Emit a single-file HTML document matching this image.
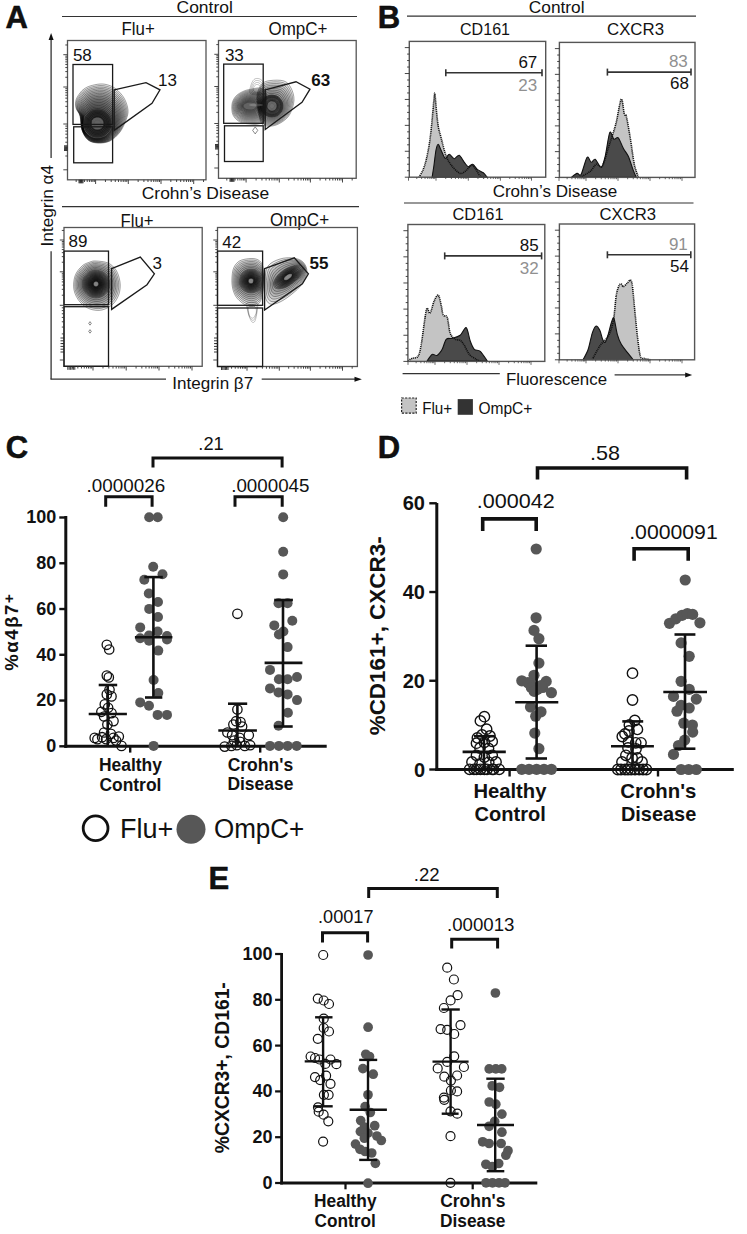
<!DOCTYPE html>
<html><head><meta charset="utf-8"><title>Figure</title>
<style>html,body{margin:0;padding:0;background:#fff;width:747px;height:1234px;overflow:hidden;position:relative;font-family:"Liberation Sans", sans-serif;}</style>
</head><body>
<svg width="747" height="1234" viewBox="0 0 747 1234" style="position:absolute;left:0;top:0" font-family='"Liberation Sans", sans-serif'>
<rect x="0" y="0" width="747" height="1234" fill="#fff"/>
<text x="5.5" y="28" font-size="31" text-anchor="start" fill="#111" font-weight="bold" stroke="#000" stroke-width="0.5">A</text>
<text x="204.7" y="13.2" font-size="17" text-anchor="middle" fill="#111" textLength="56.3" lengthAdjust="spacingAndGlyphs">Control</text>
<line x1="62" y1="16.5" x2="357" y2="16.5" stroke="#333" stroke-width="1.2"/>
<text x="138.2" y="34.9" font-size="17.5" text-anchor="middle" fill="#111" textLength="33.2" lengthAdjust="spacingAndGlyphs">Flu+</text>
<text x="298" y="34.9" font-size="17.5" text-anchor="middle" fill="#111" textLength="59" lengthAdjust="spacingAndGlyphs">OmpC+</text>
<text x="205.5" y="199.2" font-size="17" text-anchor="middle" fill="#111" textLength="127.5" lengthAdjust="spacingAndGlyphs">Crohn’s Disease</text>
<line x1="62" y1="206.6" x2="359" y2="206.6" stroke="#333" stroke-width="1.2"/>
<text x="137.1" y="226.8" font-size="17.5" text-anchor="middle" fill="#111" textLength="33" lengthAdjust="spacingAndGlyphs">Flu+</text>
<text x="299.5" y="226" font-size="17.5" text-anchor="middle" fill="#111" textLength="59.2" lengthAdjust="spacingAndGlyphs">OmpC+</text>
<line x1="51.1" y1="39" x2="51.1" y2="158.1" stroke="#333" stroke-width="1.3"/>
<polygon points="51.1,32.9 48.6,39.9 53.6,39.9" stroke="#222" stroke-width="0" fill="#111" stroke-linejoin="miter"/>
<text transform="translate(52.6,246.4) rotate(-90)" x="0" y="0" font-size="16.5" fill="#111" textLength="81.5" lengthAdjust="spacingAndGlyphs">Integrin α4</text>
<line x1="51.1" y1="251.3" x2="51.1" y2="379.2" stroke="#333" stroke-width="1.3"/>
<line x1="50.5" y1="379.2" x2="166" y2="379.2" stroke="#333" stroke-width="1.3"/>
<text x="172.2" y="389.4" font-size="16.5" text-anchor="start" fill="#111" textLength="81" lengthAdjust="spacingAndGlyphs">Integrin β7</text>
<line x1="261.7" y1="379.2" x2="355.5" y2="379.2" stroke="#333" stroke-width="1.3"/>
<polygon points="361.9,379.2 354.5,376.7 354.5,381.7" stroke="#222" stroke-width="0" fill="#111" stroke-linejoin="miter"/>
<g><path d="M90.00,86.00 C92.67,85.17 97.00,84.17 100.00,84.00 C103.00,83.83 105.33,84.17 108.00,85.00 C110.67,85.83 113.33,86.83 116.00,89.00 C118.67,91.17 122.00,94.50 124.00,98.00 C126.00,101.50 127.67,106.33 128.00,110.00 C128.33,113.67 127.33,116.33 126.00,120.00 C124.67,123.67 122.67,128.50 120.00,132.00 C117.33,135.50 113.67,139.17 110.00,141.00 C106.33,142.83 101.67,143.17 98.00,143.00 C94.33,142.83 90.67,142.17 88.00,140.00 C85.33,137.83 83.33,134.00 82.00,130.00 C80.67,126.00 81.00,119.67 80.00,116.00 C79.00,112.33 76.67,110.67 76.00,108.00 C75.33,105.33 75.33,102.50 76.00,100.00 C76.67,97.50 78.67,94.83 80.00,93.00 C81.33,91.17 82.33,90.17 84.00,89.00 C85.67,87.83 87.33,86.83 90.00,86.00Z" fill="#000" fill-opacity="0.06" stroke="#000" stroke-opacity="0.7" stroke-width="0.5"/><path d="M90.28,87.42 C92.85,86.63 97.02,85.69 99.90,85.53 C102.79,85.38 105.03,85.70 107.59,86.50 C110.15,87.30 112.72,88.26 115.29,90.33 C117.86,92.40 121.08,95.59 123.02,98.94 C124.96,102.30 126.60,106.94 126.95,110.46 C127.31,113.99 126.40,116.55 125.15,120.10 C123.90,123.66 122.04,128.37 119.47,131.80 C116.91,135.23 113.34,138.85 109.76,140.67 C106.18,142.49 101.60,142.87 97.99,142.72 C94.39,142.57 90.77,141.91 88.13,139.78 C85.48,137.65 83.42,133.90 82.10,129.96 C80.79,126.01 81.15,119.69 80.23,116.10 C79.31,112.51 77.17,110.97 76.58,108.42 C76.00,105.87 76.04,103.16 76.71,100.78 C77.38,98.39 79.33,95.84 80.63,94.09 C81.93,92.34 82.89,91.39 84.50,90.28 C86.11,89.17 87.72,88.22 90.28,87.42Z" fill="#000" fill-opacity="0.06" stroke="#000" stroke-opacity="0.7" stroke-width="0.5"/><path d="M90.57,88.85 C93.04,88.10 97.04,87.21 99.81,87.07 C102.57,86.93 104.72,87.24 107.18,88.00 C109.64,88.77 112.10,89.68 114.57,91.66 C117.05,93.64 120.15,96.68 122.04,99.89 C123.93,103.10 125.53,107.54 125.90,110.93 C126.28,114.32 125.46,116.76 124.30,120.21 C123.14,123.65 121.40,128.25 118.94,131.60 C116.48,134.96 113.02,138.53 109.53,140.34 C106.03,142.14 101.53,142.57 97.99,142.44 C94.44,142.31 90.88,141.65 88.25,139.56 C85.62,137.48 83.51,133.81 82.21,129.91 C80.91,126.02 81.30,119.71 80.46,116.20 C79.62,112.69 77.67,111.28 77.17,108.84 C76.66,106.40 76.74,103.83 77.42,101.55 C78.10,99.28 79.99,96.85 81.25,95.19 C82.52,93.52 83.45,92.62 85.00,91.57 C86.56,90.51 88.10,89.60 90.57,88.85Z" fill="#000" fill-opacity="0.06" stroke="#000" stroke-opacity="0.7" stroke-width="0.5"/><path d="M90.85,90.27 C93.22,89.56 97.06,88.73 99.71,88.60 C102.36,88.47 104.41,88.77 106.77,89.51 C109.13,90.24 111.48,91.10 113.86,92.99 C116.24,94.88 119.23,97.76 121.06,100.83 C122.89,103.90 124.45,108.15 124.85,111.39 C125.25,114.64 124.52,116.98 123.45,120.31 C122.37,123.65 120.77,128.12 118.41,131.40 C116.05,134.68 112.70,138.21 109.29,140.01 C105.89,141.80 101.46,142.27 97.98,142.16 C94.49,142.04 90.99,141.39 88.38,139.34 C85.77,137.30 83.59,133.71 82.31,129.87 C81.03,126.03 81.46,119.73 80.70,116.30 C79.94,112.86 78.18,111.59 77.75,109.26 C77.32,106.93 77.44,104.49 78.13,102.33 C78.82,100.17 80.65,97.86 81.88,96.28 C83.11,94.70 84.01,93.85 85.51,92.85 C87.00,91.85 88.49,90.98 90.85,90.27Z" fill="#000" fill-opacity="0.06" stroke="#000" stroke-opacity="0.7" stroke-width="0.5"/><path d="M91.14,91.70 C93.41,91.03 97.07,90.25 99.61,90.13 C102.15,90.02 104.11,90.31 106.36,91.01 C108.62,91.71 110.86,92.53 113.15,94.32 C115.43,96.11 118.30,98.85 120.08,101.77 C121.85,104.70 123.38,108.75 123.80,111.86 C124.22,114.96 123.58,117.19 122.60,120.42 C121.61,123.64 120.14,127.99 117.88,131.20 C115.63,134.41 112.37,137.90 109.05,139.68 C105.74,141.46 101.40,141.97 97.97,141.87 C94.55,141.78 91.10,141.13 88.50,139.12 C85.91,137.12 83.68,133.61 82.42,129.83 C81.15,126.04 81.61,119.76 80.93,116.40 C80.25,113.04 78.68,111.90 78.33,109.68 C77.99,107.47 78.15,105.16 78.84,103.11 C79.54,101.06 81.31,98.87 82.51,97.37 C83.70,95.88 84.57,95.08 86.01,94.13 C87.45,93.19 88.87,92.36 91.14,91.70Z" fill="#000" fill-opacity="0.06" stroke="#000" stroke-opacity="0.7" stroke-width="0.5"/><path d="M91.42,93.12 C93.59,92.50 97.09,91.77 99.51,91.67 C101.94,91.56 103.80,91.84 105.95,92.51 C108.11,93.17 110.24,93.95 112.43,95.65 C114.62,97.35 117.38,99.94 119.10,102.72 C120.82,105.50 122.31,109.35 122.76,112.32 C123.20,115.29 122.65,117.41 121.75,120.52 C120.85,123.64 119.51,127.86 117.35,131.00 C115.20,134.14 112.05,137.58 108.82,139.35 C105.59,141.11 101.33,141.67 97.96,141.59 C94.60,141.52 91.20,140.87 88.63,138.91 C86.06,136.94 83.77,133.52 82.52,129.78 C81.28,126.05 81.76,119.78 81.16,116.50 C80.56,113.22 79.18,112.20 78.92,110.10 C78.65,108.00 78.85,105.82 79.55,103.89 C80.26,101.95 81.98,99.88 83.14,98.47 C84.30,97.05 85.13,96.31 86.51,95.42 C87.89,94.53 89.26,93.75 91.42,93.12Z" fill="#000" fill-opacity="0.06" stroke="#000" stroke-opacity="0.7" stroke-width="0.5"/><path d="M91.71,94.55 C93.78,93.96 97.11,93.29 99.42,93.20 C101.72,93.11 103.49,93.38 105.54,94.01 C107.59,94.64 109.63,95.37 111.72,96.98 C113.82,98.59 116.45,101.03 118.12,103.66 C119.78,106.30 121.24,109.96 121.71,112.79 C122.17,115.61 121.71,117.62 120.90,120.63 C120.08,123.63 118.88,127.74 116.82,130.80 C114.77,133.87 111.73,137.26 108.58,139.01 C105.44,140.77 101.26,141.37 97.96,141.31 C94.65,141.26 91.31,140.62 88.76,138.69 C86.20,136.76 83.85,133.42 82.63,129.74 C81.40,126.06 81.91,119.80 81.39,116.60 C80.87,113.39 79.69,112.51 79.50,110.52 C79.31,108.53 79.55,106.49 80.27,104.66 C80.98,102.83 82.64,100.89 83.76,99.56 C84.89,98.23 85.69,97.53 87.01,96.70 C88.34,95.86 89.64,95.13 91.71,94.55Z" fill="#000" fill-opacity="0.06" stroke="#000" stroke-opacity="0.7" stroke-width="0.5"/><path d="M91.99,95.97 C93.96,95.43 97.13,94.81 99.32,94.73 C101.51,94.66 103.19,94.92 105.13,95.51 C107.08,96.11 109.01,96.79 111.01,98.31 C113.01,99.83 115.53,102.12 117.14,104.61 C118.74,107.10 120.17,110.56 120.66,113.25 C121.14,115.94 120.77,117.84 120.04,120.73 C119.32,123.62 118.25,127.61 116.30,130.60 C114.35,133.59 111.40,136.95 108.35,138.68 C105.29,140.42 101.19,141.06 97.95,141.03 C94.71,140.99 91.42,140.36 88.88,138.47 C86.35,136.58 83.94,133.32 82.73,129.69 C81.52,126.07 82.07,119.82 81.62,116.70 C81.18,113.57 80.19,112.82 80.08,110.94 C79.97,109.07 80.26,107.15 80.98,105.44 C81.69,103.72 83.30,101.89 84.39,100.65 C85.48,99.41 86.25,98.76 87.51,97.98 C88.78,97.20 90.03,96.51 91.99,95.97Z" fill="#000" fill-opacity="0.06" stroke="#000" stroke-opacity="0.7" stroke-width="0.5"/><path d="M92.28,97.40 C94.15,96.90 97.15,96.33 99.22,96.26 C101.30,96.20 102.88,96.45 104.72,97.01 C106.57,97.58 108.39,98.22 110.29,99.64 C112.20,101.06 114.60,103.20 116.15,105.55 C117.71,107.90 119.10,111.17 119.61,113.71 C120.11,116.26 119.83,118.05 119.19,120.84 C118.55,123.62 117.61,127.48 115.77,130.40 C113.92,133.32 111.08,136.63 108.11,138.35 C105.14,140.08 101.13,140.76 97.94,140.75 C94.76,140.73 91.53,140.10 89.01,138.25 C86.49,136.40 84.03,133.23 82.83,129.65 C81.64,126.07 82.22,119.84 81.86,116.80 C81.50,113.75 80.69,113.13 80.67,111.36 C80.64,109.60 80.96,107.82 81.69,106.22 C82.41,104.61 83.96,102.90 85.02,101.74 C86.07,100.59 86.81,99.99 88.02,99.27 C89.23,98.54 90.41,97.90 92.28,97.40Z" fill="#000" fill-opacity="0.06" stroke="#000" stroke-opacity="0.7" stroke-width="0.5"/><path d="M92.56,98.82 C94.33,98.36 97.17,97.85 99.13,97.80 C101.08,97.75 102.57,97.99 104.31,98.52 C106.06,99.04 107.77,99.64 109.58,100.97 C111.39,102.30 113.68,104.29 115.17,106.49 C116.67,108.69 118.03,111.77 118.56,114.18 C119.09,116.59 118.90,118.27 118.34,120.94 C117.79,123.61 116.98,127.35 115.24,130.20 C113.49,133.05 110.76,136.31 107.87,138.02 C104.99,139.73 101.06,140.46 97.94,140.47 C94.81,140.47 91.63,139.84 89.13,138.03 C86.63,136.22 84.11,133.13 82.94,129.61 C81.76,126.08 82.37,119.87 82.09,116.90 C81.81,113.92 81.20,113.43 81.25,111.78 C81.30,110.13 81.67,108.48 82.40,106.99 C83.13,105.50 84.62,103.91 85.64,102.84 C86.66,101.76 87.37,101.22 88.52,100.55 C89.67,99.88 90.80,99.28 92.56,98.82Z" fill="#000" fill-opacity="0.06" stroke="#000" stroke-opacity="0.7" stroke-width="0.5"/><path d="M92.85,100.24 C94.52,99.83 97.19,99.37 99.03,99.33 C100.87,99.29 102.26,99.52 103.90,100.02 C105.54,100.51 107.15,101.06 108.87,102.30 C110.58,103.54 112.75,105.38 114.19,107.44 C115.63,109.49 116.96,112.38 117.51,114.64 C118.06,116.91 117.96,118.49 117.49,121.04 C117.03,123.60 116.35,127.23 114.71,130.00 C113.06,132.78 110.43,135.99 107.64,137.69 C104.84,139.39 100.99,140.16 97.93,140.18 C94.86,140.20 91.74,139.58 89.26,137.81 C86.78,136.04 84.20,133.03 83.04,129.56 C81.89,126.09 82.52,119.89 82.32,116.99 C82.12,114.10 81.70,113.74 81.83,112.20 C81.96,110.67 82.37,109.15 83.11,107.77 C83.85,106.39 85.29,104.92 86.27,103.93 C87.26,102.94 87.93,102.45 89.02,101.83 C90.12,101.22 91.18,100.66 92.85,100.24Z" fill="#000" fill-opacity="0.06" stroke="#000" stroke-opacity="0.7" stroke-width="0.5"/><path d="M93.13,101.67 C94.70,101.29 97.21,100.89 98.93,100.86 C100.66,100.84 101.96,101.06 103.49,101.52 C105.03,101.98 106.54,102.49 108.15,103.63 C109.77,104.77 111.83,106.47 113.21,108.38 C114.60,110.29 115.89,112.98 116.46,115.11 C117.03,117.24 117.02,118.70 116.64,121.15 C116.26,123.60 115.72,127.10 114.18,129.80 C112.64,132.50 110.11,135.68 107.40,137.36 C104.69,139.04 100.92,139.86 97.92,139.90 C94.92,139.94 91.85,139.32 89.39,137.59 C86.92,135.86 84.28,132.94 83.15,129.52 C82.01,126.10 82.67,119.91 82.55,117.09 C82.43,114.28 82.20,114.05 82.42,112.63 C82.63,111.20 83.07,109.81 83.82,108.55 C84.57,107.28 85.95,105.93 86.90,105.02 C87.85,104.12 88.48,103.67 89.52,103.12 C90.56,102.56 91.57,102.04 93.13,101.67Z" fill="#000" fill-opacity="0.06" stroke="#000" stroke-opacity="0.7" stroke-width="0.5"/><path d="M93.42,103.09 C94.89,102.76 97.22,102.41 98.84,102.40 C100.45,102.39 101.65,102.59 103.09,103.02 C104.52,103.45 105.92,103.91 107.44,104.96 C108.97,106.01 110.90,107.56 112.23,109.32 C113.56,111.09 114.82,113.58 115.41,115.57 C116.01,117.56 116.08,118.92 115.79,121.25 C115.50,123.59 115.09,126.97 113.65,129.60 C112.21,132.23 109.79,135.36 107.16,137.03 C104.54,138.70 100.86,139.56 97.91,139.62 C94.97,139.68 91.96,139.07 89.51,137.37 C87.07,135.68 84.37,132.84 83.25,129.48 C82.13,126.11 82.83,119.93 82.78,117.19 C82.74,114.46 82.71,114.36 83.00,113.05 C83.29,111.73 83.78,110.48 84.53,109.32 C85.29,108.17 86.61,106.94 87.53,106.12 C88.44,105.30 89.04,104.90 90.03,104.40 C91.01,103.89 91.95,103.43 93.42,103.09Z" fill="#000" fill-opacity="0.06" stroke="#000" stroke-opacity="0.7" stroke-width="0.5"/><path d="M93.70,104.52 C95.07,104.23 97.24,103.93 98.74,103.93 C100.23,103.93 101.34,104.13 102.68,104.52 C104.01,104.92 105.30,105.33 106.73,106.29 C108.16,107.25 109.98,108.64 111.25,110.27 C112.52,111.89 113.75,114.19 114.36,116.04 C114.98,117.88 115.15,119.13 114.94,121.36 C114.73,123.59 114.46,126.84 113.12,129.40 C111.78,131.96 109.46,135.04 106.93,136.70 C104.39,138.36 100.79,139.26 97.91,139.34 C95.02,139.42 92.06,138.81 89.64,137.16 C87.21,135.50 84.46,132.74 83.35,129.43 C82.25,126.12 82.98,119.95 83.02,117.29 C83.05,114.63 83.21,114.66 83.58,113.47 C83.95,112.27 84.48,111.14 85.24,110.10 C86.00,109.06 87.27,107.95 88.15,107.21 C89.03,106.47 89.60,106.13 90.53,105.68 C91.45,105.23 92.34,104.81 93.70,104.52Z" fill="#000" fill-opacity="0.06" stroke="#000" stroke-opacity="0.7" stroke-width="0.5"/><path d="M93.99,105.94 C95.26,105.69 97.26,105.45 98.64,105.46 C100.02,105.48 101.04,105.67 102.27,106.02 C103.49,106.38 104.68,106.76 106.02,107.62 C107.35,108.49 109.05,109.73 110.27,111.21 C111.49,112.69 112.68,114.79 113.31,116.50 C113.95,118.21 114.21,119.35 114.09,121.46 C113.97,123.58 113.82,126.72 112.59,129.20 C111.36,131.69 109.14,134.72 106.69,136.37 C104.24,138.01 100.72,138.96 97.90,139.06 C95.08,139.15 92.17,138.55 89.76,136.94 C87.36,135.33 84.54,132.65 83.46,129.39 C82.37,126.13 83.13,119.98 83.25,117.39 C83.37,114.81 83.72,114.97 84.17,113.89 C84.62,112.80 85.18,111.81 85.95,110.88 C86.72,109.95 87.93,108.96 88.78,108.30 C89.63,107.65 90.16,107.36 91.03,106.96 C91.90,106.57 92.72,106.19 93.99,105.94Z" fill="#000" fill-opacity="0.06" stroke="#000" stroke-opacity="0.7" stroke-width="0.5"/><path d="M94.27,107.37 C95.44,107.16 97.28,106.97 98.54,107.00 C99.81,107.02 100.73,107.20 101.86,107.53 C102.98,107.85 104.06,108.18 105.30,108.95 C106.54,109.72 108.13,110.82 109.29,112.16 C110.45,113.49 111.61,115.40 112.27,116.96 C112.92,118.53 113.27,119.56 113.24,121.57 C113.20,123.57 113.19,126.59 112.06,129.00 C110.93,131.41 108.82,134.41 106.45,136.04 C104.09,137.67 100.65,138.66 97.89,138.78 C95.13,138.89 92.28,138.29 89.89,136.72 C87.50,135.15 84.63,132.55 83.56,129.34 C82.49,126.14 83.28,120.00 83.48,117.49 C83.68,114.99 84.22,115.28 84.75,114.31 C85.28,113.33 85.89,112.47 86.66,111.66 C87.44,110.84 88.60,109.96 89.41,109.40 C90.22,108.83 90.72,108.59 91.53,108.25 C92.34,107.91 93.10,107.58 94.27,107.37Z" fill="#000" fill-opacity="0.06" stroke="#000" stroke-opacity="0.7" stroke-width="0.5"/><path d="M94.56,108.79 C95.63,108.62 97.30,108.49 98.45,108.53 C99.60,108.57 100.42,108.74 101.45,109.03 C102.47,109.32 103.45,109.60 104.59,110.28 C105.73,110.96 107.20,111.91 108.31,113.10 C109.41,114.29 110.54,116.00 111.22,117.43 C111.90,118.86 112.34,119.78 112.39,121.67 C112.44,123.57 112.56,126.46 111.53,128.80 C110.50,131.14 108.49,134.09 106.22,135.71 C103.94,137.32 100.58,138.36 97.88,138.50 C95.18,138.63 92.39,138.03 90.02,136.50 C87.65,134.97 84.72,132.45 83.67,129.30 C82.62,126.15 83.44,120.02 83.71,117.59 C83.99,115.16 84.72,115.59 85.33,114.73 C85.94,113.87 86.59,113.14 87.37,112.43 C88.16,111.73 89.26,110.97 90.03,110.49 C90.81,110.01 91.28,109.81 92.03,109.53 C92.79,109.25 93.49,108.96 94.56,108.79Z" fill="#000" fill-opacity="0.1" stroke="#000" stroke-opacity="0.8" stroke-width="0.5"/><path d="M94.81,110.04 C95.79,109.89 97.32,109.77 98.37,109.80 C99.42,109.84 100.17,109.99 101.11,110.26 C102.05,110.53 102.94,110.78 103.99,111.40 C105.03,112.03 106.38,112.89 107.39,113.98 C108.40,115.07 109.43,116.64 110.05,117.94 C110.67,119.25 111.07,120.09 111.12,121.83 C111.17,123.56 111.28,126.21 110.34,128.35 C109.40,130.49 107.56,133.19 105.48,134.67 C103.40,136.15 100.32,137.10 97.85,137.22 C95.38,137.34 92.82,136.80 90.65,135.39 C88.48,133.99 85.80,131.69 84.84,128.81 C83.88,125.92 84.63,120.32 84.88,118.09 C85.14,115.87 85.81,116.26 86.37,115.47 C86.93,114.69 87.52,114.02 88.24,113.37 C88.95,112.73 89.96,112.04 90.67,111.60 C91.38,111.15 91.81,110.98 92.50,110.72 C93.19,110.46 93.83,110.19 94.81,110.04Z" fill="#000" fill-opacity="0.1" stroke="#000" stroke-opacity="0.8" stroke-width="0.5"/><path d="M95.06,111.29 C95.95,111.15 97.33,111.04 98.29,111.07 C99.24,111.11 99.93,111.25 100.78,111.49 C101.63,111.73 102.43,111.96 103.38,112.53 C104.33,113.09 105.55,113.88 106.47,114.87 C107.39,115.86 108.32,117.28 108.88,118.46 C109.45,119.65 109.81,120.41 109.86,121.98 C109.90,123.56 110.00,125.96 109.15,127.90 C108.29,129.84 106.62,132.29 104.74,133.63 C102.85,134.97 100.06,135.84 97.82,135.95 C95.58,136.06 93.25,135.56 91.29,134.29 C89.32,133.02 86.89,130.93 86.02,128.31 C85.15,125.70 85.83,120.61 86.06,118.60 C86.29,116.58 86.89,116.93 87.40,116.22 C87.91,115.51 88.45,114.90 89.10,114.31 C89.75,113.73 90.66,113.10 91.30,112.70 C91.95,112.30 92.34,112.14 92.96,111.91 C93.59,111.67 94.17,111.43 95.06,111.29Z" fill="#000" fill-opacity="0.1" stroke="#000" stroke-opacity="0.8" stroke-width="0.5"/><path d="M95.31,112.54 C96.10,112.42 97.35,112.32 98.21,112.35 C99.06,112.38 99.68,112.50 100.44,112.72 C101.20,112.94 101.93,113.15 102.78,113.65 C103.63,114.16 104.73,114.86 105.55,115.75 C106.38,116.64 107.21,117.91 107.72,118.98 C108.23,120.04 108.55,120.73 108.59,122.14 C108.63,123.55 108.72,125.71 107.95,127.45 C107.19,129.19 105.69,131.39 104.00,132.59 C102.30,133.80 99.80,134.57 97.79,134.67 C95.77,134.77 93.69,134.33 91.92,133.18 C90.16,132.04 87.98,130.17 87.19,127.82 C86.41,125.47 87.02,120.91 87.23,119.10 C87.44,117.29 87.98,117.61 88.44,116.96 C88.89,116.32 89.37,115.78 89.96,115.26 C90.54,114.73 91.36,114.17 91.94,113.81 C92.52,113.45 92.87,113.30 93.43,113.09 C93.99,112.88 94.51,112.67 95.31,112.54Z" fill="#000" fill-opacity="0.1" stroke="#000" stroke-opacity="0.8" stroke-width="0.5"/><path d="M95.56,113.79 C96.26,113.68 97.37,113.59 98.13,113.62 C98.88,113.65 99.43,113.76 100.10,113.95 C100.78,114.14 101.42,114.33 102.18,114.78 C102.93,115.22 103.90,115.85 104.63,116.64 C105.36,117.42 106.10,118.55 106.55,119.49 C107.00,120.44 107.29,121.04 107.33,122.29 C107.36,123.54 107.44,125.45 106.76,127.00 C106.08,128.54 104.76,130.49 103.25,131.56 C101.75,132.62 99.54,133.31 97.75,133.40 C95.97,133.48 94.12,133.09 92.56,132.08 C91.00,131.07 89.06,129.41 88.37,127.33 C87.68,125.25 88.22,121.20 88.40,119.60 C88.58,118.00 89.07,118.28 89.47,117.71 C89.87,117.14 90.30,116.66 90.82,116.20 C91.33,115.73 92.06,115.23 92.57,114.91 C93.09,114.59 93.39,114.47 93.89,114.28 C94.39,114.09 94.85,113.90 95.56,113.79Z" fill="#000" fill-opacity="0.1" stroke="#000" stroke-opacity="0.8" stroke-width="0.5"/><path d="M95.81,115.04 C96.42,114.95 97.38,114.87 98.04,114.89 C98.70,114.91 99.18,115.01 99.77,115.18 C100.36,115.35 100.92,115.51 101.58,115.90 C102.23,116.29 103.08,116.83 103.71,117.52 C104.35,118.20 105.00,119.19 105.39,120.01 C105.78,120.83 106.03,121.36 106.06,122.45 C106.09,123.54 106.16,125.20 105.57,126.55 C104.98,127.89 103.82,129.59 102.51,130.52 C101.21,131.45 99.27,132.05 97.72,132.12 C96.17,132.20 94.56,131.86 93.20,130.97 C91.83,130.09 90.15,128.65 89.55,126.84 C88.94,125.02 89.41,121.50 89.57,120.10 C89.73,118.71 90.15,118.95 90.50,118.46 C90.85,117.96 91.23,117.54 91.68,117.14 C92.13,116.73 92.76,116.30 93.21,116.02 C93.65,115.74 93.92,115.63 94.36,115.47 C94.79,115.31 95.19,115.14 95.81,115.04Z" fill="#000" fill-opacity="0.1" stroke="#000" stroke-opacity="0.8" stroke-width="0.5"/><path d="M96.06,116.29 C96.58,116.21 97.40,116.15 97.96,116.16 C98.53,116.18 98.93,116.27 99.43,116.41 C99.94,116.55 100.41,116.69 100.97,117.02 C101.53,117.35 102.25,117.82 102.80,118.40 C103.34,118.99 103.89,119.83 104.22,120.53 C104.55,121.23 104.77,121.68 104.80,122.60 C104.82,123.53 104.88,124.95 104.38,126.10 C103.87,127.24 102.89,128.69 101.77,129.48 C100.66,130.27 99.01,130.78 97.69,130.85 C96.37,130.91 94.99,130.62 93.83,129.87 C92.67,129.12 91.24,127.89 90.72,126.34 C90.21,124.80 90.61,121.79 90.74,120.60 C90.88,119.41 91.24,119.62 91.54,119.20 C91.84,118.78 92.15,118.42 92.54,118.08 C92.92,117.73 93.46,117.36 93.84,117.12 C94.22,116.89 94.45,116.79 94.82,116.66 C95.19,116.52 95.53,116.37 96.06,116.29Z" fill="#000" fill-opacity="0.1" stroke="#000" stroke-opacity="0.8" stroke-width="0.5"/><path d="M96.31,117.54 C96.74,117.48 97.42,117.42 97.88,117.44 C98.35,117.45 98.68,117.52 99.10,117.64 C99.51,117.76 99.91,117.87 100.37,118.15 C100.83,118.42 101.43,118.81 101.88,119.29 C102.32,119.77 102.78,120.46 103.06,121.04 C103.33,121.62 103.51,121.99 103.53,122.76 C103.55,123.53 103.60,124.70 103.18,125.65 C102.77,126.59 101.95,127.79 101.03,128.44 C100.11,129.10 98.75,129.52 97.66,129.57 C96.56,129.63 95.43,129.39 94.47,128.76 C93.51,128.14 92.32,127.13 91.90,125.85 C91.47,124.57 91.80,122.09 91.92,121.11 C92.03,120.12 92.32,120.30 92.57,119.95 C92.82,119.60 93.08,119.30 93.40,119.02 C93.72,118.73 94.16,118.43 94.48,118.23 C94.79,118.03 94.98,117.96 95.29,117.84 C95.59,117.73 95.88,117.61 96.31,117.54Z" fill="#000" fill-opacity="0.1" stroke="#000" stroke-opacity="0.8" stroke-width="0.5"/><path d="M96.56,118.79 C96.90,118.74 97.44,118.70 97.80,118.71 C98.17,118.72 98.44,118.78 98.76,118.87 C99.09,118.96 99.40,119.05 99.77,119.27 C100.13,119.49 100.61,119.79 100.96,120.17 C101.31,120.55 101.67,121.10 101.89,121.56 C102.11,122.01 102.25,122.31 102.26,122.91 C102.28,123.52 102.32,124.45 101.99,125.20 C101.66,125.94 101.02,126.89 100.29,127.41 C99.56,127.92 98.49,128.26 97.62,128.30 C96.76,128.34 95.86,128.15 95.10,127.66 C94.35,127.17 93.41,126.36 93.07,125.36 C92.74,124.35 93.00,122.39 93.09,121.61 C93.18,120.83 93.41,120.97 93.61,120.69 C93.80,120.42 94.01,120.18 94.26,119.96 C94.51,119.73 94.86,119.49 95.11,119.34 C95.36,119.18 95.51,119.12 95.75,119.03 C95.99,118.94 96.22,118.85 96.56,118.79Z" fill="#000" fill-opacity="0.1" stroke="#000" stroke-opacity="0.8" stroke-width="0.5"/><path d="M96.81,120.04 C97.06,120.00 97.45,119.97 97.72,119.98 C97.99,119.99 98.19,120.03 98.43,120.10 C98.67,120.17 98.90,120.23 99.17,120.39 C99.43,120.55 99.78,120.78 100.04,121.06 C100.30,121.34 100.56,121.74 100.72,122.07 C100.88,122.41 100.99,122.62 101.00,123.07 C101.01,123.52 101.04,124.20 100.80,124.75 C100.56,125.30 100.08,125.99 99.55,126.37 C99.01,126.75 98.22,126.99 97.59,127.02 C96.96,127.05 96.30,126.91 95.74,126.55 C95.18,126.19 94.50,125.60 94.25,124.86 C94.00,124.12 94.19,122.68 94.26,122.11 C94.33,121.54 94.50,121.64 94.64,121.44 C94.78,121.24 94.94,121.07 95.12,120.90 C95.30,120.73 95.56,120.56 95.75,120.44 C95.93,120.33 96.04,120.28 96.22,120.22 C96.39,120.15 96.56,120.08 96.81,120.04Z" fill="#000" fill-opacity="0.1" stroke="#000" stroke-opacity="0.8" stroke-width="0.5"/><path d="M96.26,117.32 C96.71,117.25 97.42,117.20 97.90,117.21 C98.38,117.23 98.73,117.30 99.16,117.42 C99.59,117.54 100.00,117.66 100.48,117.95 C100.96,118.23 101.58,118.63 102.04,119.13 C102.50,119.63 102.98,120.35 103.26,120.95 C103.55,121.55 103.73,121.94 103.75,122.73 C103.78,123.53 103.83,124.74 103.39,125.73 C102.96,126.71 102.12,127.95 101.16,128.63 C100.21,129.31 98.80,129.74 97.66,129.80 C96.53,129.85 95.35,129.60 94.36,128.96 C93.36,128.32 92.13,127.26 91.69,125.94 C91.25,124.61 91.59,122.04 91.71,121.02 C91.83,120.00 92.13,120.18 92.39,119.82 C92.65,119.45 92.92,119.15 93.25,118.85 C93.58,118.56 94.04,118.24 94.36,118.04 C94.69,117.83 94.89,117.75 95.20,117.63 C95.52,117.51 95.82,117.39 96.26,117.32Z" fill="#fff" fill-opacity="0.3" stroke="#000" stroke-opacity="0.5" stroke-width="0.5"/></g>
<rect x="67.5" y="40.5" width="138.50" height="139.30" stroke="#555" stroke-width="1.3" fill="none"/>
<rect x="73" y="64.5" width="39.60" height="59.90" stroke="#1a1a1a" stroke-width="1.3" fill="none"/>
<rect x="73.7" y="126.8" width="38.90" height="36.00" stroke="#1a1a1a" stroke-width="1.3" fill="none"/>
<polygon points="114.2,89.8 146.0,82.6 160.0,89.8 152.0,103.3 114.2,130.4" stroke="#1a1a1a" stroke-width="1.3" fill="none" stroke-linejoin="miter"/>
<text x="72.9" y="60.9" font-size="17" text-anchor="start" fill="#111">58</text>
<text x="158" y="85.8" font-size="17" text-anchor="start" fill="#111">13</text>
<line x1="65.3" y1="156.01282619858966" x2="67.5" y2="156.01282619858966" stroke="#333" stroke-width="0.9"/>
<line x1="65.3" y1="147.94784653383948" x2="67.5" y2="147.94784653383948" stroke="#333" stroke-width="0.9"/>
<line x1="65.3" y1="142.22565239717932" x2="67.5" y2="142.22565239717932" stroke="#333" stroke-width="0.9"/>
<line x1="65.3" y1="137.78717380141035" x2="67.5" y2="137.78717380141035" stroke="#333" stroke-width="0.9"/>
<line x1="65.3" y1="134.16067273242913" x2="67.5" y2="134.16067273242913" stroke="#333" stroke-width="0.9"/>
<line x1="65.3" y1="131.09450976734703" x2="67.5" y2="131.09450976734703" stroke="#333" stroke-width="0.9"/>
<line x1="65.3" y1="128.43847859576897" x2="67.5" y2="128.43847859576897" stroke="#333" stroke-width="0.9"/>
<line x1="65.3" y1="126.09569306767892" x2="67.5" y2="126.09569306767892" stroke="#333" stroke-width="0.9"/>
<line x1="65.3" y1="112.8618901604327" x2="67.5" y2="112.8618901604327" stroke="#333" stroke-width="0.9"/>
<line x1="65.3" y1="106.34651357537248" x2="67.5" y2="106.34651357537248" stroke="#333" stroke-width="0.9"/>
<line x1="65.3" y1="101.72378032086539" x2="67.5" y2="101.72378032086539" stroke="#333" stroke-width="0.9"/>
<line x1="65.3" y1="98.1381098395673" x2="67.5" y2="98.1381098395673" stroke="#333" stroke-width="0.9"/>
<line x1="65.3" y1="95.20840373580518" x2="67.5" y2="95.20840373580518" stroke="#333" stroke-width="0.9"/>
<line x1="65.3" y1="92.7313725194725" x2="67.5" y2="92.7313725194725" stroke="#333" stroke-width="0.9"/>
<line x1="65.3" y1="90.58567048129808" x2="67.5" y2="90.58567048129808" stroke="#333" stroke-width="0.9"/>
<line x1="65.3" y1="88.69302715074498" x2="67.5" y2="88.69302715074498" stroke="#333" stroke-width="0.9"/>
<line x1="65.3" y1="77.27673114005341" x2="67.5" y2="77.27673114005341" stroke="#333" stroke-width="0.9"/>
<line x1="65.3" y1="71.5889834725549" x2="67.5" y2="71.5889834725549" stroke="#333" stroke-width="0.9"/>
<line x1="65.3" y1="67.55346228010681" x2="67.5" y2="67.55346228010681" stroke="#333" stroke-width="0.9"/>
<line x1="65.3" y1="64.42326885994659" x2="67.5" y2="64.42326885994659" stroke="#333" stroke-width="0.9"/>
<line x1="65.3" y1="61.865714612608315" x2="67.5" y2="61.865714612608315" stroke="#333" stroke-width="0.9"/>
<line x1="65.3" y1="59.70333330753951" x2="67.5" y2="59.70333330753951" stroke="#333" stroke-width="0.9"/>
<line x1="65.3" y1="57.83019342016023" x2="67.5" y2="57.83019342016023" stroke="#333" stroke-width="0.9"/>
<line x1="65.3" y1="56.17796694510981" x2="67.5" y2="56.17796694510981" stroke="#333" stroke-width="0.9"/>
<line x1="65.3" y1="44.97673114005341" x2="67.5" y2="44.97673114005341" stroke="#333" stroke-width="0.9"/>
<line x1="63.3" y1="169.8" x2="67.5" y2="169.8" stroke="#333" stroke-width="0.9"/>
<line x1="63.3" y1="124" x2="67.5" y2="124" stroke="#333" stroke-width="0.9"/>
<line x1="63.3" y1="87" x2="67.5" y2="87" stroke="#333" stroke-width="0.9"/>
<line x1="63.3" y1="54.7" x2="67.5" y2="54.7" stroke="#333" stroke-width="0.9"/>
<line x1="64.0" y1="145.8" x2="67.5" y2="145.8" stroke="#222" stroke-width="0.9"/>
<line x1="64.0" y1="146.74" x2="67.5" y2="146.74" stroke="#222" stroke-width="0.9"/>
<line x1="64.0" y1="147.68" x2="67.5" y2="147.68" stroke="#222" stroke-width="0.9"/>
<line x1="64.0" y1="148.62" x2="67.5" y2="148.62" stroke="#222" stroke-width="0.9"/>
<line x1="64.0" y1="149.56" x2="67.5" y2="149.56" stroke="#222" stroke-width="0.9"/>
<line x1="64.0" y1="150.5" x2="67.5" y2="150.5" stroke="#222" stroke-width="0.9"/>
<line x1="76.16863387945867" y1="179.8" x2="76.16863387945867" y2="182.0" stroke="#333" stroke-width="0.9"/>
<line x1="81.06397088120661" y1="179.8" x2="81.06397088120661" y2="182.0" stroke="#333" stroke-width="0.9"/>
<line x1="84.53726775891735" y1="179.8" x2="84.53726775891735" y2="182.0" stroke="#333" stroke-width="0.9"/>
<line x1="87.23136612054132" y1="179.8" x2="87.23136612054132" y2="182.0" stroke="#333" stroke-width="0.9"/>
<line x1="89.43260476066528" y1="179.8" x2="89.43260476066528" y2="182.0" stroke="#333" stroke-width="0.9"/>
<line x1="91.29372551239634" y1="179.8" x2="91.29372551239634" y2="182.0" stroke="#333" stroke-width="0.9"/>
<line x1="92.90590163837602" y1="179.8" x2="92.90590163837602" y2="182.0" stroke="#333" stroke-width="0.9"/>
<line x1="94.32794176241322" y1="179.8" x2="94.32794176241322" y2="182.0" stroke="#333" stroke-width="0.9"/>
<line x1="105.44368085821219" y1="179.8" x2="105.44368085821219" y2="182.0" stroke="#333" stroke-width="0.9"/>
<line x1="111.20186502933296" y1="179.8" x2="111.20186502933296" y2="182.0" stroke="#333" stroke-width="0.9"/>
<line x1="115.28736171642437" y1="179.8" x2="115.28736171642437" y2="182.0" stroke="#333" stroke-width="0.9"/>
<line x1="118.45631914178782" y1="179.8" x2="118.45631914178782" y2="182.0" stroke="#333" stroke-width="0.9"/>
<line x1="121.04554588754516" y1="179.8" x2="121.04554588754516" y2="182.0" stroke="#333" stroke-width="0.9"/>
<line x1="123.23470590846621" y1="179.8" x2="123.23470590846621" y2="182.0" stroke="#333" stroke-width="0.9"/>
<line x1="125.13104257463657" y1="179.8" x2="125.13104257463657" y2="182.0" stroke="#333" stroke-width="0.9"/>
<line x1="126.80373005866593" y1="179.8" x2="126.80373005866593" y2="182.0" stroke="#333" stroke-width="0.9"/>
<line x1="138.14368085821218" y1="179.8" x2="138.14368085821218" y2="182.0" stroke="#333" stroke-width="0.9"/>
<line x1="143.90186502933295" y1="179.8" x2="143.90186502933295" y2="182.0" stroke="#333" stroke-width="0.9"/>
<line x1="147.98736171642437" y1="179.8" x2="147.98736171642437" y2="182.0" stroke="#333" stroke-width="0.9"/>
<line x1="151.15631914178783" y1="179.8" x2="151.15631914178783" y2="182.0" stroke="#333" stroke-width="0.9"/>
<line x1="153.74554588754515" y1="179.8" x2="153.74554588754515" y2="182.0" stroke="#333" stroke-width="0.9"/>
<line x1="155.93470590846619" y1="179.8" x2="155.93470590846619" y2="182.0" stroke="#333" stroke-width="0.9"/>
<line x1="157.83104257463657" y1="179.8" x2="157.83104257463657" y2="182.0" stroke="#333" stroke-width="0.9"/>
<line x1="159.50373005866592" y1="179.8" x2="159.50373005866592" y2="182.0" stroke="#333" stroke-width="0.9"/>
<line x1="170.84368085821217" y1="179.8" x2="170.84368085821217" y2="182.0" stroke="#333" stroke-width="0.9"/>
<line x1="176.60186502933294" y1="179.8" x2="176.60186502933294" y2="182.0" stroke="#333" stroke-width="0.9"/>
<line x1="180.68736171642436" y1="179.8" x2="180.68736171642436" y2="182.0" stroke="#333" stroke-width="0.9"/>
<line x1="183.85631914178782" y1="179.8" x2="183.85631914178782" y2="182.0" stroke="#333" stroke-width="0.9"/>
<line x1="186.44554588754514" y1="179.8" x2="186.44554588754514" y2="182.0" stroke="#333" stroke-width="0.9"/>
<line x1="188.63470590846617" y1="179.8" x2="188.63470590846617" y2="182.0" stroke="#333" stroke-width="0.9"/>
<line x1="190.53104257463656" y1="179.8" x2="190.53104257463656" y2="182.0" stroke="#333" stroke-width="0.9"/>
<line x1="192.2037300586659" y1="179.8" x2="192.2037300586659" y2="182.0" stroke="#333" stroke-width="0.9"/>
<line x1="203.54368085821216" y1="179.8" x2="203.54368085821216" y2="182.0" stroke="#333" stroke-width="0.9"/>
<line x1="95.6" y1="179.8" x2="95.6" y2="184.0" stroke="#333" stroke-width="0.9"/>
<line x1="128.3" y1="179.8" x2="128.3" y2="184.0" stroke="#333" stroke-width="0.9"/>
<line x1="161" y1="179.8" x2="161" y2="184.0" stroke="#333" stroke-width="0.9"/>
<line x1="193.7" y1="179.8" x2="193.7" y2="184.0" stroke="#333" stroke-width="0.9"/>
<line x1="79.0" y1="179.8" x2="79.0" y2="183.3" stroke="#222" stroke-width="0.9"/>
<line x1="79.8" y1="179.8" x2="79.8" y2="183.3" stroke="#222" stroke-width="0.9"/>
<line x1="80.6" y1="179.8" x2="80.6" y2="183.3" stroke="#222" stroke-width="0.9"/>
<line x1="81.4" y1="179.8" x2="81.4" y2="183.3" stroke="#222" stroke-width="0.9"/>
<line x1="82.2" y1="179.8" x2="82.2" y2="183.3" stroke="#222" stroke-width="0.9"/>
<line x1="83.0" y1="179.8" x2="83.0" y2="183.3" stroke="#222" stroke-width="0.9"/>
<g><path d="M250.00,93.00 C248.83,91.33 250.33,87.25 251.00,85.00 C251.67,82.75 252.83,80.58 254.00,79.50 C255.17,78.42 256.67,78.33 258.00,78.50 C259.33,78.67 260.92,79.25 262.00,80.50 C263.08,81.75 264.00,83.92 264.50,86.00 C265.00,88.08 266.08,91.50 265.00,93.00 C263.92,94.50 260.50,95.00 258.00,95.00 C255.50,95.00 251.17,94.67 250.00,93.00Z" fill="#000" fill-opacity="0.0" stroke="#000" stroke-opacity="0.45" stroke-width="0.5"/><path d="M251.21,92.31 C250.23,90.90 251.42,87.49 251.98,85.65 C252.54,83.81 253.59,82.14 254.56,81.28 C255.53,80.42 256.73,80.37 257.81,80.50 C258.89,80.64 260.17,81.08 261.07,82.09 C261.97,83.09 262.79,84.82 263.21,86.52 C263.62,88.22 264.45,91.01 263.56,92.28 C262.67,93.55 259.91,94.11 257.85,94.12 C255.79,94.12 252.19,93.72 251.21,92.31Z" fill="#000" fill-opacity="0.0" stroke="#000" stroke-opacity="0.45" stroke-width="0.5"/><path d="M252.41,91.62 C251.62,90.47 252.51,87.73 252.96,86.31 C253.41,84.88 254.35,83.69 255.12,83.06 C255.90,82.42 256.78,82.40 257.62,82.51 C258.45,82.61 259.42,82.92 260.13,83.67 C260.85,84.43 261.58,85.72 261.91,87.04 C262.24,88.35 262.82,90.53 262.12,91.56 C261.42,92.59 259.32,93.22 257.71,93.23 C256.09,93.24 253.21,92.77 252.41,91.62Z" fill="#000" fill-opacity="0.0" stroke="#000" stroke-opacity="0.45" stroke-width="0.5"/><path d="M253.62,90.93 C253.02,90.03 253.60,87.98 253.94,86.96 C254.28,85.94 255.10,85.25 255.69,84.84 C256.27,84.43 256.84,84.44 257.43,84.51 C258.01,84.58 258.67,84.75 259.20,85.26 C259.73,85.77 260.37,86.62 260.62,87.55 C260.86,88.48 261.19,90.04 260.68,90.84 C260.17,91.64 258.73,92.33 257.56,92.35 C256.38,92.36 254.23,91.83 253.62,90.93Z" fill="#000" fill-opacity="0.0" stroke="#000" stroke-opacity="0.45" stroke-width="0.5"/></g>
<g><path d="M232.00,104.00 C232.50,100.83 234.00,98.17 236.00,96.00 C238.00,93.83 241.33,92.17 244.00,91.00 C246.67,89.83 249.33,89.50 252.00,89.00 C254.67,88.50 257.67,87.50 260.00,88.00 C262.33,88.50 265.00,89.33 266.00,92.00 C267.00,94.67 266.17,99.33 266.00,104.00 C265.83,108.67 266.33,116.67 265.00,120.00 C263.67,123.33 260.50,123.33 258.00,124.00 C255.50,124.67 253.00,124.33 250.00,124.00 C247.00,123.67 242.83,123.50 240.00,122.00 C237.17,120.50 234.33,118.00 233.00,115.00 C231.67,112.00 231.50,107.17 232.00,104.00Z" fill="#000" fill-opacity="0.06" stroke="#000" stroke-opacity="0.65" stroke-width="0.5"/><path d="M232.80,104.11 C233.27,101.12 234.70,98.60 236.61,96.55 C238.52,94.50 241.70,92.92 244.25,91.81 C246.80,90.71 249.37,90.40 251.91,89.93 C254.46,89.47 257.31,88.55 259.53,89.03 C261.75,89.50 264.27,90.29 265.23,92.80 C266.20,95.32 265.49,99.71 265.33,104.11 C265.17,108.51 265.58,116.06 264.29,119.20 C263.01,122.35 260.01,122.35 257.63,122.98 C255.25,123.62 252.86,123.31 250.00,123.00 C247.14,122.69 243.16,122.52 240.45,121.10 C237.75,119.69 235.06,117.33 233.78,114.49 C232.50,111.66 232.33,107.10 232.80,104.11Z" fill="#000" fill-opacity="0.06" stroke="#000" stroke-opacity="0.65" stroke-width="0.5"/><path d="M233.60,104.22 C234.05,101.41 235.40,99.03 237.22,97.10 C239.03,95.17 242.07,93.67 244.50,92.63 C246.94,91.59 249.40,91.30 251.83,90.87 C254.25,90.44 256.95,89.59 259.06,90.05 C261.16,90.51 263.53,91.24 264.47,93.60 C265.40,95.96 264.81,100.08 264.66,104.22 C264.51,108.35 264.82,115.45 263.58,118.41 C262.35,121.36 259.52,121.37 257.26,121.97 C254.99,122.56 252.72,122.29 250.00,122.00 C247.28,121.71 243.48,121.54 240.91,120.21 C238.34,118.87 235.78,116.65 234.56,113.99 C233.34,111.32 233.16,107.04 233.60,104.22Z" fill="#000" fill-opacity="0.06" stroke="#000" stroke-opacity="0.65" stroke-width="0.5"/><path d="M234.41,104.33 C234.82,101.70 236.10,99.47 237.82,97.65 C239.55,95.84 242.43,94.42 244.75,93.44 C247.07,92.47 249.44,92.20 251.74,91.80 C254.04,91.41 256.59,90.64 258.58,91.08 C260.58,91.51 262.80,92.20 263.70,94.40 C264.60,96.61 264.13,100.46 263.99,104.33 C263.85,108.19 264.06,114.84 262.88,117.61 C261.69,120.38 259.03,120.38 256.89,120.95 C254.74,121.51 252.59,121.27 250.00,121.00 C247.41,120.73 243.81,120.56 241.36,119.31 C238.92,118.06 236.50,115.98 235.34,113.48 C234.18,110.98 233.99,106.97 234.41,104.33Z" fill="#000" fill-opacity="0.06" stroke="#000" stroke-opacity="0.65" stroke-width="0.5"/><path d="M235.21,104.44 C235.60,101.98 236.80,99.90 238.43,98.20 C240.06,96.50 242.80,95.17 245.01,94.26 C247.21,93.35 249.47,93.10 251.65,92.74 C253.84,92.38 256.23,91.69 258.11,92.10 C259.99,92.51 262.07,93.15 262.94,95.21 C263.81,97.26 263.45,100.83 263.32,104.43 C263.19,108.04 263.30,114.23 262.17,116.81 C261.04,119.40 258.54,119.40 256.52,119.93 C254.49,120.46 252.45,120.25 250.00,120.00 C247.55,119.75 244.13,119.58 241.82,118.41 C239.51,117.24 237.22,115.30 236.12,112.97 C235.02,110.65 234.82,106.91 235.21,104.44Z" fill="#000" fill-opacity="0.06" stroke="#000" stroke-opacity="0.65" stroke-width="0.5"/><path d="M236.01,104.56 C236.37,102.27 237.50,100.33 239.04,98.75 C240.58,97.17 243.17,95.92 245.26,95.07 C247.35,94.23 249.50,94.00 251.57,93.67 C253.63,93.35 255.87,92.74 257.64,93.13 C259.41,93.51 261.34,94.11 262.17,96.01 C263.01,97.91 262.77,101.21 262.65,104.54 C262.53,107.88 262.55,113.62 261.46,116.02 C260.38,118.41 258.06,118.42 256.15,118.91 C254.24,119.41 252.31,119.23 250.00,119.00 C247.69,118.77 244.46,118.60 242.27,117.51 C240.09,116.43 237.94,114.63 236.90,112.47 C235.86,110.31 235.66,106.84 236.01,104.56Z" fill="#000" fill-opacity="0.06" stroke="#000" stroke-opacity="0.65" stroke-width="0.5"/><path d="M236.81,104.67 C237.14,102.56 238.20,100.77 239.65,99.30 C241.10,97.84 243.54,96.67 245.51,95.89 C247.48,95.10 249.54,94.90 251.48,94.61 C253.42,94.32 255.51,93.78 257.17,94.15 C258.82,94.52 260.60,95.06 261.41,96.81 C262.21,98.56 262.09,101.58 261.98,104.65 C261.87,107.72 261.79,113.01 260.75,115.22 C259.72,117.43 257.57,117.43 255.77,117.90 C253.98,118.36 252.17,118.21 250.00,118.00 C247.83,117.79 244.78,117.62 242.73,116.62 C240.67,115.61 238.66,113.95 237.68,111.96 C236.69,109.97 236.49,106.78 236.81,104.67Z" fill="#000" fill-opacity="0.06" stroke="#000" stroke-opacity="0.65" stroke-width="0.5"/><path d="M237.62,104.78 C237.92,102.85 238.90,101.20 240.25,99.85 C241.61,98.51 243.90,97.42 245.76,96.70 C247.62,95.98 249.57,95.80 251.39,95.54 C253.22,95.29 255.15,94.83 256.69,95.18 C258.23,95.52 259.87,96.01 260.64,97.61 C261.41,99.21 261.41,101.96 261.31,104.76 C261.21,107.56 261.03,112.40 260.05,114.42 C259.06,116.44 257.08,116.45 255.40,116.88 C253.73,117.31 252.04,117.19 250.00,117.00 C247.96,116.81 245.11,116.64 243.18,115.72 C241.26,114.80 239.39,113.28 238.46,111.46 C237.53,109.63 237.32,106.71 237.62,104.78Z" fill="#000" fill-opacity="0.06" stroke="#000" stroke-opacity="0.65" stroke-width="0.5"/><path d="M238.42,104.89 C238.69,103.13 239.60,101.63 240.86,100.40 C242.13,99.17 244.27,98.17 246.01,97.51 C247.75,96.86 249.61,96.70 251.31,96.48 C253.01,96.26 254.79,95.88 256.22,96.20 C257.65,96.52 259.14,96.97 259.87,98.41 C260.61,99.86 260.73,102.33 260.64,104.87 C260.55,107.40 260.27,111.79 259.34,113.63 C258.40,115.46 256.59,115.47 255.03,115.86 C253.48,116.26 251.90,116.17 250.00,116.00 C248.10,115.83 245.43,115.67 243.64,114.82 C241.84,113.98 240.11,112.60 239.24,110.95 C238.37,109.29 238.15,106.65 238.42,104.89Z" fill="#000" fill-opacity="0.06" stroke="#000" stroke-opacity="0.65" stroke-width="0.5"/><path d="M239.22,105.00 C239.46,103.42 240.30,102.07 241.47,100.95 C242.64,99.84 244.64,98.92 246.26,98.33 C247.89,97.74 249.64,97.60 251.22,97.41 C252.80,97.23 254.43,96.93 255.75,97.23 C257.06,97.53 258.41,97.92 259.11,99.21 C259.81,100.51 260.05,102.71 259.97,104.98 C259.89,107.25 259.52,111.18 258.63,112.83 C257.75,114.47 256.10,114.48 254.66,114.84 C253.22,115.21 251.76,115.15 250.00,115.00 C248.24,114.85 245.76,114.69 244.09,113.93 C242.43,113.17 240.83,111.93 240.02,110.44 C239.21,108.95 238.98,106.58 239.22,105.00Z" fill="#000" fill-opacity="0.06" stroke="#000" stroke-opacity="0.65" stroke-width="0.5"/><path d="M240.02,105.11 C240.24,103.71 241.00,102.50 242.08,101.50 C243.16,100.51 245.01,99.67 246.51,99.14 C248.02,98.62 249.67,98.50 251.13,98.35 C252.59,98.20 254.07,97.97 255.28,98.25 C256.48,98.53 257.67,98.88 258.34,100.02 C259.01,101.16 259.37,103.08 259.30,105.09 C259.23,107.09 258.76,110.57 257.92,112.03 C257.09,113.49 255.61,113.50 254.29,113.83 C252.97,114.16 251.62,114.13 250.00,114.00 C248.38,113.87 246.08,113.71 244.55,113.03 C243.01,112.35 241.55,111.26 240.80,109.94 C240.04,108.62 239.81,106.52 240.02,105.11Z" fill="#000" fill-opacity="0.06" stroke="#000" stroke-opacity="0.65" stroke-width="0.5"/><path d="M240.83,105.22 C241.01,103.99 241.70,102.93 242.69,102.05 C243.68,101.18 245.37,100.42 246.77,99.96 C248.16,99.50 249.71,99.40 251.05,99.28 C252.39,99.17 253.72,99.02 254.80,99.28 C255.89,99.53 256.94,99.83 257.58,100.82 C258.22,101.80 258.69,103.46 258.63,105.19 C258.57,106.93 258.00,109.97 257.22,111.23 C256.43,112.50 255.12,112.52 253.92,112.81 C252.72,113.10 251.49,113.11 250.00,113.00 C248.51,112.89 246.41,112.73 245.00,112.13 C243.60,111.54 242.27,110.58 241.58,109.43 C240.88,108.28 240.64,106.45 240.83,105.22Z" fill="#000" fill-opacity="0.06" stroke="#000" stroke-opacity="0.65" stroke-width="0.5"/><path d="M241.63,105.33 C241.79,104.28 242.40,103.37 243.29,102.61 C244.19,101.84 245.74,101.17 247.02,100.77 C248.30,100.37 249.74,100.29 250.96,100.22 C252.18,100.14 253.36,100.07 254.33,100.30 C255.31,100.54 256.21,100.79 256.81,101.62 C257.42,102.45 258.01,103.83 257.96,105.30 C257.91,106.77 257.24,109.36 256.51,110.44 C255.77,111.52 254.63,111.53 253.55,111.79 C252.46,112.05 251.35,112.09 250.00,112.00 C248.65,111.91 246.73,111.75 245.46,111.24 C244.18,110.72 243.00,109.91 242.36,108.92 C241.72,107.94 241.47,106.39 241.63,105.33Z" fill="#000" fill-opacity="0.06" stroke="#000" stroke-opacity="0.65" stroke-width="0.5"/><path d="M242.43,105.45 C242.56,104.57 243.10,103.80 243.90,103.16 C244.71,102.51 246.11,101.92 247.27,101.59 C248.43,101.25 249.78,101.19 250.87,101.15 C251.97,101.11 253.00,101.12 253.86,101.33 C254.72,101.54 255.47,101.74 256.05,102.42 C256.62,103.10 257.33,104.21 257.29,105.41 C257.25,106.61 256.49,108.75 255.80,109.64 C255.12,110.53 254.15,110.55 253.18,110.78 C252.21,111.00 251.21,111.07 250.00,111.00 C248.79,110.93 247.05,110.77 245.91,110.34 C244.77,109.91 243.72,109.23 243.14,108.42 C242.56,107.60 242.30,106.32 242.43,105.45Z" fill="#000" fill-opacity="0.06" stroke="#000" stroke-opacity="0.65" stroke-width="0.5"/><path d="M243.23,105.56 C243.33,104.86 243.80,104.23 244.51,103.71 C245.22,103.18 246.47,102.67 247.52,102.40 C248.57,102.13 249.81,102.09 250.79,102.09 C251.77,102.08 252.64,102.16 253.39,102.35 C254.14,102.54 254.74,102.70 255.28,103.22 C255.82,103.75 256.65,104.58 256.62,105.52 C256.59,106.46 255.73,108.14 255.09,108.84 C254.46,109.55 253.66,109.57 252.81,109.76 C251.96,109.95 251.07,110.05 250.00,110.00 C248.93,109.95 247.38,109.79 246.37,109.44 C245.35,109.09 244.44,108.56 243.92,107.91 C243.40,107.26 243.14,106.26 243.23,105.56Z" fill="#000" fill-opacity="0.06" stroke="#000" stroke-opacity="0.65" stroke-width="0.5"/></g>
<g><path d="M262.00,84.00 C264.17,81.60 266.33,81.10 270.00,80.60 C273.67,80.10 280.50,79.77 284.00,81.00 C287.50,82.23 289.33,84.83 291.00,88.00 C292.67,91.17 294.17,95.67 294.00,100.00 C293.83,104.33 292.00,110.33 290.00,114.00 C288.00,117.67 285.00,120.00 282.00,122.00 C279.00,124.00 275.33,125.67 272.00,126.00 C268.67,126.33 264.33,126.67 262.00,124.00 C259.67,121.33 258.83,114.83 258.00,110.00 C257.17,105.17 256.33,99.33 257.00,95.00 C257.67,90.67 259.83,86.40 262.00,84.00Z" fill="#000" fill-opacity="0.06" stroke="#000" stroke-opacity="0.7" stroke-width="0.5"/><path d="M262.61,85.33 C264.68,83.12 266.69,82.65 270.13,82.20 C273.56,81.76 279.92,81.52 283.20,82.68 C286.47,83.84 288.19,86.21 289.78,89.16 C291.37,92.10 292.84,96.27 292.73,100.35 C292.62,104.42 290.98,110.12 289.12,113.61 C287.25,117.09 284.39,119.36 281.54,121.26 C278.68,123.16 275.17,124.70 272.00,125.00 C268.83,125.30 264.79,125.59 262.52,123.07 C260.25,120.55 259.19,114.49 258.38,109.89 C257.57,105.30 256.98,99.59 257.68,95.50 C258.39,91.41 260.53,87.55 262.61,85.33Z" fill="#000" fill-opacity="0.06" stroke="#000" stroke-opacity="0.7" stroke-width="0.5"/><path d="M263.21,86.66 C265.19,84.63 267.06,84.19 270.25,83.81 C273.45,83.42 279.34,83.27 282.39,84.35 C285.44,85.44 287.04,87.60 288.55,90.32 C290.07,93.04 291.52,96.87 291.47,100.69 C291.42,104.51 289.97,109.91 288.23,113.22 C286.50,116.52 283.78,118.72 281.07,120.52 C278.37,122.31 275.01,123.73 272.00,124.00 C268.99,124.27 265.24,124.51 263.04,122.14 C260.83,119.77 259.54,114.14 258.76,109.78 C257.98,105.43 257.62,99.85 258.36,96.00 C259.10,92.15 261.23,88.70 263.21,86.66Z" fill="#000" fill-opacity="0.06" stroke="#000" stroke-opacity="0.7" stroke-width="0.5"/><path d="M263.82,88.00 C265.71,86.15 267.42,85.74 270.38,85.41 C273.34,85.08 278.76,85.02 281.59,86.03 C284.41,87.04 285.89,88.98 287.33,91.48 C288.76,93.98 290.20,97.48 290.20,101.04 C290.21,104.59 288.95,109.70 287.35,112.82 C285.75,115.95 283.17,118.08 280.61,119.78 C278.05,121.47 274.84,122.76 272.00,123.00 C269.16,123.24 265.70,123.43 263.55,121.21 C261.41,118.98 259.89,113.79 259.14,109.67 C258.39,105.56 258.26,100.11 259.04,96.50 C259.82,92.89 261.93,89.84 263.82,88.00Z" fill="#000" fill-opacity="0.06" stroke="#000" stroke-opacity="0.7" stroke-width="0.5"/><path d="M264.42,89.33 C266.22,87.66 267.78,87.29 270.51,87.02 C273.23,86.74 278.18,86.77 280.78,87.70 C283.38,88.64 284.75,90.36 286.10,92.64 C287.46,94.92 288.88,98.08 288.94,101.38 C289.00,104.68 287.93,109.49 286.47,112.43 C285.00,115.37 282.56,117.44 280.15,119.03 C277.74,120.63 274.68,121.79 272.00,122.00 C269.32,122.21 266.15,122.35 264.07,120.27 C261.99,118.20 260.25,113.44 259.52,109.57 C258.80,105.69 258.91,100.37 259.72,97.00 C260.54,93.62 262.62,90.99 264.42,89.33Z" fill="#000" fill-opacity="0.06" stroke="#000" stroke-opacity="0.7" stroke-width="0.5"/><path d="M265.03,90.66 C266.73,89.18 268.14,88.83 270.63,88.62 C273.12,88.41 277.60,88.52 279.98,89.38 C282.35,90.24 283.60,91.74 284.88,93.80 C286.16,95.85 287.56,98.69 287.67,101.73 C287.79,104.77 286.92,109.28 285.58,112.04 C284.25,114.80 281.95,116.80 279.68,118.29 C277.42,119.79 274.52,120.83 272.00,121.00 C269.48,121.17 266.60,121.27 264.59,119.34 C262.57,117.42 260.60,113.10 259.90,109.46 C259.20,105.82 259.55,100.63 260.41,97.50 C261.26,94.36 263.32,92.14 265.03,90.66Z" fill="#000" fill-opacity="0.06" stroke="#000" stroke-opacity="0.7" stroke-width="0.5"/><path d="M265.63,91.99 C267.24,90.69 268.50,90.38 270.76,90.22 C273.01,90.07 277.02,90.27 279.17,91.06 C281.32,91.84 282.45,93.12 283.66,94.96 C284.86,96.79 286.23,99.29 286.41,102.07 C286.58,104.85 285.90,109.06 284.70,111.65 C283.50,114.23 281.34,116.16 279.22,117.55 C277.10,118.94 274.35,119.86 272.00,120.00 C269.65,120.14 267.06,120.19 265.11,118.41 C263.15,116.64 260.95,112.75 260.28,109.35 C259.61,105.95 260.19,100.89 261.09,98.00 C261.98,95.10 264.02,93.29 265.63,91.99Z" fill="#000" fill-opacity="0.06" stroke="#000" stroke-opacity="0.7" stroke-width="0.5"/><path d="M266.24,93.32 C267.76,92.21 268.86,91.92 270.88,91.83 C272.91,91.73 276.44,92.02 278.37,92.73 C280.29,93.45 281.30,94.50 282.43,96.12 C283.56,97.73 284.91,99.89 285.14,102.42 C285.37,104.94 284.88,108.85 283.82,111.25 C282.75,113.65 280.73,115.52 278.76,116.81 C276.79,118.10 274.19,118.89 272.00,119.00 C269.81,119.11 267.51,119.11 265.62,117.48 C263.73,115.85 261.31,112.40 260.66,109.24 C260.02,106.08 260.84,101.15 261.77,98.50 C262.70,95.84 264.72,94.43 266.24,93.32Z" fill="#000" fill-opacity="0.06" stroke="#000" stroke-opacity="0.7" stroke-width="0.5"/><path d="M266.84,94.65 C268.27,93.73 269.22,93.47 271.01,93.43 C272.80,93.39 275.86,93.77 277.56,94.41 C279.26,95.05 280.16,95.88 281.21,97.28 C282.26,98.67 283.59,100.50 283.88,102.76 C284.17,105.02 283.87,108.64 282.94,110.86 C282.00,113.08 280.12,114.88 278.29,116.07 C276.47,117.26 274.03,117.92 272.00,118.00 C269.97,118.08 267.97,118.03 266.14,116.55 C264.31,115.07 261.66,112.06 261.04,109.13 C260.43,106.21 261.48,101.41 262.45,99.00 C263.42,96.58 265.42,95.58 266.84,94.65Z" fill="#000" fill-opacity="0.06" stroke="#000" stroke-opacity="0.7" stroke-width="0.5"/><path d="M267.45,95.99 C268.78,95.24 269.58,95.02 271.14,95.03 C272.69,95.05 275.29,95.52 276.76,96.08 C278.23,96.65 279.01,97.26 279.99,98.43 C280.96,99.61 282.27,101.10 282.61,103.11 C282.96,105.11 282.85,108.43 282.05,110.47 C281.25,112.50 279.51,114.24 277.83,115.33 C276.15,116.42 273.86,116.95 272.00,117.00 C270.14,117.05 268.42,116.95 266.66,115.62 C264.90,114.29 262.01,111.71 261.42,109.02 C260.84,106.34 262.13,101.67 263.13,99.49 C264.13,97.32 266.11,96.73 267.45,95.99Z" fill="#000" fill-opacity="0.1" stroke="#000" stroke-opacity="0.8" stroke-width="0.5"/><path d="M267.84,96.84 C269.06,96.16 269.79,95.95 271.21,95.97 C272.63,95.98 275.01,96.41 276.36,96.93 C277.70,97.44 278.41,98.01 279.31,99.08 C280.20,100.15 281.40,101.52 281.71,103.35 C282.03,105.19 281.93,108.22 281.20,110.09 C280.47,111.95 278.87,113.54 277.33,114.54 C275.80,115.53 273.70,116.02 272.00,116.06 C270.30,116.11 268.72,116.02 267.11,114.80 C265.50,113.58 262.86,111.22 262.32,108.77 C261.78,106.31 262.96,102.04 263.88,100.05 C264.80,98.06 266.61,97.52 267.84,96.84Z" fill="#000" fill-opacity="0.1" stroke="#000" stroke-opacity="0.8" stroke-width="0.5"/><path d="M268.22,97.69 C269.33,97.07 270.00,96.88 271.28,96.90 C272.57,96.91 274.73,97.30 275.95,97.77 C277.17,98.24 277.82,98.75 278.63,99.72 C279.44,100.69 280.52,101.93 280.81,103.60 C281.09,105.26 281.00,108.02 280.34,109.71 C279.68,111.40 278.23,112.84 276.84,113.74 C275.45,114.65 273.55,115.09 272.00,115.13 C270.45,115.17 269.03,115.08 267.57,113.98 C266.10,112.88 263.71,110.74 263.22,108.51 C262.73,106.28 263.80,102.40 264.64,100.60 C265.47,98.80 267.11,98.31 268.22,97.69Z" fill="#000" fill-opacity="0.1" stroke="#000" stroke-opacity="0.8" stroke-width="0.5"/><path d="M268.61,98.54 C269.60,97.99 270.20,97.82 271.36,97.83 C272.51,97.84 274.45,98.19 275.55,98.61 C276.64,99.03 277.22,99.49 277.95,100.36 C278.68,101.24 279.65,102.35 279.91,103.84 C280.16,105.34 280.08,107.81 279.49,109.33 C278.89,110.85 277.59,112.14 276.34,112.95 C275.10,113.76 273.39,114.16 272.00,114.19 C270.61,114.23 269.33,114.15 268.02,113.16 C266.71,112.17 264.56,110.25 264.12,108.25 C263.68,106.25 264.64,102.77 265.39,101.15 C266.14,99.54 267.61,99.09 268.61,98.54Z" fill="#000" fill-opacity="0.1" stroke="#000" stroke-opacity="0.8" stroke-width="0.5"/><path d="M269.00,99.39 C269.88,98.90 270.41,98.75 271.43,98.76 C272.45,98.77 274.17,99.08 275.14,99.45 C276.12,99.83 276.63,100.23 277.27,101.01 C277.91,101.78 278.78,102.77 279.00,104.09 C279.23,105.41 279.16,107.60 278.63,108.95 C278.11,110.29 276.95,111.44 275.85,112.16 C274.74,112.88 273.23,113.23 272.00,113.26 C270.77,113.29 269.64,113.22 268.47,112.35 C267.31,111.47 265.41,109.77 265.02,107.99 C264.63,106.22 265.48,103.14 266.15,101.71 C266.81,100.27 268.12,99.88 269.00,99.39Z" fill="#000" fill-opacity="0.1" stroke="#000" stroke-opacity="0.8" stroke-width="0.5"/><path d="M269.38,100.24 C270.15,99.81 270.61,99.69 271.50,99.69 C272.40,99.70 273.89,99.97 274.74,100.30 C275.59,100.62 276.03,100.98 276.59,101.65 C277.15,102.32 277.90,103.18 278.10,104.34 C278.30,105.49 278.24,107.40 277.78,108.57 C277.32,109.74 276.32,110.74 275.35,111.36 C274.39,111.99 273.07,112.30 272.00,112.33 C270.93,112.35 269.94,112.29 268.93,111.53 C267.91,110.76 266.26,109.28 265.92,107.74 C265.58,106.19 266.32,103.51 266.90,102.26 C267.48,101.01 268.62,100.67 269.38,100.24Z" fill="#000" fill-opacity="0.1" stroke="#000" stroke-opacity="0.8" stroke-width="0.5"/><path d="M269.77,101.09 C270.42,100.73 270.82,100.62 271.58,100.63 C272.34,100.63 273.61,100.86 274.33,101.14 C275.06,101.42 275.43,101.72 275.91,102.29 C276.39,102.87 277.03,103.60 277.20,104.58 C277.37,105.56 277.32,107.19 276.93,108.19 C276.53,109.19 275.68,110.04 274.86,110.57 C274.04,111.10 272.91,111.37 272.00,111.39 C271.09,111.41 270.25,111.36 269.38,110.71 C268.52,110.06 267.11,108.80 266.82,107.48 C266.53,106.16 267.16,103.88 267.65,102.81 C268.15,101.75 269.12,101.46 269.77,101.09Z" fill="#000" fill-opacity="0.1" stroke="#000" stroke-opacity="0.8" stroke-width="0.5"/><path d="M270.16,101.94 C270.70,101.64 271.02,101.55 271.65,101.56 C272.28,101.57 273.33,101.75 273.93,101.98 C274.53,102.21 274.84,102.46 275.23,102.94 C275.63,103.41 276.16,104.02 276.30,104.83 C276.44,105.64 276.39,106.98 276.07,107.81 C275.75,108.63 275.04,109.34 274.36,109.78 C273.68,110.22 272.75,110.44 272.00,110.45 C271.25,110.47 270.55,110.43 269.84,109.89 C269.12,109.36 267.95,108.31 267.72,107.22 C267.48,106.14 268.00,104.25 268.41,103.37 C268.81,102.49 269.62,102.25 270.16,101.94Z" fill="#000" fill-opacity="0.1" stroke="#000" stroke-opacity="0.8" stroke-width="0.5"/><path d="M270.54,102.80 C270.97,102.56 271.23,102.49 271.72,102.49 C272.22,102.50 273.05,102.65 273.52,102.83 C274.00,103.01 274.24,103.20 274.56,103.58 C274.87,103.95 275.29,104.43 275.40,105.07 C275.51,105.72 275.47,106.78 275.22,107.43 C274.96,108.08 274.40,108.64 273.87,108.98 C273.33,109.33 272.60,109.50 272.00,109.52 C271.40,109.54 270.85,109.50 270.29,109.08 C269.73,108.65 268.80,107.83 268.62,106.97 C268.43,106.11 268.84,104.61 269.16,103.92 C269.48,103.22 270.12,103.03 270.54,102.80Z" fill="#000" fill-opacity="0.1" stroke="#000" stroke-opacity="0.8" stroke-width="0.5"/><path d="M270.93,103.65 C271.24,103.47 271.43,103.42 271.80,103.42 C272.16,103.43 272.77,103.54 273.12,103.67 C273.47,103.80 273.65,103.95 273.88,104.22 C274.11,104.50 274.41,104.85 274.49,105.32 C274.57,105.79 274.55,106.57 274.36,107.05 C274.17,107.53 273.76,107.94 273.37,108.19 C272.98,108.45 272.44,108.57 272.00,108.58 C271.56,108.60 271.16,108.57 270.74,108.26 C270.33,107.95 269.65,107.34 269.51,106.71 C269.38,106.08 269.68,104.98 269.92,104.47 C270.15,103.96 270.62,103.82 270.93,103.65Z" fill="#000" fill-opacity="0.1" stroke="#000" stroke-opacity="0.8" stroke-width="0.5"/><path d="M269.95,101.49 C270.55,101.16 270.91,101.06 271.61,101.07 C272.31,101.07 273.48,101.28 274.14,101.54 C274.81,101.79 275.15,102.07 275.59,102.60 C276.03,103.12 276.62,103.80 276.78,104.70 C276.93,105.60 276.88,107.09 276.52,108.01 C276.16,108.93 275.38,109.71 274.62,110.20 C273.87,110.69 272.84,110.93 272.00,110.95 C271.16,110.97 270.39,110.93 269.60,110.33 C268.80,109.73 267.51,108.57 267.24,107.36 C266.98,106.15 267.56,104.05 268.01,103.07 C268.46,102.10 269.35,101.83 269.95,101.49Z" fill="#fff" fill-opacity="0.3" stroke="#000" stroke-opacity="0.5" stroke-width="0.5"/></g>
<rect x="218.5" y="40.5" width="137.70" height="137.80" stroke="#555" stroke-width="1.3" fill="none"/>
<rect x="223.7" y="64.1" width="39.50" height="59.20" stroke="#1a1a1a" stroke-width="1.3" fill="none"/>
<rect x="224.5" y="125.8" width="38.70" height="35.70" stroke="#1a1a1a" stroke-width="1.3" fill="none"/>
<polygon points="265.2,89.8 296.0,81.8 310.0,89.2 302.0,102.3 265.2,129.4" stroke="#1a1a1a" stroke-width="1.3" fill="none" stroke-linejoin="miter"/>
<text x="224.9" y="60.5" font-size="17" text-anchor="start" fill="#111">33</text>
<text x="311.3" y="85.6" font-size="17" text-anchor="start" fill="#111" font-weight="bold">63</text>
<line x1="216.3" y1="154.60416519295285" x2="218.5" y2="154.60416519295285" stroke="#333" stroke-width="0.9"/>
<line x1="216.3" y1="146.76810416497503" x2="218.5" y2="146.76810416497503" stroke="#333" stroke-width="0.9"/>
<line x1="216.3" y1="141.20833038590567" x2="218.5" y2="141.20833038590567" stroke="#333" stroke-width="0.9"/>
<line x1="216.3" y1="136.89583480704715" x2="218.5" y2="136.89583480704715" stroke="#333" stroke-width="0.9"/>
<line x1="216.3" y1="133.37226935792785" x2="218.5" y2="133.37226935792785" stroke="#333" stroke-width="0.9"/>
<line x1="216.3" y1="130.39313721936557" x2="218.5" y2="130.39313721936557" stroke="#333" stroke-width="0.9"/>
<line x1="216.3" y1="127.81249557885852" x2="218.5" y2="127.81249557885852" stroke="#333" stroke-width="0.9"/>
<line x1="216.3" y1="125.53620832995004" x2="218.5" y2="125.53620832995004" stroke="#333" stroke-width="0.9"/>
<line x1="216.3" y1="112.3618901604327" x2="218.5" y2="112.3618901604327" stroke="#333" stroke-width="0.9"/>
<line x1="216.3" y1="105.84651357537248" x2="218.5" y2="105.84651357537248" stroke="#333" stroke-width="0.9"/>
<line x1="216.3" y1="101.22378032086539" x2="218.5" y2="101.22378032086539" stroke="#333" stroke-width="0.9"/>
<line x1="216.3" y1="97.6381098395673" x2="218.5" y2="97.6381098395673" stroke="#333" stroke-width="0.9"/>
<line x1="216.3" y1="94.70840373580518" x2="218.5" y2="94.70840373580518" stroke="#333" stroke-width="0.9"/>
<line x1="216.3" y1="92.2313725194725" x2="218.5" y2="92.2313725194725" stroke="#333" stroke-width="0.9"/>
<line x1="216.3" y1="90.08567048129808" x2="218.5" y2="90.08567048129808" stroke="#333" stroke-width="0.9"/>
<line x1="216.3" y1="88.19302715074498" x2="218.5" y2="88.19302715074498" stroke="#333" stroke-width="0.9"/>
<line x1="216.3" y1="76.80683413961981" x2="218.5" y2="76.80683413961981" stroke="#333" stroke-width="0.9"/>
<line x1="216.3" y1="71.13669559802688" x2="218.5" y2="71.13669559802688" stroke="#333" stroke-width="0.9"/>
<line x1="216.3" y1="67.1136682792396" x2="218.5" y2="67.1136682792396" stroke="#333" stroke-width="0.9"/>
<line x1="216.3" y1="63.99316586038019" x2="218.5" y2="63.99316586038019" stroke="#333" stroke-width="0.9"/>
<line x1="216.3" y1="61.44352973764667" x2="218.5" y2="61.44352973764667" stroke="#333" stroke-width="0.9"/>
<line x1="216.3" y1="59.28784311154093" x2="218.5" y2="59.28784311154093" stroke="#333" stroke-width="0.9"/>
<line x1="216.3" y1="57.420502418859414" x2="218.5" y2="57.420502418859414" stroke="#333" stroke-width="0.9"/>
<line x1="216.3" y1="55.77339119605374" x2="218.5" y2="55.77339119605374" stroke="#333" stroke-width="0.9"/>
<line x1="216.3" y1="44.6068341396198" x2="218.5" y2="44.6068341396198" stroke="#333" stroke-width="0.9"/>
<line x1="214.3" y1="168" x2="218.5" y2="168" stroke="#333" stroke-width="0.9"/>
<line x1="214.3" y1="123.5" x2="218.5" y2="123.5" stroke="#333" stroke-width="0.9"/>
<line x1="214.3" y1="86.5" x2="218.5" y2="86.5" stroke="#333" stroke-width="0.9"/>
<line x1="214.3" y1="54.3" x2="218.5" y2="54.3" stroke="#333" stroke-width="0.9"/>
<line x1="215.0" y1="144.5" x2="218.5" y2="144.5" stroke="#222" stroke-width="0.9"/>
<line x1="215.0" y1="145.4" x2="218.5" y2="145.4" stroke="#222" stroke-width="0.9"/>
<line x1="215.0" y1="146.3" x2="218.5" y2="146.3" stroke="#222" stroke-width="0.9"/>
<line x1="215.0" y1="147.2" x2="218.5" y2="147.2" stroke="#222" stroke-width="0.9"/>
<line x1="215.0" y1="148.1" x2="218.5" y2="148.1" stroke="#222" stroke-width="0.9"/>
<line x1="215.0" y1="149.0" x2="218.5" y2="149.0" stroke="#222" stroke-width="0.9"/>
<line x1="226.8084278803259" y1="178.3" x2="226.8084278803259" y2="180.5" stroke="#333" stroke-width="0.9"/>
<line x1="231.66854663026268" y1="178.3" x2="231.66854663026268" y2="180.5" stroke="#333" stroke-width="0.9"/>
<line x1="235.11685576065176" y1="178.3" x2="235.11685576065176" y2="180.5" stroke="#333" stroke-width="0.9"/>
<line x1="237.79157211967413" y1="178.3" x2="237.79157211967413" y2="180.5" stroke="#333" stroke-width="0.9"/>
<line x1="239.97697451058855" y1="178.3" x2="239.97697451058855" y2="180.5" stroke="#333" stroke-width="0.9"/>
<line x1="241.82470590439348" y1="178.3" x2="241.82470590439348" y2="180.5" stroke="#333" stroke-width="0.9"/>
<line x1="243.42528364097763" y1="178.3" x2="243.42528364097763" y2="180.5" stroke="#333" stroke-width="0.9"/>
<line x1="244.83709326052536" y1="178.3" x2="244.83709326052536" y2="180.5" stroke="#333" stroke-width="0.9"/>
<line x1="256.09419585604417" y1="178.3" x2="256.09419585604417" y2="180.5" stroke="#333" stroke-width="0.9"/>
<line x1="261.9404256566928" y1="178.3" x2="261.9404256566928" y2="180.5" stroke="#333" stroke-width="0.9"/>
<line x1="266.08839171208837" y1="178.3" x2="266.08839171208837" y2="180.5" stroke="#333" stroke-width="0.9"/>
<line x1="269.3058041439558" y1="178.3" x2="269.3058041439558" y2="180.5" stroke="#333" stroke-width="0.9"/>
<line x1="271.93462151273695" y1="178.3" x2="271.93462151273695" y2="180.5" stroke="#333" stroke-width="0.9"/>
<line x1="274.1572549284733" y1="178.3" x2="274.1572549284733" y2="180.5" stroke="#333" stroke-width="0.9"/>
<line x1="276.0825875681325" y1="178.3" x2="276.0825875681325" y2="180.5" stroke="#333" stroke-width="0.9"/>
<line x1="277.7808513133856" y1="178.3" x2="277.7808513133856" y2="180.5" stroke="#333" stroke-width="0.9"/>
<line x1="288.6620328651498" y1="178.3" x2="288.6620328651498" y2="180.5" stroke="#333" stroke-width="0.9"/>
<line x1="294.13847102178147" y1="178.3" x2="294.13847102178147" y2="180.5" stroke="#333" stroke-width="0.9"/>
<line x1="298.02406573029964" y1="178.3" x2="298.02406573029964" y2="180.5" stroke="#333" stroke-width="0.9"/>
<line x1="301.0379671348502" y1="178.3" x2="301.0379671348502" y2="180.5" stroke="#333" stroke-width="0.9"/>
<line x1="303.5005038869313" y1="178.3" x2="303.5005038869313" y2="180.5" stroke="#333" stroke-width="0.9"/>
<line x1="305.58254904444334" y1="178.3" x2="305.58254904444334" y2="180.5" stroke="#333" stroke-width="0.9"/>
<line x1="307.3860985954494" y1="178.3" x2="307.3860985954494" y2="180.5" stroke="#333" stroke-width="0.9"/>
<line x1="308.976942043563" y1="178.3" x2="308.976942043563" y2="180.5" stroke="#333" stroke-width="0.9"/>
<line x1="320.0630628608138" y1="178.3" x2="320.0630628608138" y2="180.5" stroke="#333" stroke-width="0.9"/>
<line x1="325.7155922765011" y1="178.3" x2="325.7155922765011" y2="180.5" stroke="#333" stroke-width="0.9"/>
<line x1="329.72612572162757" y1="178.3" x2="329.72612572162757" y2="180.5" stroke="#333" stroke-width="0.9"/>
<line x1="332.8369371391862" y1="178.3" x2="332.8369371391862" y2="180.5" stroke="#333" stroke-width="0.9"/>
<line x1="335.378655137315" y1="178.3" x2="335.378655137315" y2="180.5" stroke="#333" stroke-width="0.9"/>
<line x1="337.5276470844576" y1="178.3" x2="337.5276470844576" y2="180.5" stroke="#333" stroke-width="0.9"/>
<line x1="339.38918858244136" y1="178.3" x2="339.38918858244136" y2="180.5" stroke="#333" stroke-width="0.9"/>
<line x1="341.03118455300233" y1="178.3" x2="341.03118455300233" y2="180.5" stroke="#333" stroke-width="0.9"/>
<line x1="352.1630628608138" y1="178.3" x2="352.1630628608138" y2="180.5" stroke="#333" stroke-width="0.9"/>
<line x1="246.1" y1="178.3" x2="246.1" y2="182.5" stroke="#333" stroke-width="0.9"/>
<line x1="279.3" y1="178.3" x2="279.3" y2="182.5" stroke="#333" stroke-width="0.9"/>
<line x1="310.4" y1="178.3" x2="310.4" y2="182.5" stroke="#333" stroke-width="0.9"/>
<line x1="342.5" y1="178.3" x2="342.5" y2="182.5" stroke="#333" stroke-width="0.9"/>
<line x1="230.0" y1="178.3" x2="230.0" y2="181.8" stroke="#222" stroke-width="0.9"/>
<line x1="230.8" y1="178.3" x2="230.8" y2="181.8" stroke="#222" stroke-width="0.9"/>
<line x1="231.6" y1="178.3" x2="231.6" y2="181.8" stroke="#222" stroke-width="0.9"/>
<line x1="232.4" y1="178.3" x2="232.4" y2="181.8" stroke="#222" stroke-width="0.9"/>
<line x1="233.2" y1="178.3" x2="233.2" y2="181.8" stroke="#222" stroke-width="0.9"/>
<line x1="234.0" y1="178.3" x2="234.0" y2="181.8" stroke="#222" stroke-width="0.9"/>
<g><path d="M96.00,261.00 C99.00,261.17 104.67,261.50 108.00,263.00 C111.33,264.50 114.00,266.83 116.00,270.00 C118.00,273.17 119.50,278.00 120.00,282.00 C120.50,286.00 120.17,290.33 119.00,294.00 C117.83,297.67 115.83,301.33 113.00,304.00 C110.17,306.67 105.83,309.17 102.00,310.00 C98.17,310.83 93.67,310.33 90.00,309.00 C86.33,307.67 82.67,305.17 80.00,302.00 C77.33,298.83 74.83,294.33 74.00,290.00 C73.17,285.67 73.67,280.00 75.00,276.00 C76.33,272.00 79.50,268.33 82.00,266.00 C84.50,263.67 87.67,262.83 90.00,262.00 C92.33,261.17 93.00,260.83 96.00,261.00Z" fill="#000" fill-opacity="0.08" stroke="#000" stroke-opacity="0.7" stroke-width="0.5"/><path d="M96.00,262.29 C98.82,262.46 104.15,262.84 107.28,264.26 C110.41,265.69 112.90,267.88 114.78,270.85 C116.66,273.83 118.10,278.37 118.56,282.12 C119.03,285.87 118.66,289.94 117.55,293.37 C116.43,296.79 114.53,300.19 111.87,302.67 C109.21,305.14 105.17,307.45 101.59,308.23 C98.01,309.02 93.83,308.59 90.39,307.37 C86.95,306.15 83.49,303.87 80.96,300.92 C78.43,297.97 76.02,293.75 75.21,289.67 C74.41,285.59 74.87,280.21 76.13,276.43 C77.39,272.65 80.41,269.20 82.77,266.99 C85.14,264.79 88.13,264.00 90.33,263.21 C92.54,262.43 93.18,262.11 96.00,262.29Z" fill="#000" fill-opacity="0.08" stroke="#000" stroke-opacity="0.7" stroke-width="0.5"/><path d="M96.00,263.57 C98.65,263.75 103.63,264.17 106.56,265.53 C109.48,266.88 111.80,268.92 113.56,271.71 C115.32,274.49 116.71,278.73 117.13,282.24 C117.55,285.74 117.16,289.56 116.10,292.74 C115.03,295.92 113.22,299.04 110.73,301.33 C108.25,303.62 104.51,305.73 101.19,306.47 C97.86,307.20 93.99,306.85 90.78,305.75 C87.57,304.64 84.31,302.58 81.91,299.85 C79.52,297.11 77.20,293.17 76.43,289.34 C75.65,285.51 76.08,280.42 77.26,276.86 C78.45,273.30 81.31,270.06 83.54,267.99 C85.78,265.91 88.59,265.16 90.66,264.43 C92.74,263.69 93.35,263.39 96.00,263.57Z" fill="#000" fill-opacity="0.08" stroke="#000" stroke-opacity="0.7" stroke-width="0.5"/><path d="M96.00,264.86 C98.47,265.05 103.11,265.51 105.83,266.79 C108.56,268.07 110.70,269.96 112.34,272.56 C113.99,275.15 115.31,279.10 115.69,282.36 C116.08,285.62 115.66,289.17 114.65,292.11 C113.63,295.05 111.91,297.90 109.60,300.00 C107.29,302.10 103.85,304.02 100.78,304.70 C97.71,305.39 94.16,305.11 91.17,304.12 C88.19,303.13 85.13,301.29 82.87,298.77 C80.62,296.25 78.39,292.59 77.64,289.01 C76.89,285.43 77.28,280.63 78.39,277.29 C79.51,273.95 82.22,270.92 84.32,268.98 C86.42,267.04 89.05,266.33 90.99,265.64 C92.94,264.95 93.53,264.67 96.00,264.86Z" fill="#000" fill-opacity="0.08" stroke="#000" stroke-opacity="0.7" stroke-width="0.5"/><path d="M96.00,266.14 C98.30,266.34 102.59,266.84 105.11,268.05 C107.63,269.27 109.60,271.01 111.13,273.41 C112.65,275.82 113.91,279.47 114.26,282.48 C114.60,285.49 114.16,288.78 113.19,291.48 C112.23,294.17 110.60,296.76 108.47,298.67 C106.33,300.58 103.19,302.30 100.37,302.94 C97.55,303.58 94.32,303.37 91.56,302.49 C88.80,301.62 85.95,300.00 83.83,297.69 C81.71,295.39 79.57,292.00 78.85,288.68 C78.14,285.35 78.48,280.84 79.52,277.72 C80.56,274.61 83.12,271.78 85.09,269.97 C87.06,268.16 89.51,267.49 91.32,266.85 C93.14,266.22 93.70,265.94 96.00,266.14Z" fill="#000" fill-opacity="0.08" stroke="#000" stroke-opacity="0.7" stroke-width="0.5"/><path d="M96.00,267.43 C98.12,267.64 102.07,268.18 104.39,269.32 C106.71,270.46 108.50,272.05 109.91,274.27 C111.31,276.48 112.52,279.83 112.82,282.60 C113.13,285.36 112.66,288.39 111.74,290.84 C110.83,293.30 109.30,295.61 107.33,297.33 C105.37,299.06 102.53,300.58 99.96,301.17 C97.40,301.76 94.48,301.63 91.95,300.87 C89.42,300.11 86.77,298.70 84.78,296.62 C82.80,294.53 80.75,291.42 80.07,288.35 C79.38,285.27 79.69,281.05 80.66,278.15 C81.62,275.26 84.03,272.64 85.86,270.96 C87.69,269.28 89.96,268.66 91.65,268.07 C93.34,267.48 93.88,267.22 96.00,267.43Z" fill="#000" fill-opacity="0.08" stroke="#000" stroke-opacity="0.7" stroke-width="0.5"/><path d="M96.00,268.71 C97.95,268.93 101.55,269.51 103.67,270.58 C105.78,271.65 107.40,273.10 108.69,275.12 C109.97,277.14 111.12,280.20 111.39,282.72 C111.65,285.23 111.16,288.00 110.29,290.21 C109.43,292.43 107.99,294.47 106.20,296.00 C104.41,297.53 101.87,298.87 99.56,299.41 C97.25,299.95 94.64,299.88 92.34,299.24 C90.04,298.60 87.59,297.41 85.74,295.54 C83.90,293.67 81.94,290.84 81.28,288.01 C80.62,285.19 80.89,281.26 81.79,278.59 C82.68,275.91 84.93,273.51 86.63,271.96 C88.33,270.41 90.42,269.82 91.99,269.28 C93.55,268.74 94.05,268.50 96.00,268.71Z" fill="#000" fill-opacity="0.08" stroke="#000" stroke-opacity="0.7" stroke-width="0.5"/><path d="M96.00,270.00 C97.77,270.23 101.03,270.85 102.95,271.84 C104.86,272.84 106.30,274.14 107.47,275.97 C108.64,277.80 109.72,280.57 109.95,282.84 C110.18,285.11 109.65,287.61 108.84,289.58 C108.02,291.55 106.68,293.32 105.07,294.67 C103.45,296.01 101.20,297.15 99.15,297.64 C97.09,298.13 94.81,298.14 92.73,297.61 C90.66,297.08 88.41,296.12 86.70,294.46 C84.99,292.81 83.12,290.26 82.49,287.68 C81.86,285.11 82.10,281.47 82.92,279.02 C83.74,276.56 85.84,274.37 87.40,272.95 C88.97,271.53 90.88,270.98 92.32,270.49 C93.75,270.00 94.23,269.77 96.00,270.00Z" fill="#000" fill-opacity="0.11" stroke="#000" stroke-opacity="0.8" stroke-width="0.5"/><path d="M96.00,270.92 C97.66,271.13 100.71,271.71 102.49,272.64 C104.28,273.57 105.63,274.78 106.72,276.50 C107.81,278.21 108.83,280.79 109.04,282.91 C109.25,285.03 108.76,287.37 108.00,289.22 C107.24,291.06 105.98,292.71 104.47,293.97 C102.96,295.23 100.86,296.29 98.94,296.75 C97.02,297.21 94.89,297.22 92.95,296.72 C91.01,296.23 88.90,295.33 87.31,293.78 C85.71,292.23 83.97,289.85 83.38,287.44 C82.79,285.04 83.01,281.64 83.77,279.34 C84.54,277.05 86.50,275.00 87.97,273.67 C89.43,272.34 91.22,271.84 92.56,271.38 C93.90,270.92 94.34,270.70 96.00,270.92Z" fill="#000" fill-opacity="0.11" stroke="#000" stroke-opacity="0.8" stroke-width="0.5"/><path d="M96.00,271.83 C97.54,272.03 100.38,272.57 102.04,273.43 C103.70,274.30 104.95,275.43 105.97,277.02 C106.98,278.61 107.93,281.02 108.13,282.99 C108.33,284.96 107.87,287.14 107.16,288.85 C106.45,290.57 105.29,292.10 103.88,293.27 C102.48,294.44 100.52,295.43 98.74,295.86 C96.95,296.28 94.96,296.29 93.16,295.83 C91.36,295.37 89.40,294.53 87.92,293.10 C86.43,291.66 84.81,289.44 84.26,287.20 C83.71,284.96 83.92,281.80 84.63,279.67 C85.34,277.53 87.17,275.63 88.53,274.39 C89.89,273.16 91.55,272.69 92.80,272.26 C94.04,271.83 94.46,271.64 96.00,271.83Z" fill="#000" fill-opacity="0.11" stroke="#000" stroke-opacity="0.8" stroke-width="0.5"/><path d="M96.00,272.75 C97.42,272.93 100.05,273.43 101.58,274.23 C103.12,275.03 104.28,276.07 105.22,277.55 C106.16,279.02 107.03,281.24 107.21,283.07 C107.40,284.89 106.97,286.90 106.32,288.49 C105.67,290.07 104.59,291.50 103.29,292.57 C101.99,293.65 100.18,294.57 98.53,294.97 C96.88,295.36 95.04,295.37 93.37,294.94 C91.71,294.52 89.90,293.74 88.52,292.41 C87.15,291.08 85.65,289.03 85.14,286.96 C84.64,284.89 84.83,281.97 85.48,279.99 C86.14,278.02 87.83,276.26 89.09,275.12 C90.35,273.97 91.89,273.54 93.04,273.14 C94.19,272.75 94.58,272.57 96.00,272.75Z" fill="#000" fill-opacity="0.11" stroke="#000" stroke-opacity="0.8" stroke-width="0.5"/><path d="M96.00,273.66 C97.31,273.83 99.72,274.29 101.13,275.02 C102.54,275.76 103.61,276.72 104.47,278.07 C105.33,279.42 106.13,281.47 106.30,283.14 C106.47,284.82 106.08,286.67 105.48,288.12 C104.88,289.58 103.89,290.89 102.70,291.88 C101.50,292.87 99.84,293.71 98.32,294.07 C96.81,294.44 95.12,294.44 93.59,294.05 C92.06,293.66 90.39,292.95 89.13,291.73 C87.87,290.50 86.49,288.62 86.03,286.72 C85.56,284.82 85.73,282.13 86.34,280.32 C86.94,278.51 88.50,276.89 89.65,275.84 C90.81,274.79 92.22,274.39 93.28,274.03 C94.34,273.66 94.69,273.50 96.00,273.66Z" fill="#000" fill-opacity="0.11" stroke="#000" stroke-opacity="0.8" stroke-width="0.5"/><path d="M96.00,274.58 C97.19,274.73 99.39,275.15 100.68,275.82 C101.96,276.49 102.93,277.36 103.72,278.60 C104.51,279.83 105.24,281.69 105.39,283.22 C105.54,284.74 105.19,286.43 104.64,287.76 C104.09,289.08 103.19,290.28 102.10,291.18 C101.02,292.08 99.50,292.85 98.12,293.18 C96.74,293.51 95.20,293.52 93.80,293.16 C92.40,292.81 90.89,292.16 89.74,291.04 C88.59,289.93 87.33,288.21 86.91,286.48 C86.48,284.75 86.64,282.30 87.19,280.65 C87.75,278.99 89.16,277.52 90.21,276.56 C91.27,275.61 92.56,275.24 93.52,274.91 C94.48,274.58 94.81,274.43 96.00,274.58Z" fill="#000" fill-opacity="0.11" stroke="#000" stroke-opacity="0.8" stroke-width="0.5"/><path d="M96.00,275.49 C97.08,275.63 99.06,276.01 100.22,276.61 C101.38,277.22 102.26,278.01 102.97,279.12 C103.68,280.23 104.34,281.91 104.48,283.29 C104.62,284.67 104.30,286.19 103.80,287.39 C103.31,288.59 102.49,289.67 101.51,290.48 C100.53,291.30 99.16,291.99 97.91,292.29 C96.66,292.59 95.28,292.59 94.01,292.27 C92.75,291.95 91.38,291.36 90.35,290.36 C89.31,289.35 88.18,287.80 87.79,286.24 C87.41,284.67 87.55,282.46 88.05,280.97 C88.55,279.48 89.82,278.15 90.78,277.28 C91.73,276.42 92.89,276.09 93.76,275.79 C94.63,275.49 94.92,275.36 96.00,275.49Z" fill="#000" fill-opacity="0.11" stroke="#000" stroke-opacity="0.8" stroke-width="0.5"/><path d="M96.00,276.41 C96.96,276.53 98.73,276.87 99.77,277.41 C100.80,277.95 101.59,278.65 102.22,279.65 C102.85,280.64 103.44,282.14 103.57,283.37 C103.69,284.60 103.40,285.96 102.96,287.03 C102.52,288.10 101.79,289.06 100.92,289.78 C100.04,290.51 98.82,291.13 97.71,291.40 C96.59,291.66 95.35,291.67 94.23,291.38 C93.10,291.10 91.88,290.57 90.96,289.67 C90.03,288.78 89.02,287.39 88.68,286.00 C88.33,284.60 88.46,282.63 88.91,281.30 C89.35,279.97 90.49,278.78 91.34,278.01 C92.19,277.24 93.23,276.94 94.00,276.68 C94.78,276.41 95.04,276.29 96.00,276.41Z" fill="#000" fill-opacity="0.11" stroke="#000" stroke-opacity="0.8" stroke-width="0.5"/><path d="M96.00,277.32 C96.84,277.43 98.40,277.73 99.31,278.20 C100.22,278.68 100.91,279.30 101.47,280.17 C102.03,281.04 102.54,282.36 102.65,283.45 C102.76,284.53 102.51,285.72 102.12,286.66 C101.73,287.60 101.09,288.45 100.32,289.09 C99.55,289.73 98.48,290.27 97.50,290.51 C96.52,290.74 95.43,290.75 94.44,290.49 C93.45,290.24 92.38,289.78 91.56,288.99 C90.75,288.20 89.86,286.98 89.56,285.76 C89.26,284.53 89.37,282.79 89.76,281.62 C90.15,280.45 91.15,279.41 91.90,278.73 C92.65,278.05 93.56,277.79 94.24,277.56 C94.93,277.32 95.16,277.22 96.00,277.32Z" fill="#000" fill-opacity="0.11" stroke="#000" stroke-opacity="0.8" stroke-width="0.5"/><path d="M96.00,278.24 C96.73,278.33 98.07,278.59 98.86,279.00 C99.65,279.41 100.24,279.94 100.72,280.70 C101.20,281.45 101.65,282.59 101.74,283.52 C101.84,284.46 101.62,285.49 101.28,286.30 C100.95,287.11 100.40,287.84 99.73,288.39 C99.07,288.94 98.14,289.41 97.30,289.61 C96.45,289.82 95.51,289.82 94.66,289.60 C93.80,289.38 92.87,288.99 92.17,288.31 C91.47,287.63 90.70,286.58 90.44,285.52 C90.18,284.46 90.28,282.96 90.62,281.95 C90.95,280.94 91.82,280.04 92.46,279.45 C93.11,278.87 93.89,278.64 94.48,278.44 C95.07,278.24 95.27,278.15 96.00,278.24Z" fill="#000" fill-opacity="0.11" stroke="#000" stroke-opacity="0.8" stroke-width="0.5"/><path d="M96.00,279.15 C96.61,279.23 97.74,279.45 98.40,279.79 C99.07,280.14 99.57,280.59 99.97,281.22 C100.37,281.86 100.75,282.81 100.83,283.60 C100.91,284.38 100.73,285.25 100.44,285.93 C100.16,286.61 99.70,287.23 99.14,287.69 C98.58,288.16 97.80,288.55 97.09,288.72 C96.38,288.89 95.59,288.90 94.87,288.71 C94.15,288.53 93.37,288.19 92.78,287.62 C92.19,287.05 91.54,286.17 91.32,285.28 C91.11,284.38 91.19,283.12 91.47,282.27 C91.75,281.42 92.48,280.67 93.02,280.17 C93.57,279.68 94.23,279.49 94.72,279.32 C95.22,279.15 95.39,279.08 96.00,279.15Z" fill="#000" fill-opacity="0.11" stroke="#000" stroke-opacity="0.8" stroke-width="0.5"/><path d="M96.00,280.07 C96.50,280.13 97.41,280.31 97.95,280.59 C98.49,280.87 98.89,281.23 99.22,281.75 C99.55,282.26 99.85,283.04 99.92,283.67 C99.98,284.31 99.83,285.01 99.60,285.57 C99.38,286.12 99.00,286.62 98.55,287.00 C98.09,287.37 97.46,287.69 96.88,287.83 C96.31,287.97 95.67,287.97 95.08,287.82 C94.50,287.67 93.87,287.40 93.39,286.94 C92.91,286.47 92.38,285.76 92.21,285.03 C92.03,284.31 92.10,283.29 92.33,282.60 C92.56,281.91 93.15,281.30 93.59,280.90 C94.03,280.50 94.56,280.35 94.97,280.21 C95.37,280.07 95.50,280.01 96.00,280.07Z" fill="#000" fill-opacity="0.11" stroke="#000" stroke-opacity="0.8" stroke-width="0.5"/><path d="M96.00,280.98 C96.38,281.03 97.08,281.17 97.50,281.38 C97.91,281.60 98.22,281.88 98.47,282.27 C98.72,282.67 98.96,283.26 99.00,283.75 C99.05,284.24 98.94,284.78 98.77,285.20 C98.59,285.63 98.30,286.01 97.95,286.30 C97.61,286.59 97.12,286.83 96.68,286.94 C96.24,287.04 95.74,287.05 95.30,286.93 C94.85,286.82 94.36,286.61 94.00,286.25 C93.63,285.90 93.23,285.35 93.09,284.79 C92.96,284.24 93.01,283.46 93.18,282.93 C93.36,282.40 93.81,281.93 94.15,281.62 C94.49,281.31 94.90,281.20 95.21,281.09 C95.52,280.99 95.62,280.94 96.00,280.98Z" fill="#000" fill-opacity="0.11" stroke="#000" stroke-opacity="0.8" stroke-width="0.5"/><path d="M96.00,281.48 C96.32,281.52 96.91,281.63 97.25,281.81 C97.59,281.99 97.85,282.23 98.06,282.55 C98.27,282.88 98.47,283.38 98.51,283.79 C98.55,284.20 98.46,284.65 98.31,285.00 C98.16,285.36 97.92,285.68 97.63,285.92 C97.34,286.16 96.94,286.37 96.57,286.46 C96.20,286.54 95.79,286.55 95.41,286.45 C95.04,286.36 94.63,286.18 94.33,285.88 C94.02,285.59 93.68,285.13 93.57,284.66 C93.46,284.20 93.50,283.54 93.65,283.10 C93.79,282.66 94.17,282.27 94.45,282.01 C94.73,281.76 95.08,281.66 95.34,281.57 C95.59,281.48 95.68,281.44 96.00,281.48Z" fill="#fff" fill-opacity="0.45" stroke="#000" stroke-opacity="0.5" stroke-width="0.5"/></g>
<rect x="64" y="227.5" width="138.20" height="138.80" stroke="#555" stroke-width="1.3" fill="none"/>
<rect x="64" y="251.1" width="44.50" height="53.60" stroke="#1a1a1a" stroke-width="1.3" fill="none"/>
<rect x="64" y="306.7" width="44.50" height="59.60" stroke="#1a1a1a" stroke-width="1.3" fill="none"/>
<polygon points="111.6,268.6 140.3,257.1 154.4,273.8 147.0,284.7 111.6,309.4" stroke="#1a1a1a" stroke-width="1.3" fill="none" stroke-linejoin="miter"/>
<text x="68.6" y="247.3" font-size="17" text-anchor="start" fill="#111">89</text>
<text x="152.6" y="269.4" font-size="17" text-anchor="start" fill="#111">3</text>
<line x1="61.8" y1="343.53365923718025" x2="64" y2="343.53365923718025" stroke="#333" stroke-width="0.9"/>
<line x1="61.8" y1="333.9014673668345" x2="64" y2="333.9014673668345" stroke="#333" stroke-width="0.9"/>
<line x1="61.8" y1="327.0673184743605" x2="64" y2="327.0673184743605" stroke="#333" stroke-width="0.9"/>
<line x1="61.8" y1="321.76634076281977" x2="64" y2="321.76634076281977" stroke="#333" stroke-width="0.9"/>
<line x1="61.8" y1="317.4351266040147" x2="64" y2="317.4351266040147" stroke="#333" stroke-width="0.9"/>
<line x1="61.8" y1="313.77313721122016" x2="64" y2="313.77313721122016" stroke="#333" stroke-width="0.9"/>
<line x1="61.8" y1="310.6009777115407" x2="64" y2="310.6009777115407" stroke="#333" stroke-width="0.9"/>
<line x1="61.8" y1="307.80293473366896" x2="64" y2="307.80293473366896" stroke="#333" stroke-width="0.9"/>
<line x1="61.8" y1="295.2154951452566" x2="64" y2="295.2154951452566" stroke="#333" stroke-width="0.9"/>
<line x1="61.8" y1="289.3164379668913" x2="64" y2="289.3164379668913" stroke="#333" stroke-width="0.9"/>
<line x1="61.8" y1="285.1309902905133" x2="64" y2="285.1309902905133" stroke="#333" stroke-width="0.9"/>
<line x1="61.8" y1="281.8845048547434" x2="64" y2="281.8845048547434" stroke="#333" stroke-width="0.9"/>
<line x1="61.8" y1="279.23193311214794" x2="64" y2="279.23193311214794" stroke="#333" stroke-width="0.9"/>
<line x1="61.8" y1="276.9892156595224" x2="64" y2="276.9892156595224" stroke="#333" stroke-width="0.9"/>
<line x1="61.8" y1="275.0464854357699" x2="64" y2="275.0464854357699" stroke="#333" stroke-width="0.9"/>
<line x1="61.8" y1="273.33287593378265" x2="64" y2="273.33287593378265" stroke="#333" stroke-width="0.9"/>
<line x1="61.8" y1="262.2272461378854" x2="64" y2="262.2272461378854" stroke="#333" stroke-width="0.9"/>
<line x1="61.8" y1="256.62754409991476" x2="64" y2="256.62754409991476" stroke="#333" stroke-width="0.9"/>
<line x1="61.8" y1="252.6544922757708" x2="64" y2="252.6544922757708" stroke="#333" stroke-width="0.9"/>
<line x1="61.8" y1="249.5727538621146" x2="64" y2="249.5727538621146" stroke="#333" stroke-width="0.9"/>
<line x1="61.8" y1="247.05479023780015" x2="64" y2="247.05479023780015" stroke="#333" stroke-width="0.9"/>
<line x1="61.8" y1="244.92588232754665" x2="64" y2="244.92588232754665" stroke="#333" stroke-width="0.9"/>
<line x1="61.8" y1="243.08173841365618" x2="64" y2="243.08173841365618" stroke="#333" stroke-width="0.9"/>
<line x1="61.8" y1="241.45508819982948" x2="64" y2="241.45508819982948" stroke="#333" stroke-width="0.9"/>
<line x1="61.8" y1="230.4272461378854" x2="64" y2="230.4272461378854" stroke="#333" stroke-width="0.9"/>
<line x1="59.8" y1="360" x2="64" y2="360" stroke="#333" stroke-width="0.9"/>
<line x1="59.8" y1="305.3" x2="64" y2="305.3" stroke="#333" stroke-width="0.9"/>
<line x1="59.8" y1="271.8" x2="64" y2="271.8" stroke="#333" stroke-width="0.9"/>
<line x1="59.8" y1="240" x2="64" y2="240" stroke="#333" stroke-width="0.9"/>
<line x1="60.5" y1="338.0" x2="64" y2="338.0" stroke="#222" stroke-width="0.9"/>
<line x1="60.5" y1="340.8" x2="64" y2="340.8" stroke="#222" stroke-width="0.9"/>
<line x1="60.5" y1="343.6" x2="64" y2="343.6" stroke="#222" stroke-width="0.9"/>
<line x1="60.5" y1="346.4" x2="64" y2="346.4" stroke="#222" stroke-width="0.9"/>
<line x1="60.5" y1="349.2" x2="64" y2="349.2" stroke="#222" stroke-width="0.9"/>
<line x1="60.5" y1="352.0" x2="64" y2="352.0" stroke="#222" stroke-width="0.9"/>
<line x1="72.72986987425546" y1="366.3" x2="72.72986987425546" y2="368.5" stroke="#333" stroke-width="0.9"/>
<line x1="77.83651638687022" y1="366.3" x2="77.83651638687022" y2="368.5" stroke="#333" stroke-width="0.9"/>
<line x1="81.45973974851091" y1="366.3" x2="81.45973974851091" y2="368.5" stroke="#333" stroke-width="0.9"/>
<line x1="84.27013012574454" y1="366.3" x2="84.27013012574454" y2="368.5" stroke="#333" stroke-width="0.9"/>
<line x1="86.56638626112567" y1="366.3" x2="86.56638626112567" y2="368.5" stroke="#333" stroke-width="0.9"/>
<line x1="88.50784316041344" y1="366.3" x2="88.50784316041344" y2="368.5" stroke="#333" stroke-width="0.9"/>
<line x1="90.18960962276637" y1="366.3" x2="90.18960962276637" y2="368.5" stroke="#333" stroke-width="0.9"/>
<line x1="91.67303277374042" y1="366.3" x2="91.67303277374042" y2="368.5" stroke="#333" stroke-width="0.9"/>
<line x1="102.99419585604417" y1="366.3" x2="102.99419585604417" y2="368.5" stroke="#333" stroke-width="0.9"/>
<line x1="108.84042565669279" y1="366.3" x2="108.84042565669279" y2="368.5" stroke="#333" stroke-width="0.9"/>
<line x1="112.98839171208836" y1="366.3" x2="112.98839171208836" y2="368.5" stroke="#333" stroke-width="0.9"/>
<line x1="116.20580414395583" y1="366.3" x2="116.20580414395583" y2="368.5" stroke="#333" stroke-width="0.9"/>
<line x1="118.83462151273697" y1="366.3" x2="118.83462151273697" y2="368.5" stroke="#333" stroke-width="0.9"/>
<line x1="121.05725492847333" y1="366.3" x2="121.05725492847333" y2="368.5" stroke="#333" stroke-width="0.9"/>
<line x1="122.98258756813253" y1="366.3" x2="122.98258756813253" y2="368.5" stroke="#333" stroke-width="0.9"/>
<line x1="124.68085131338559" y1="366.3" x2="124.68085131338559" y2="368.5" stroke="#333" stroke-width="0.9"/>
<line x1="136.07378385777858" y1="366.3" x2="136.07378385777858" y2="368.5" stroke="#333" stroke-width="0.9"/>
<line x1="141.84957715480493" y1="366.3" x2="141.84957715480493" y2="368.5" stroke="#333" stroke-width="0.9"/>
<line x1="145.94756771555717" y1="366.3" x2="145.94756771555717" y2="368.5" stroke="#333" stroke-width="0.9"/>
<line x1="149.1262161422214" y1="366.3" x2="149.1262161422214" y2="368.5" stroke="#333" stroke-width="0.9"/>
<line x1="151.72336101258352" y1="366.3" x2="151.72336101258352" y2="368.5" stroke="#333" stroke-width="0.9"/>
<line x1="153.91921571246763" y1="366.3" x2="153.91921571246763" y2="368.5" stroke="#333" stroke-width="0.9"/>
<line x1="155.82135157333573" y1="366.3" x2="155.82135157333573" y2="368.5" stroke="#333" stroke-width="0.9"/>
<line x1="157.49915430960985" y1="366.3" x2="157.49915430960985" y2="368.5" stroke="#333" stroke-width="0.9"/>
<line x1="168.93398985691138" y1="366.3" x2="168.93398985691138" y2="368.5" stroke="#333" stroke-width="0.9"/>
<line x1="174.74500140574887" y1="366.3" x2="174.74500140574887" y2="368.5" stroke="#333" stroke-width="0.9"/>
<line x1="178.86797971382276" y1="366.3" x2="178.86797971382276" y2="368.5" stroke="#333" stroke-width="0.9"/>
<line x1="182.06601014308862" y1="366.3" x2="182.06601014308862" y2="368.5" stroke="#333" stroke-width="0.9"/>
<line x1="184.67899126266025" y1="366.3" x2="184.67899126266025" y2="368.5" stroke="#333" stroke-width="0.9"/>
<line x1="186.88823532047047" y1="366.3" x2="186.88823532047047" y2="368.5" stroke="#333" stroke-width="0.9"/>
<line x1="188.80196957073414" y1="366.3" x2="188.80196957073414" y2="368.5" stroke="#333" stroke-width="0.9"/>
<line x1="190.49000281149773" y1="366.3" x2="190.49000281149773" y2="368.5" stroke="#333" stroke-width="0.9"/>
<line x1="93" y1="366.3" x2="93" y2="370.5" stroke="#333" stroke-width="0.9"/>
<line x1="126.2" y1="366.3" x2="126.2" y2="370.5" stroke="#333" stroke-width="0.9"/>
<line x1="159" y1="366.3" x2="159" y2="370.5" stroke="#333" stroke-width="0.9"/>
<line x1="192" y1="366.3" x2="192" y2="370.5" stroke="#333" stroke-width="0.9"/>
<line x1="67.8" y1="366.3" x2="67.8" y2="369.8" stroke="#222" stroke-width="0.9"/>
<line x1="69.2" y1="366.3" x2="69.2" y2="369.8" stroke="#222" stroke-width="0.9"/>
<line x1="70.6" y1="366.3" x2="70.6" y2="369.8" stroke="#222" stroke-width="0.9"/>
<line x1="72.0" y1="366.3" x2="72.0" y2="369.8" stroke="#222" stroke-width="0.9"/>
<line x1="73.39999999999999" y1="366.3" x2="73.39999999999999" y2="369.8" stroke="#222" stroke-width="0.9"/>
<line x1="74.8" y1="366.3" x2="74.8" y2="369.8" stroke="#222" stroke-width="0.9"/>
<g><path d="M247.00,303.00 C248.67,302.17 255.33,301.50 257.00,303.00 C258.67,304.50 257.33,309.00 257.00,312.00 C256.67,315.00 255.83,319.33 255.00,321.00 C254.17,322.67 253.00,322.83 252.00,322.00 C251.00,321.17 249.83,318.33 249.00,316.00 C248.17,313.67 247.33,310.17 247.00,308.00 C246.67,305.83 245.33,303.83 247.00,303.00Z" fill="#000" fill-opacity="0.0" stroke="#000" stroke-opacity="0.45" stroke-width="0.5"/><path d="M248.02,304.83 C249.41,304.22 254.54,303.64 255.98,304.83 C257.42,306.03 256.93,309.59 256.67,312.00 C256.41,314.41 255.20,317.93 254.42,319.26 C253.64,320.60 252.87,320.59 252.00,320.00 C251.13,319.41 249.93,317.65 249.20,315.73 C248.47,313.82 247.82,310.32 247.63,308.50 C247.43,306.68 246.63,305.45 248.02,304.83Z" fill="#000" fill-opacity="0.0" stroke="#000" stroke-opacity="0.45" stroke-width="0.5"/><path d="M249.04,306.67 C250.16,306.28 253.75,305.78 254.96,306.67 C256.18,307.56 256.52,310.19 256.33,312.00 C256.15,313.81 254.57,316.53 253.84,317.53 C253.12,318.53 252.74,318.34 252.00,318.00 C251.26,317.66 250.02,316.97 249.40,315.47 C248.78,313.97 248.31,310.47 248.25,309.00 C248.19,307.53 247.92,307.06 249.04,306.67Z" fill="#000" fill-opacity="0.0" stroke="#000" stroke-opacity="0.45" stroke-width="0.5"/></g>
<g><path d="M246.00,259.00 C249.00,258.50 253.33,258.17 256.00,259.00 C258.67,259.83 260.67,261.17 262.00,264.00 C263.33,266.83 263.83,271.33 264.00,276.00 C264.17,280.67 263.67,287.67 263.00,292.00 C262.33,296.33 261.33,299.67 260.00,302.00 C258.67,304.33 257.00,305.33 255.00,306.00 C253.00,306.67 250.33,306.67 248.00,306.00 C245.67,305.33 243.17,303.83 241.00,302.00 C238.83,300.17 236.50,298.00 235.00,295.00 C233.50,292.00 232.33,288.17 232.00,284.00 C231.67,279.83 232.00,273.67 233.00,270.00 C234.00,266.33 235.83,263.83 238.00,262.00 C240.17,260.17 243.00,259.50 246.00,259.00Z" fill="#000" fill-opacity="0.07" stroke="#000" stroke-opacity="0.7" stroke-width="0.5"/><path d="M246.33,260.47 C249.13,260.00 253.16,259.72 255.67,260.47 C258.17,261.22 260.01,262.38 261.36,264.99 C262.71,267.59 263.54,271.67 263.74,276.10 C263.94,280.53 263.27,287.51 262.55,291.59 C261.82,295.67 260.70,298.49 259.39,300.58 C258.08,302.66 256.56,303.53 254.70,304.12 C252.84,304.71 250.39,304.73 248.22,304.13 C246.06,303.54 243.73,302.21 241.69,300.55 C239.65,298.88 237.44,296.91 236.00,294.13 C234.55,291.34 233.34,287.75 233.02,283.84 C232.71,279.93 233.13,274.10 234.11,270.68 C235.09,267.25 236.85,265.00 238.89,263.30 C240.93,261.60 243.54,260.94 246.33,260.47Z" fill="#000" fill-opacity="0.07" stroke="#000" stroke-opacity="0.7" stroke-width="0.5"/><path d="M246.67,261.94 C249.26,261.50 252.99,261.27 255.33,261.94 C257.67,262.62 259.36,263.60 260.72,265.98 C262.08,268.35 263.26,272.00 263.49,276.20 C263.72,280.40 262.88,287.35 262.10,291.17 C261.31,295.00 260.06,297.31 258.78,299.15 C257.50,301.00 256.12,301.72 254.40,302.24 C252.68,302.76 250.45,302.79 248.45,302.26 C246.45,301.74 244.29,300.60 242.38,299.10 C240.47,297.59 238.38,295.83 236.99,293.26 C235.60,290.69 234.34,287.33 234.04,283.68 C233.75,280.03 234.26,274.53 235.22,271.36 C236.17,268.18 237.87,266.17 239.78,264.60 C241.69,263.03 244.08,262.39 246.67,261.94Z" fill="#000" fill-opacity="0.07" stroke="#000" stroke-opacity="0.7" stroke-width="0.5"/><path d="M247.00,263.41 C249.39,263.00 252.82,262.82 255.00,263.41 C257.18,264.01 258.71,264.82 260.08,266.97 C261.45,269.12 262.97,272.33 263.23,276.30 C263.49,280.26 262.49,287.19 261.65,290.76 C260.80,294.33 259.43,296.13 258.17,297.73 C256.91,299.33 255.68,299.92 254.10,300.36 C252.52,300.81 250.51,300.85 248.67,300.39 C246.84,299.94 244.86,298.98 243.07,297.64 C241.29,296.31 239.32,294.74 237.99,292.39 C236.65,290.03 235.34,286.91 235.06,283.52 C234.79,280.12 235.39,274.97 236.33,272.03 C237.26,269.10 238.89,267.33 240.67,265.90 C242.45,264.46 244.61,263.83 247.00,263.41Z" fill="#000" fill-opacity="0.07" stroke="#000" stroke-opacity="0.7" stroke-width="0.5"/><path d="M247.34,264.88 C249.52,264.50 252.65,264.37 254.66,264.88 C256.68,265.40 258.05,266.04 259.44,267.96 C260.82,269.88 262.68,272.66 262.97,276.40 C263.26,280.13 262.10,287.03 261.20,290.35 C260.30,293.67 258.79,294.95 257.56,296.30 C256.32,297.66 255.24,298.12 253.80,298.49 C252.35,298.86 250.57,298.90 248.90,298.52 C247.23,298.14 245.42,297.36 243.77,296.19 C242.11,295.02 240.26,293.65 238.98,291.52 C237.70,289.38 236.34,286.49 236.08,283.36 C235.83,280.22 236.52,275.40 237.43,272.71 C238.35,270.02 239.91,268.50 241.56,267.20 C243.21,265.89 245.15,265.27 247.34,264.88Z" fill="#000" fill-opacity="0.07" stroke="#000" stroke-opacity="0.7" stroke-width="0.5"/><path d="M247.67,266.36 C249.65,266.00 252.47,265.92 254.33,266.36 C256.18,266.79 257.40,267.26 258.80,268.95 C260.20,270.64 262.39,273.00 262.71,276.49 C263.04,279.99 261.71,286.87 260.75,289.93 C259.79,293.00 258.16,293.77 256.95,294.88 C255.74,295.99 254.80,296.31 253.50,296.61 C252.19,296.90 250.63,296.96 249.12,296.65 C247.62,296.34 245.98,295.74 244.46,294.74 C242.93,293.74 241.20,292.57 239.98,290.64 C238.75,288.72 237.34,286.07 237.10,283.19 C236.87,280.32 237.65,275.84 238.54,273.39 C239.43,270.94 240.92,269.67 242.45,268.50 C243.97,267.33 245.69,266.71 247.67,266.36Z" fill="#000" fill-opacity="0.07" stroke="#000" stroke-opacity="0.7" stroke-width="0.5"/><path d="M248.01,267.83 C249.78,267.50 252.30,267.48 253.99,267.83 C255.69,268.18 256.75,268.47 258.16,269.94 C259.57,271.40 262.10,273.33 262.46,276.59 C262.81,279.86 261.32,286.71 260.30,289.52 C259.28,292.33 257.52,292.59 256.34,293.45 C255.15,294.32 254.36,294.51 253.20,294.73 C252.03,294.95 250.69,295.02 249.35,294.78 C248.00,294.54 246.54,294.12 245.15,293.29 C243.75,292.45 242.14,291.48 240.97,289.77 C239.80,288.06 238.35,285.65 238.13,283.03 C237.91,280.41 238.78,276.27 239.65,274.07 C240.52,271.86 241.94,270.84 243.33,269.80 C244.73,268.76 246.23,268.16 248.01,267.83Z" fill="#000" fill-opacity="0.07" stroke="#000" stroke-opacity="0.7" stroke-width="0.5"/><path d="M248.34,269.30 C249.91,269.00 252.13,269.03 253.66,269.30 C255.19,269.57 256.10,269.69 257.52,270.93 C258.94,272.16 261.81,273.66 262.20,276.69 C262.59,279.72 260.92,286.55 259.85,289.11 C258.77,291.66 256.89,291.41 255.73,292.03 C254.57,292.65 253.92,292.70 252.90,292.85 C251.87,293.00 250.75,293.08 249.57,292.91 C248.39,292.75 247.11,292.50 245.84,291.83 C244.57,291.17 243.08,290.40 241.97,288.90 C240.85,287.41 239.35,285.23 239.15,282.87 C238.95,280.51 239.91,276.71 240.76,274.74 C241.61,272.78 242.96,272.00 244.22,271.10 C245.49,270.19 246.77,269.60 248.34,269.30Z" fill="#000" fill-opacity="0.11" stroke="#000" stroke-opacity="0.8" stroke-width="0.5"/><path d="M248.53,270.13 C249.99,269.85 252.05,269.88 253.47,270.13 C254.89,270.38 255.73,270.49 257.06,271.64 C258.38,272.78 261.05,274.18 261.41,277.00 C261.77,279.81 260.22,286.16 259.22,288.53 C258.22,290.91 256.47,290.67 255.39,291.25 C254.32,291.83 253.72,291.87 252.76,292.01 C251.81,292.15 250.76,292.23 249.67,292.07 C248.58,291.91 247.38,291.69 246.21,291.07 C245.03,290.45 243.65,289.73 242.61,288.34 C241.57,286.95 240.17,284.93 239.99,282.74 C239.80,280.55 240.70,277.01 241.49,275.19 C242.27,273.36 243.53,272.64 244.70,271.80 C245.88,270.95 247.07,270.41 248.53,270.13Z" fill="#000" fill-opacity="0.11" stroke="#000" stroke-opacity="0.8" stroke-width="0.5"/><path d="M248.72,270.96 C250.07,270.70 251.97,270.72 253.28,270.96 C254.60,271.19 255.37,271.29 256.60,272.35 C257.82,273.41 260.28,274.70 260.61,277.30 C260.95,279.90 259.52,285.77 258.59,287.96 C257.67,290.15 256.05,289.93 255.06,290.47 C254.06,291.00 253.51,291.04 252.63,291.17 C251.75,291.30 250.78,291.37 249.77,291.23 C248.76,291.08 247.66,290.87 246.57,290.30 C245.48,289.73 244.21,289.06 243.25,287.78 C242.29,286.50 241.00,284.63 240.83,282.61 C240.65,280.58 241.48,277.31 242.21,275.63 C242.94,273.94 244.10,273.28 245.18,272.50 C246.27,271.72 247.37,271.21 248.72,270.96Z" fill="#000" fill-opacity="0.11" stroke="#000" stroke-opacity="0.8" stroke-width="0.5"/><path d="M248.91,271.78 C250.14,271.55 251.89,271.57 253.09,271.78 C254.30,272.00 255.01,272.10 256.13,273.07 C257.25,274.04 259.51,275.22 259.82,277.61 C260.13,279.99 258.82,285.37 257.97,287.39 C257.12,289.40 255.63,289.19 254.72,289.69 C253.81,290.18 253.30,290.22 252.49,290.33 C251.68,290.45 250.80,290.52 249.87,290.38 C248.95,290.25 247.93,290.06 246.94,289.53 C245.94,289.01 244.77,288.40 243.89,287.22 C243.01,286.05 241.82,284.33 241.67,282.47 C241.51,280.62 242.27,277.62 242.94,276.07 C243.60,274.53 244.67,273.92 245.66,273.20 C246.66,272.49 247.67,272.02 248.91,271.78Z" fill="#000" fill-opacity="0.11" stroke="#000" stroke-opacity="0.8" stroke-width="0.5"/><path d="M249.09,272.61 C250.22,272.40 251.81,272.42 252.91,272.61 C254.00,272.81 254.65,272.90 255.67,273.78 C256.69,274.66 258.75,275.74 259.03,277.91 C259.30,280.08 258.11,284.98 257.34,286.81 C256.57,288.64 255.22,288.46 254.39,288.90 C253.56,289.35 253.09,289.39 252.36,289.49 C251.62,289.60 250.82,289.66 249.98,289.54 C249.13,289.42 248.21,289.24 247.30,288.76 C246.39,288.29 245.33,287.73 244.53,286.66 C243.73,285.59 242.65,284.03 242.51,282.34 C242.36,280.65 243.06,277.92 243.66,276.52 C244.27,275.11 245.24,274.55 246.14,273.90 C247.05,273.25 247.97,272.83 249.09,272.61Z" fill="#000" fill-opacity="0.11" stroke="#000" stroke-opacity="0.8" stroke-width="0.5"/><path d="M249.28,273.44 C250.30,273.25 251.73,273.27 252.72,273.44 C253.71,273.62 254.29,273.70 255.21,274.49 C256.13,275.29 257.98,276.26 258.23,278.22 C258.48,280.18 257.41,284.59 256.71,286.24 C256.02,287.89 254.80,287.72 254.05,288.12 C253.30,288.53 252.89,288.56 252.22,288.65 C251.56,288.75 250.84,288.80 250.08,288.69 C249.32,288.59 248.49,288.43 247.67,288.00 C246.85,287.57 245.89,287.07 245.17,286.10 C244.45,285.14 243.47,283.73 243.34,282.21 C243.21,280.68 243.84,278.23 244.39,276.96 C244.93,275.69 245.81,275.19 246.62,274.60 C247.44,274.02 248.27,273.64 249.28,273.44Z" fill="#000" fill-opacity="0.11" stroke="#000" stroke-opacity="0.8" stroke-width="0.5"/><path d="M249.47,274.27 C250.38,274.10 251.65,274.12 252.53,274.27 C253.41,274.43 253.93,274.50 254.75,275.21 C255.57,275.92 257.22,276.78 257.44,278.52 C257.66,280.27 256.71,284.19 256.09,285.66 C255.47,287.13 254.38,286.98 253.72,287.34 C253.05,287.70 252.68,287.73 252.09,287.81 C251.50,287.90 250.85,287.95 250.18,287.85 C249.50,287.75 248.76,287.61 248.03,287.23 C247.31,286.85 246.45,286.40 245.81,285.54 C245.17,284.68 244.30,283.43 244.18,282.08 C244.07,280.72 244.63,278.53 245.11,277.40 C245.60,276.27 246.38,275.83 247.10,275.31 C247.83,274.78 248.57,274.44 249.47,274.27Z" fill="#000" fill-opacity="0.11" stroke="#000" stroke-opacity="0.8" stroke-width="0.5"/><path d="M249.66,275.10 C250.45,274.95 251.57,274.96 252.34,275.10 C253.11,275.24 253.57,275.30 254.29,275.92 C255.00,276.54 256.45,277.30 256.65,278.83 C256.84,280.36 256.00,283.80 255.46,285.09 C254.92,286.38 253.97,286.25 253.38,286.56 C252.80,286.88 252.47,286.90 251.96,286.97 C251.44,287.05 250.87,287.09 250.28,287.01 C249.69,286.92 249.04,286.80 248.40,286.46 C247.76,286.13 247.01,285.74 246.45,284.98 C245.88,284.23 245.13,283.13 245.02,281.94 C244.92,280.75 245.41,278.83 245.84,277.85 C246.26,276.86 246.95,276.46 247.58,276.01 C248.22,275.55 248.87,275.25 249.66,275.10Z" fill="#000" fill-opacity="0.11" stroke="#000" stroke-opacity="0.8" stroke-width="0.5"/><path d="M249.85,275.93 C250.53,275.80 251.49,275.81 252.15,275.93 C252.82,276.05 253.21,276.10 253.82,276.63 C254.44,277.17 255.69,277.82 255.85,279.13 C256.02,280.45 255.30,283.41 254.83,284.51 C254.37,285.62 253.55,285.51 253.05,285.78 C252.55,286.05 252.27,286.07 251.82,286.13 C251.38,286.20 250.89,286.24 250.38,286.16 C249.87,286.09 249.31,285.98 248.76,285.69 C248.22,285.41 247.57,285.07 247.09,284.42 C246.60,283.78 245.95,282.83 245.86,281.81 C245.78,280.79 246.20,279.14 246.56,278.29 C246.93,277.44 247.52,277.10 248.06,276.71 C248.61,276.32 249.17,276.06 249.85,275.93Z" fill="#000" fill-opacity="0.11" stroke="#000" stroke-opacity="0.8" stroke-width="0.5"/><path d="M250.04,276.76 C250.61,276.65 251.41,276.66 251.96,276.76 C252.52,276.86 252.85,276.90 253.36,277.35 C253.88,277.79 254.92,278.34 255.06,279.44 C255.20,280.54 254.60,283.01 254.21,283.94 C253.82,284.87 253.13,284.77 252.71,285.00 C252.29,285.22 252.06,285.24 251.69,285.30 C251.32,285.35 250.91,285.38 250.48,285.32 C250.06,285.26 249.59,285.17 249.13,284.93 C248.67,284.69 248.13,284.41 247.73,283.86 C247.32,283.32 246.78,282.53 246.70,281.68 C246.63,280.82 246.98,279.44 247.29,278.73 C247.59,278.02 248.09,277.74 248.54,277.41 C249.00,277.08 249.47,276.87 250.04,276.76Z" fill="#000" fill-opacity="0.11" stroke="#000" stroke-opacity="0.8" stroke-width="0.5"/><path d="M250.22,277.59 C250.68,277.50 251.33,277.51 251.78,277.59 C252.22,277.67 252.49,277.70 252.90,278.06 C253.32,278.42 254.15,278.86 254.27,279.74 C254.38,280.63 253.89,282.62 253.58,283.37 C253.27,284.11 252.72,284.04 252.38,284.22 C252.04,284.40 251.85,284.41 251.55,284.46 C251.25,284.50 250.93,284.52 250.58,284.48 C250.24,284.43 249.86,284.36 249.50,284.16 C249.13,283.96 248.69,283.74 248.37,283.30 C248.04,282.87 247.60,282.23 247.54,281.55 C247.48,280.86 247.77,279.75 248.01,279.17 C248.26,278.60 248.66,278.38 249.02,278.11 C249.39,277.85 249.77,277.67 250.22,277.59Z" fill="#000" fill-opacity="0.11" stroke="#000" stroke-opacity="0.8" stroke-width="0.5"/><path d="M250.41,278.42 C250.76,278.35 251.25,278.36 251.59,278.42 C251.93,278.48 252.13,278.50 252.44,278.78 C252.75,279.05 253.39,279.38 253.47,280.05 C253.56,280.72 253.19,282.23 252.95,282.79 C252.72,283.36 252.30,283.30 252.04,283.44 C251.79,283.57 251.65,283.58 251.42,283.62 C251.19,283.65 250.94,283.67 250.68,283.63 C250.42,283.59 250.14,283.54 249.86,283.39 C249.58,283.24 249.25,283.07 249.01,282.75 C248.76,282.42 248.43,281.93 248.38,281.41 C248.34,280.89 248.55,280.05 248.74,279.62 C248.93,279.18 249.22,279.01 249.50,278.81 C249.78,278.61 250.07,278.48 250.41,278.42Z" fill="#000" fill-opacity="0.11" stroke="#000" stroke-opacity="0.8" stroke-width="0.5"/><path d="M250.41,278.43 C250.76,278.36 251.25,278.37 251.59,278.43 C251.92,278.49 252.12,278.51 252.43,278.78 C252.75,279.05 253.38,279.39 253.46,280.05 C253.55,280.72 253.18,282.22 252.95,282.78 C252.71,283.35 252.29,283.29 252.04,283.43 C251.79,283.56 251.64,283.57 251.42,283.61 C251.19,283.64 250.94,283.66 250.69,283.62 C250.43,283.58 250.14,283.53 249.86,283.38 C249.59,283.24 249.26,283.07 249.01,282.74 C248.77,282.41 248.44,281.93 248.39,281.41 C248.35,280.89 248.56,280.06 248.75,279.62 C248.93,279.19 249.23,279.02 249.51,278.82 C249.79,278.62 250.07,278.49 250.41,278.43Z" fill="#fff" fill-opacity="0.45" stroke="#000" stroke-opacity="0.5" stroke-width="0.5"/></g>
<g><path d="M268.00,266.00 C270.50,262.50 275.83,260.33 280.00,259.00 C284.17,257.67 289.17,257.50 293.00,258.00 C296.83,258.50 300.67,259.67 303.00,262.00 C305.33,264.33 307.17,268.33 307.00,272.00 C306.83,275.67 304.50,280.33 302.00,284.00 C299.50,287.67 295.67,291.00 292.00,294.00 C288.33,297.00 283.67,300.33 280.00,302.00 C276.33,303.67 272.50,305.00 270.00,304.00 C267.50,303.00 265.83,300.00 265.00,296.00 C264.17,292.00 264.50,285.00 265.00,280.00 C265.50,275.00 265.50,269.50 268.00,266.00Z" fill="#000" fill-opacity="0.08" stroke="#000" stroke-opacity="0.7" stroke-width="0.5"/><path d="M269.61,267.55 C272.04,264.25 277.04,261.99 281.01,260.60 C284.98,259.20 289.83,258.85 293.43,259.21 C297.04,259.56 300.51,260.62 302.65,262.71 C304.79,264.79 306.48,268.31 306.28,271.69 C306.08,275.08 303.97,279.52 301.46,283.04 C298.94,286.56 294.78,290.01 291.20,292.80 C287.61,295.60 283.30,298.37 279.96,299.80 C276.61,301.24 273.35,302.30 271.12,301.42 C268.89,300.54 267.37,298.04 266.58,294.54 C265.80,291.04 265.91,284.92 266.41,280.43 C266.92,275.93 267.18,270.86 269.61,267.55Z" fill="#000" fill-opacity="0.08" stroke="#000" stroke-opacity="0.7" stroke-width="0.5"/><path d="M271.22,269.10 C273.58,265.99 278.25,263.64 282.02,262.19 C285.80,260.74 290.49,260.21 293.87,260.41 C297.25,260.62 300.35,261.58 302.30,263.41 C304.25,265.24 305.79,268.28 305.56,271.39 C305.33,274.50 303.44,278.71 300.92,282.08 C298.39,285.45 293.89,289.02 290.39,291.61 C286.89,294.19 282.94,296.40 279.92,297.60 C276.89,298.81 274.20,299.59 272.24,298.84 C270.28,298.08 268.90,296.08 268.16,293.08 C267.43,290.09 267.32,284.85 267.83,280.85 C268.34,276.85 268.85,272.21 271.22,269.10Z" fill="#000" fill-opacity="0.08" stroke="#000" stroke-opacity="0.7" stroke-width="0.5"/><path d="M272.83,270.65 C275.13,267.74 279.46,265.29 283.04,263.79 C286.62,262.28 291.15,261.56 294.30,261.62 C297.45,261.67 300.19,262.54 301.95,264.12 C303.71,265.70 305.11,268.25 304.84,271.08 C304.58,273.92 302.91,277.90 300.37,281.12 C297.83,284.34 293.01,288.03 289.59,290.41 C286.18,292.79 282.58,294.43 279.87,295.40 C277.17,296.38 275.05,296.89 273.36,296.26 C271.68,295.63 270.43,294.12 269.75,291.63 C269.06,289.13 268.73,284.77 269.24,281.28 C269.76,277.78 270.53,273.57 272.83,270.65Z" fill="#000" fill-opacity="0.08" stroke="#000" stroke-opacity="0.7" stroke-width="0.5"/><path d="M274.44,272.20 C276.67,269.48 280.66,266.94 284.05,265.38 C287.43,263.82 291.81,262.92 294.74,262.83 C297.66,262.73 300.04,263.50 301.60,264.82 C303.17,266.15 304.42,268.22 304.12,270.78 C303.83,273.33 302.39,277.08 299.83,280.16 C297.28,283.23 292.12,287.04 288.79,289.22 C285.46,291.39 282.22,292.46 279.83,293.21 C277.45,293.95 275.90,294.18 274.48,293.68 C273.07,293.17 271.96,292.16 271.33,290.17 C270.69,288.17 270.14,284.69 270.66,281.70 C271.18,278.71 272.20,274.92 274.44,272.20Z" fill="#000" fill-opacity="0.08" stroke="#000" stroke-opacity="0.7" stroke-width="0.5"/><path d="M276.05,273.75 C278.21,271.23 281.87,268.60 285.06,266.98 C288.25,265.36 292.47,264.27 295.17,264.03 C297.87,263.79 299.88,264.46 301.25,265.53 C302.62,266.60 303.73,268.19 303.40,270.47 C303.08,272.75 301.86,276.27 299.29,279.20 C296.72,282.12 291.24,286.05 287.99,288.02 C284.74,289.99 281.85,290.49 279.79,291.01 C277.73,291.52 276.75,291.48 275.61,291.09 C274.46,290.71 273.50,290.20 272.91,288.71 C272.32,287.21 271.55,284.62 272.07,282.13 C272.60,279.63 273.88,276.28 276.05,273.75Z" fill="#000" fill-opacity="0.08" stroke="#000" stroke-opacity="0.7" stroke-width="0.5"/><path d="M277.65,275.31 C279.75,272.98 283.08,270.25 286.07,268.57 C289.06,266.89 293.13,265.63 295.60,265.24 C298.07,264.85 299.72,265.42 300.90,266.24 C302.08,267.06 303.04,268.17 302.68,270.17 C302.33,272.17 301.33,275.46 298.75,278.23 C296.16,281.01 290.35,285.06 287.18,286.82 C284.02,288.58 281.49,288.53 279.75,288.81 C278.01,289.09 277.60,288.77 276.73,288.51 C275.85,288.25 275.03,288.25 274.49,287.25 C273.95,286.26 272.96,284.54 273.49,282.55 C274.02,280.56 275.56,277.63 277.65,275.31Z" fill="#000" fill-opacity="0.1" stroke="#000" stroke-opacity="0.8" stroke-width="0.5"/><path d="M278.39,275.43 C280.34,273.26 283.43,270.73 286.21,269.17 C288.99,267.61 292.77,266.43 295.06,266.07 C297.36,265.71 298.89,266.24 299.99,267.00 C301.08,267.76 301.98,268.79 301.64,270.65 C301.31,272.51 300.39,275.57 297.99,278.15 C295.58,280.73 290.18,284.49 287.24,286.13 C284.30,287.76 281.95,287.71 280.33,287.97 C278.71,288.23 278.34,287.94 277.53,287.70 C276.71,287.46 275.95,287.45 275.45,286.53 C274.95,285.60 274.03,284.01 274.52,282.16 C275.01,280.31 276.44,277.59 278.39,275.43Z" fill="#000" fill-opacity="0.1" stroke="#000" stroke-opacity="0.8" stroke-width="0.5"/><path d="M279.12,275.55 C280.92,273.55 283.78,271.21 286.35,269.77 C288.91,268.33 292.40,267.24 294.53,266.91 C296.65,266.57 298.06,267.06 299.07,267.76 C300.09,268.47 300.91,269.42 300.60,271.13 C300.30,272.85 299.44,275.68 297.22,278.06 C295.01,280.44 290.02,283.92 287.30,285.43 C284.58,286.94 282.41,286.89 280.92,287.13 C279.42,287.38 279.08,287.10 278.32,286.88 C277.57,286.66 276.87,286.65 276.40,285.80 C275.94,284.95 275.09,283.47 275.55,281.76 C276.00,280.05 277.32,277.54 279.12,275.55Z" fill="#000" fill-opacity="0.1" stroke="#000" stroke-opacity="0.8" stroke-width="0.5"/><path d="M279.85,275.67 C281.50,273.83 284.13,271.68 286.48,270.36 C288.84,269.04 292.04,268.04 293.99,267.74 C295.93,267.43 297.23,267.88 298.16,268.52 C299.09,269.17 299.85,270.04 299.56,271.62 C299.28,273.19 298.50,275.79 296.46,277.97 C294.43,280.16 289.85,283.35 287.36,284.74 C284.86,286.12 282.88,286.08 281.50,286.30 C280.13,286.52 279.81,286.27 279.12,286.07 C278.43,285.86 277.79,285.86 277.36,285.07 C276.94,284.29 276.16,282.94 276.57,281.37 C276.99,279.80 278.20,277.50 279.85,275.67Z" fill="#000" fill-opacity="0.1" stroke="#000" stroke-opacity="0.8" stroke-width="0.5"/><path d="M280.59,275.79 C282.09,274.12 284.47,272.16 286.62,270.96 C288.76,269.76 291.68,268.85 293.45,268.57 C295.22,268.29 296.40,268.70 297.25,269.29 C298.09,269.87 298.78,270.67 298.52,272.10 C298.27,273.54 297.55,275.90 295.70,277.89 C293.85,279.87 289.68,282.78 287.42,284.04 C285.15,285.30 283.34,285.26 282.09,285.46 C280.84,285.66 280.55,285.44 279.92,285.25 C279.29,285.07 278.71,285.06 278.32,284.35 C277.93,283.63 277.22,282.40 277.60,280.98 C277.98,279.55 279.08,277.46 280.59,275.79Z" fill="#000" fill-opacity="0.1" stroke="#000" stroke-opacity="0.8" stroke-width="0.5"/><path d="M281.32,275.91 C282.67,274.40 284.82,272.64 286.76,271.56 C288.69,270.47 291.31,269.66 292.91,269.40 C294.51,269.15 295.57,269.52 296.33,270.05 C297.09,270.58 297.72,271.30 297.48,272.59 C297.25,273.88 296.61,276.00 294.94,277.80 C293.27,279.59 289.52,282.21 287.47,283.34 C285.43,284.48 283.80,284.44 282.67,284.63 C281.55,284.81 281.29,284.60 280.72,284.44 C280.15,284.27 279.62,284.26 279.28,283.62 C278.93,282.98 278.29,281.87 278.63,280.58 C278.97,279.30 279.96,277.41 281.32,275.91Z" fill="#000" fill-opacity="0.1" stroke="#000" stroke-opacity="0.8" stroke-width="0.5"/><path d="M282.05,276.03 C283.26,274.69 285.17,273.12 286.89,272.15 C288.61,271.19 290.95,270.46 292.37,270.24 C293.79,270.01 294.74,270.34 295.42,270.81 C296.10,271.28 296.65,271.92 296.44,273.07 C296.24,274.22 295.66,276.11 294.18,277.71 C292.69,279.31 289.35,281.63 287.53,282.65 C285.71,283.66 284.26,283.63 283.26,283.79 C282.25,283.95 282.02,283.77 281.52,283.62 C281.01,283.47 280.54,283.47 280.23,282.89 C279.92,282.32 279.35,281.34 279.66,280.19 C279.96,279.05 280.85,277.37 282.05,276.03Z" fill="#000" fill-opacity="0.1" stroke="#000" stroke-opacity="0.8" stroke-width="0.5"/><path d="M282.78,276.15 C283.84,274.97 285.52,273.60 287.03,272.75 C288.54,271.91 290.59,271.27 291.83,271.07 C293.08,270.87 293.91,271.16 294.50,271.57 C295.10,271.99 295.58,272.55 295.40,273.55 C295.22,274.56 294.72,276.22 293.42,277.62 C292.12,279.02 289.19,281.06 287.59,281.95 C285.99,282.84 284.72,282.81 283.84,282.95 C282.96,283.10 282.76,282.94 282.32,282.80 C281.87,282.67 281.46,282.67 281.19,282.17 C280.92,281.67 280.42,280.80 280.68,279.80 C280.95,278.79 281.73,277.32 282.78,276.15Z" fill="#000" fill-opacity="0.1" stroke="#000" stroke-opacity="0.8" stroke-width="0.5"/><path d="M283.52,276.27 C284.43,275.26 285.87,274.08 287.16,273.35 C288.46,272.62 290.22,272.07 291.29,271.90 C292.37,271.73 293.08,271.98 293.59,272.34 C294.10,272.69 294.52,273.17 294.36,274.04 C294.21,274.91 293.78,276.33 292.66,277.54 C291.54,278.74 289.02,280.49 287.65,281.26 C286.27,282.02 285.18,281.99 284.42,282.12 C283.67,282.24 283.50,282.10 283.12,281.99 C282.74,281.88 282.38,281.87 282.15,281.44 C281.91,281.01 281.48,280.27 281.71,279.41 C281.94,278.54 282.61,277.28 283.52,276.27Z" fill="#000" fill-opacity="0.1" stroke="#000" stroke-opacity="0.8" stroke-width="0.5"/><path d="M284.25,276.39 C285.01,275.54 286.22,274.55 287.30,273.95 C288.39,273.34 289.86,272.88 290.76,272.74 C291.65,272.60 292.25,272.80 292.68,273.10 C293.10,273.40 293.45,273.80 293.32,274.52 C293.19,275.25 292.83,276.44 291.90,277.45 C290.96,278.45 288.85,279.92 287.70,280.56 C286.56,281.20 285.64,281.18 285.01,281.28 C284.38,281.38 284.23,281.27 283.91,281.17 C283.60,281.08 283.30,281.08 283.10,280.72 C282.91,280.36 282.55,279.73 282.74,279.01 C282.93,278.29 283.49,277.23 284.25,276.39Z" fill="#000" fill-opacity="0.1" stroke="#000" stroke-opacity="0.8" stroke-width="0.5"/><path d="M284.98,276.51 C285.59,275.83 286.57,275.03 287.44,274.54 C288.31,274.05 289.50,273.68 290.22,273.57 C290.94,273.46 291.42,273.62 291.76,273.86 C292.11,274.10 292.39,274.42 292.28,275.01 C292.18,275.59 291.89,276.55 291.13,277.36 C290.38,278.17 288.69,279.35 287.76,279.86 C286.84,280.38 286.10,280.36 285.59,280.44 C285.09,280.53 284.97,280.43 284.71,280.36 C284.46,280.28 284.22,280.28 284.06,279.99 C283.90,279.70 283.61,279.20 283.77,278.62 C283.92,278.04 284.37,277.19 284.98,276.51Z" fill="#000" fill-opacity="0.1" stroke="#000" stroke-opacity="0.8" stroke-width="0.5"/><path d="M285.72,276.63 C286.18,276.11 286.91,275.51 287.57,275.14 C288.23,274.77 289.13,274.49 289.68,274.40 C290.22,274.32 290.59,274.44 290.85,274.62 C291.11,274.80 291.32,275.05 291.24,275.49 C291.16,275.93 290.94,276.66 290.37,277.27 C289.80,277.89 288.52,278.78 287.82,279.17 C287.12,279.56 286.56,279.55 286.18,279.61 C285.79,279.67 285.70,279.60 285.51,279.54 C285.32,279.49 285.14,279.48 285.02,279.26 C284.90,279.04 284.68,278.67 284.80,278.23 C284.91,277.79 285.25,277.14 285.72,276.63Z" fill="#000" fill-opacity="0.1" stroke="#000" stroke-opacity="0.8" stroke-width="0.5"/><path d="M285.10,276.53 C285.69,275.87 286.62,275.11 287.46,274.64 C288.30,274.17 289.44,273.82 290.13,273.71 C290.82,273.60 291.28,273.76 291.61,273.99 C291.94,274.22 292.21,274.53 292.11,275.09 C292.01,275.65 291.73,276.57 291.01,277.35 C290.29,278.12 288.66,279.26 287.77,279.75 C286.89,280.24 286.18,280.23 285.69,280.31 C285.20,280.39 285.09,280.30 284.84,280.22 C284.60,280.15 284.37,280.15 284.22,279.87 C284.07,279.59 283.79,279.11 283.94,278.55 C284.08,278.00 284.52,277.18 285.10,276.53Z" fill="#fff" fill-opacity="0.45" stroke="#000" stroke-opacity="0.5" stroke-width="0.5"/></g>
<rect x="217.5" y="227.5" width="139.90" height="139.00" stroke="#555" stroke-width="1.3" fill="none"/>
<rect x="217.5" y="251.1" width="45.10" height="54.20" stroke="#1a1a1a" stroke-width="1.3" fill="none"/>
<rect x="217.5" y="308" width="45.10" height="58.50" stroke="#1a1a1a" stroke-width="1.3" fill="none"/>
<polygon points="264.6,268.6 294.3,257.8 308.4,273.8 302.4,283.9 264.6,310.0" stroke="#1a1a1a" stroke-width="1.3" fill="none" stroke-linejoin="miter"/>
<text x="222.2" y="247.9" font-size="17" text-anchor="start" fill="#111">42</text>
<text x="309.6" y="269.4" font-size="17" text-anchor="start" fill="#111" font-weight="bold">55</text>
<line x1="215.3" y1="343.53365923718025" x2="217.5" y2="343.53365923718025" stroke="#333" stroke-width="0.9"/>
<line x1="215.3" y1="333.9014673668345" x2="217.5" y2="333.9014673668345" stroke="#333" stroke-width="0.9"/>
<line x1="215.3" y1="327.0673184743605" x2="217.5" y2="327.0673184743605" stroke="#333" stroke-width="0.9"/>
<line x1="215.3" y1="321.76634076281977" x2="217.5" y2="321.76634076281977" stroke="#333" stroke-width="0.9"/>
<line x1="215.3" y1="317.4351266040147" x2="217.5" y2="317.4351266040147" stroke="#333" stroke-width="0.9"/>
<line x1="215.3" y1="313.77313721122016" x2="217.5" y2="313.77313721122016" stroke="#333" stroke-width="0.9"/>
<line x1="215.3" y1="310.6009777115407" x2="217.5" y2="310.6009777115407" stroke="#333" stroke-width="0.9"/>
<line x1="215.3" y1="307.80293473366896" x2="217.5" y2="307.80293473366896" stroke="#333" stroke-width="0.9"/>
<line x1="215.3" y1="295.2154951452566" x2="217.5" y2="295.2154951452566" stroke="#333" stroke-width="0.9"/>
<line x1="215.3" y1="289.3164379668913" x2="217.5" y2="289.3164379668913" stroke="#333" stroke-width="0.9"/>
<line x1="215.3" y1="285.1309902905133" x2="217.5" y2="285.1309902905133" stroke="#333" stroke-width="0.9"/>
<line x1="215.3" y1="281.8845048547434" x2="217.5" y2="281.8845048547434" stroke="#333" stroke-width="0.9"/>
<line x1="215.3" y1="279.23193311214794" x2="217.5" y2="279.23193311214794" stroke="#333" stroke-width="0.9"/>
<line x1="215.3" y1="276.9892156595224" x2="217.5" y2="276.9892156595224" stroke="#333" stroke-width="0.9"/>
<line x1="215.3" y1="275.0464854357699" x2="217.5" y2="275.0464854357699" stroke="#333" stroke-width="0.9"/>
<line x1="215.3" y1="273.33287593378265" x2="217.5" y2="273.33287593378265" stroke="#333" stroke-width="0.9"/>
<line x1="215.3" y1="262.2272461378854" x2="217.5" y2="262.2272461378854" stroke="#333" stroke-width="0.9"/>
<line x1="215.3" y1="256.62754409991476" x2="217.5" y2="256.62754409991476" stroke="#333" stroke-width="0.9"/>
<line x1="215.3" y1="252.6544922757708" x2="217.5" y2="252.6544922757708" stroke="#333" stroke-width="0.9"/>
<line x1="215.3" y1="249.5727538621146" x2="217.5" y2="249.5727538621146" stroke="#333" stroke-width="0.9"/>
<line x1="215.3" y1="247.05479023780015" x2="217.5" y2="247.05479023780015" stroke="#333" stroke-width="0.9"/>
<line x1="215.3" y1="244.92588232754665" x2="217.5" y2="244.92588232754665" stroke="#333" stroke-width="0.9"/>
<line x1="215.3" y1="243.08173841365618" x2="217.5" y2="243.08173841365618" stroke="#333" stroke-width="0.9"/>
<line x1="215.3" y1="241.45508819982948" x2="217.5" y2="241.45508819982948" stroke="#333" stroke-width="0.9"/>
<line x1="215.3" y1="230.4272461378854" x2="217.5" y2="230.4272461378854" stroke="#333" stroke-width="0.9"/>
<line x1="213.3" y1="360" x2="217.5" y2="360" stroke="#333" stroke-width="0.9"/>
<line x1="213.3" y1="305.3" x2="217.5" y2="305.3" stroke="#333" stroke-width="0.9"/>
<line x1="213.3" y1="271.8" x2="217.5" y2="271.8" stroke="#333" stroke-width="0.9"/>
<line x1="213.3" y1="240" x2="217.5" y2="240" stroke="#333" stroke-width="0.9"/>
<line x1="214.0" y1="338.0" x2="217.5" y2="338.0" stroke="#222" stroke-width="0.9"/>
<line x1="214.0" y1="340.8" x2="217.5" y2="340.8" stroke="#222" stroke-width="0.9"/>
<line x1="214.0" y1="343.6" x2="217.5" y2="343.6" stroke="#222" stroke-width="0.9"/>
<line x1="214.0" y1="346.4" x2="217.5" y2="346.4" stroke="#222" stroke-width="0.9"/>
<line x1="214.0" y1="349.2" x2="217.5" y2="349.2" stroke="#222" stroke-width="0.9"/>
<line x1="214.0" y1="352.0" x2="217.5" y2="352.0" stroke="#222" stroke-width="0.9"/>
<line x1="226.38038487208743" y1="366.5" x2="226.38038487208743" y2="368.7" stroke="#333" stroke-width="0.9"/>
<line x1="231.57507701423003" y1="366.5" x2="231.57507701423003" y2="368.7" stroke="#333" stroke-width="0.9"/>
<line x1="235.2607697441749" y1="366.5" x2="235.2607697441749" y2="368.7" stroke="#333" stroke-width="0.9"/>
<line x1="238.11961512791257" y1="366.5" x2="238.11961512791257" y2="368.7" stroke="#333" stroke-width="0.9"/>
<line x1="240.4554618863175" y1="366.5" x2="240.4554618863175" y2="368.7" stroke="#333" stroke-width="0.9"/>
<line x1="242.43039218042057" y1="366.5" x2="242.43039218042057" y2="368.7" stroke="#333" stroke-width="0.9"/>
<line x1="244.14115461626233" y1="366.5" x2="244.14115461626233" y2="368.7" stroke="#333" stroke-width="0.9"/>
<line x1="245.6501540284601" y1="366.5" x2="245.6501540284601" y2="368.7" stroke="#333" stroke-width="0.9"/>
<line x1="256.7232688599466" y1="366.5" x2="256.7232688599466" y2="368.7" stroke="#333" stroke-width="0.9"/>
<line x1="262.4110165274451" y1="366.5" x2="262.4110165274451" y2="368.7" stroke="#333" stroke-width="0.9"/>
<line x1="266.4465377198932" y1="366.5" x2="266.4465377198932" y2="368.7" stroke="#333" stroke-width="0.9"/>
<line x1="269.5767311400534" y1="366.5" x2="269.5767311400534" y2="368.7" stroke="#333" stroke-width="0.9"/>
<line x1="272.1342853873917" y1="366.5" x2="272.1342853873917" y2="368.7" stroke="#333" stroke-width="0.9"/>
<line x1="274.2966666924605" y1="366.5" x2="274.2966666924605" y2="368.7" stroke="#333" stroke-width="0.9"/>
<line x1="276.1698065798398" y1="366.5" x2="276.1698065798398" y2="368.7" stroke="#333" stroke-width="0.9"/>
<line x1="277.8220330548902" y1="366.5" x2="277.8220330548902" y2="368.7" stroke="#333" stroke-width="0.9"/>
<line x1="288.6620328651498" y1="366.5" x2="288.6620328651498" y2="368.7" stroke="#333" stroke-width="0.9"/>
<line x1="294.13847102178147" y1="366.5" x2="294.13847102178147" y2="368.7" stroke="#333" stroke-width="0.9"/>
<line x1="298.02406573029964" y1="366.5" x2="298.02406573029964" y2="368.7" stroke="#333" stroke-width="0.9"/>
<line x1="301.0379671348502" y1="366.5" x2="301.0379671348502" y2="368.7" stroke="#333" stroke-width="0.9"/>
<line x1="303.5005038869313" y1="366.5" x2="303.5005038869313" y2="368.7" stroke="#333" stroke-width="0.9"/>
<line x1="305.58254904444334" y1="366.5" x2="305.58254904444334" y2="368.7" stroke="#333" stroke-width="0.9"/>
<line x1="307.3860985954494" y1="366.5" x2="307.3860985954494" y2="368.7" stroke="#333" stroke-width="0.9"/>
<line x1="308.976942043563" y1="366.5" x2="308.976942043563" y2="368.7" stroke="#333" stroke-width="0.9"/>
<line x1="320.0630628608138" y1="366.5" x2="320.0630628608138" y2="368.7" stroke="#333" stroke-width="0.9"/>
<line x1="325.7155922765011" y1="366.5" x2="325.7155922765011" y2="368.7" stroke="#333" stroke-width="0.9"/>
<line x1="329.72612572162757" y1="366.5" x2="329.72612572162757" y2="368.7" stroke="#333" stroke-width="0.9"/>
<line x1="332.8369371391862" y1="366.5" x2="332.8369371391862" y2="368.7" stroke="#333" stroke-width="0.9"/>
<line x1="335.378655137315" y1="366.5" x2="335.378655137315" y2="368.7" stroke="#333" stroke-width="0.9"/>
<line x1="337.5276470844576" y1="366.5" x2="337.5276470844576" y2="368.7" stroke="#333" stroke-width="0.9"/>
<line x1="339.38918858244136" y1="366.5" x2="339.38918858244136" y2="368.7" stroke="#333" stroke-width="0.9"/>
<line x1="341.03118455300233" y1="366.5" x2="341.03118455300233" y2="368.7" stroke="#333" stroke-width="0.9"/>
<line x1="352.1630628608138" y1="366.5" x2="352.1630628608138" y2="368.7" stroke="#333" stroke-width="0.9"/>
<line x1="247" y1="366.5" x2="247" y2="370.7" stroke="#333" stroke-width="0.9"/>
<line x1="279.3" y1="366.5" x2="279.3" y2="370.7" stroke="#333" stroke-width="0.9"/>
<line x1="310.4" y1="366.5" x2="310.4" y2="370.7" stroke="#333" stroke-width="0.9"/>
<line x1="342.5" y1="366.5" x2="342.5" y2="370.7" stroke="#333" stroke-width="0.9"/>
<line x1="221.5" y1="366.5" x2="221.5" y2="370.0" stroke="#222" stroke-width="0.9"/>
<line x1="222.8" y1="366.5" x2="222.8" y2="370.0" stroke="#222" stroke-width="0.9"/>
<line x1="224.1" y1="366.5" x2="224.1" y2="370.0" stroke="#222" stroke-width="0.9"/>
<line x1="225.4" y1="366.5" x2="225.4" y2="370.0" stroke="#222" stroke-width="0.9"/>
<line x1="226.7" y1="366.5" x2="226.7" y2="370.0" stroke="#222" stroke-width="0.9"/>
<line x1="228.0" y1="366.5" x2="228.0" y2="370.0" stroke="#222" stroke-width="0.9"/>
<circle cx="272" cy="106" r="9.8" fill="none" stroke="#111" stroke-width="3" stroke-opacity="0.5"/>
<circle cx="97.5" cy="123.5" r="11.5" fill="none" stroke="#111" stroke-width="4.5" stroke-opacity="0.35"/>
<ellipse cx="256" cy="105" rx="7" ry="1.5" fill="#fff" fill-opacity="0.18"/>
<path d="M255.2,126.88000000000001 L257.76,130.4 L255.2,133.92000000000002 L252.64,130.4 Z" fill="none" stroke="#555" stroke-width="0.7"/>
<path d="M90,321.64 L91.28,323.4 L90,325.15999999999997 L88.72,323.4 Z" fill="none" stroke="#555" stroke-width="0.7"/>
<path d="M90,329.64 L91.28,331.4 L90,333.15999999999997 L88.72,331.4 Z" fill="none" stroke="#555" stroke-width="0.7"/>
<text x="377.8" y="28.1" font-size="31" text-anchor="start" fill="#111" font-weight="bold" stroke="#000" stroke-width="0.5">B</text>
<text x="556.7" y="13.2" font-size="17" text-anchor="middle" fill="#111" textLength="55.8" lengthAdjust="spacingAndGlyphs">Control</text>
<line x1="407" y1="16.2" x2="696" y2="16.2" stroke="#333" stroke-width="1.2"/>
<text x="485" y="35.1" font-size="17" text-anchor="middle" fill="#111" textLength="50" lengthAdjust="spacingAndGlyphs">CD161</text>
<text x="635.5" y="35.3" font-size="17" text-anchor="middle" fill="#111" textLength="57" lengthAdjust="spacingAndGlyphs">CXCR3</text>
<text x="555" y="197.4" font-size="17" text-anchor="middle" fill="#111" textLength="124.7" lengthAdjust="spacingAndGlyphs">Crohn’s Disease</text>
<line x1="404" y1="203" x2="693.5" y2="203" stroke="#333" stroke-width="1.2"/>
<text x="478" y="219.6" font-size="17" text-anchor="middle" fill="#111" textLength="51" lengthAdjust="spacingAndGlyphs">CD161</text>
<text x="627.8" y="219.6" font-size="17" text-anchor="middle" fill="#111" textLength="56.5" lengthAdjust="spacingAndGlyphs">CXCR3</text>
<path d="M419.00,177.40 C419.60,176.29 421.94,172.56 423.00,170.00 C424.06,167.44 425.20,163.90 426.10,160.30 C427.00,156.70 428.25,150.52 429.00,146.00 C429.75,141.48 430.47,135.90 431.10,130.20 C431.73,124.50 432.66,113.58 433.20,108.00 C433.74,102.42 434.25,93.00 434.70,93.00 C435.15,93.00 435.68,103.02 436.20,108.00 C436.72,112.98 437.45,121.67 438.20,126.20 C438.95,130.73 440.00,133.68 441.20,138.20 C442.40,142.72 444.55,152.09 446.20,156.30 C447.85,160.52 450.10,163.74 452.20,166.30 C454.30,168.87 458.08,172.78 460.20,173.40 C462.31,174.02 464.63,171.62 466.30,170.40 C467.97,169.19 469.95,165.60 471.30,165.30 C472.65,165.00 473.95,166.74 475.30,168.40 C476.65,170.06 478.85,175.05 480.30,176.40 C481.75,177.75 484.30,177.25 485.00,177.40 Z" fill="#c4c4c4" stroke="none"/>
<path d="M432.10,177.40 C432.38,175.54 433.42,169.11 434.00,165.00 C434.58,160.89 435.37,153.10 436.00,150.00 C436.63,146.90 437.45,144.30 438.20,144.30 C438.95,144.30 439.95,147.90 441.00,150.00 C442.05,152.10 443.97,157.66 445.20,158.30 C446.43,158.95 447.85,154.24 449.20,154.30 C450.55,154.36 452.70,158.55 454.20,158.70 C455.70,158.85 457.69,154.76 459.20,155.30 C460.71,155.84 462.94,160.59 464.30,162.30 C465.67,164.01 467.04,166.40 468.30,166.70 C469.56,167.00 471.35,163.90 472.70,164.30 C474.05,164.71 475.71,168.12 477.30,169.40 C478.89,170.68 481.80,171.60 483.30,172.80 C484.80,174.00 486.70,176.71 487.30,177.40 Z" fill="#4a4a4a" stroke="#111" stroke-width="1.1" stroke-linejoin="round"/>
<path d="M419.00,177.40 C419.60,176.29 421.94,172.56 423.00,170.00 C424.06,167.44 425.20,163.90 426.10,160.30 C427.00,156.70 428.25,150.52 429.00,146.00 C429.75,141.48 430.47,135.90 431.10,130.20 C431.73,124.50 432.66,113.58 433.20,108.00 C433.74,102.42 434.25,93.00 434.70,93.00 C435.15,93.00 435.68,103.02 436.20,108.00 C436.72,112.98 437.45,121.67 438.20,126.20 C438.95,130.73 440.00,133.68 441.20,138.20 C442.40,142.72 444.55,152.09 446.20,156.30 C447.85,160.52 450.10,163.74 452.20,166.30 C454.30,168.87 458.08,172.78 460.20,173.40 C462.31,174.02 464.63,171.62 466.30,170.40 C467.97,169.19 469.95,165.60 471.30,165.30 C472.65,165.00 473.95,166.74 475.30,168.40 C476.65,170.06 478.85,175.05 480.30,176.40 C481.75,177.75 484.30,177.25 485.00,177.40" fill="none" stroke="#111" stroke-width="1.6" stroke-dasharray="1.1 0.8"/>
<rect x="409.3" y="41.4" width="136.40" height="135.80" stroke="#555" stroke-width="1.4" fill="none"/>
<line x1="445.8" y1="72.8" x2="542" y2="72.8" stroke="#333" stroke-width="1.6"/>
<line x1="445.8" y1="69.3" x2="445.8" y2="76.3" stroke="#333" stroke-width="1.6"/>
<line x1="542" y1="69.3" x2="542" y2="76.3" stroke="#333" stroke-width="1.6"/>
<text x="537.3" y="68.1" font-size="17" text-anchor="end" fill="#111">67</text>
<text x="537.1" y="90.8" font-size="17" text-anchor="end" fill="#909090">23</text>
<line x1="407.1" y1="170.72" x2="409.3" y2="170.72" stroke="#333" stroke-width="0.9"/>
<line x1="407.1" y1="164.23999999999998" x2="409.3" y2="164.23999999999998" stroke="#333" stroke-width="0.9"/>
<line x1="407.1" y1="157.76" x2="409.3" y2="157.76" stroke="#333" stroke-width="0.9"/>
<line x1="407.1" y1="144.8" x2="409.3" y2="144.8" stroke="#333" stroke-width="0.9"/>
<line x1="407.1" y1="138.32" x2="409.3" y2="138.32" stroke="#333" stroke-width="0.9"/>
<line x1="407.1" y1="131.84" x2="409.3" y2="131.84" stroke="#333" stroke-width="0.9"/>
<line x1="407.1" y1="118.87999999999998" x2="409.3" y2="118.87999999999998" stroke="#333" stroke-width="0.9"/>
<line x1="407.1" y1="112.39999999999999" x2="409.3" y2="112.39999999999999" stroke="#333" stroke-width="0.9"/>
<line x1="407.1" y1="105.91999999999999" x2="409.3" y2="105.91999999999999" stroke="#333" stroke-width="0.9"/>
<line x1="407.1" y1="92.96" x2="409.3" y2="92.96" stroke="#333" stroke-width="0.9"/>
<line x1="407.1" y1="86.48" x2="409.3" y2="86.48" stroke="#333" stroke-width="0.9"/>
<line x1="407.1" y1="80.0" x2="409.3" y2="80.0" stroke="#333" stroke-width="0.9"/>
<line x1="407.1" y1="67.03999999999999" x2="409.3" y2="67.03999999999999" stroke="#333" stroke-width="0.9"/>
<line x1="407.1" y1="60.559999999999995" x2="409.3" y2="60.559999999999995" stroke="#333" stroke-width="0.9"/>
<line x1="407.1" y1="54.08" x2="409.3" y2="54.08" stroke="#333" stroke-width="0.9"/>
<line x1="404.8" y1="177.2" x2="409.3" y2="177.2" stroke="#333" stroke-width="0.9"/>
<line x1="404.8" y1="151.28" x2="409.3" y2="151.28" stroke="#333" stroke-width="0.9"/>
<line x1="404.8" y1="125.35999999999999" x2="409.3" y2="125.35999999999999" stroke="#333" stroke-width="0.9"/>
<line x1="404.8" y1="99.44" x2="409.3" y2="99.44" stroke="#333" stroke-width="0.9"/>
<line x1="404.8" y1="73.52" x2="409.3" y2="73.52" stroke="#333" stroke-width="0.9"/>
<line x1="404.8" y1="47.599999999999994" x2="409.3" y2="47.599999999999994" stroke="#333" stroke-width="0.9"/>
<line x1="416.7783248807595" y1="177.2" x2="416.7783248807595" y2="179.0" stroke="#444" stroke-width="0.8"/>
<line x1="421.6208345047907" y1="177.2" x2="421.6208345047907" y2="179.0" stroke="#444" stroke-width="0.8"/>
<line x1="425.05664976151894" y1="177.2" x2="425.05664976151894" y2="179.0" stroke="#444" stroke-width="0.8"/>
<line x1="427.7216751192405" y1="177.2" x2="427.7216751192405" y2="179.0" stroke="#444" stroke-width="0.8"/>
<line x1="429.8991593855502" y1="177.2" x2="429.8991593855502" y2="179.0" stroke="#444" stroke-width="0.8"/>
<line x1="431.74019610039204" y1="177.2" x2="431.74019610039204" y2="179.0" stroke="#444" stroke-width="0.8"/>
<line x1="433.33497464227844" y1="177.2" x2="433.33497464227844" y2="179.0" stroke="#444" stroke-width="0.8"/>
<line x1="434.7416690095814" y1="177.2" x2="434.7416690095814" y2="179.0" stroke="#444" stroke-width="0.8"/>
<line x1="445.7232688599466" y1="177.2" x2="445.7232688599466" y2="179.0" stroke="#444" stroke-width="0.8"/>
<line x1="451.4110165274451" y1="177.2" x2="451.4110165274451" y2="179.0" stroke="#444" stroke-width="0.8"/>
<line x1="455.4465377198932" y1="177.2" x2="455.4465377198932" y2="179.0" stroke="#444" stroke-width="0.8"/>
<line x1="458.5767311400534" y1="177.2" x2="458.5767311400534" y2="179.0" stroke="#444" stroke-width="0.8"/>
<line x1="461.1342853873917" y1="177.2" x2="461.1342853873917" y2="179.0" stroke="#444" stroke-width="0.8"/>
<line x1="463.2966666924605" y1="177.2" x2="463.2966666924605" y2="179.0" stroke="#444" stroke-width="0.8"/>
<line x1="465.1698065798398" y1="177.2" x2="465.1698065798398" y2="179.0" stroke="#444" stroke-width="0.8"/>
<line x1="466.8220330548902" y1="177.2" x2="466.8220330548902" y2="179.0" stroke="#444" stroke-width="0.8"/>
<line x1="477.9630628608138" y1="177.2" x2="477.9630628608138" y2="179.0" stroke="#444" stroke-width="0.8"/>
<line x1="483.61559227650116" y1="177.2" x2="483.61559227650116" y2="179.0" stroke="#444" stroke-width="0.8"/>
<line x1="487.6261257216276" y1="177.2" x2="487.6261257216276" y2="179.0" stroke="#444" stroke-width="0.8"/>
<line x1="490.7369371391862" y1="177.2" x2="490.7369371391862" y2="179.0" stroke="#444" stroke-width="0.8"/>
<line x1="493.27865513731496" y1="177.2" x2="493.27865513731496" y2="179.0" stroke="#444" stroke-width="0.8"/>
<line x1="495.42764708445765" y1="177.2" x2="495.42764708445765" y2="179.0" stroke="#444" stroke-width="0.8"/>
<line x1="497.2891885824414" y1="177.2" x2="497.2891885824414" y2="179.0" stroke="#444" stroke-width="0.8"/>
<line x1="498.9311845530023" y1="177.2" x2="498.9311845530023" y2="179.0" stroke="#444" stroke-width="0.8"/>
<line x1="509.7620328651498" y1="177.2" x2="509.7620328651498" y2="179.0" stroke="#444" stroke-width="0.8"/>
<line x1="515.2384710217815" y1="177.2" x2="515.2384710217815" y2="179.0" stroke="#444" stroke-width="0.8"/>
<line x1="519.1240657302997" y1="177.2" x2="519.1240657302997" y2="179.0" stroke="#444" stroke-width="0.8"/>
<line x1="522.1379671348502" y1="177.2" x2="522.1379671348502" y2="179.0" stroke="#444" stroke-width="0.8"/>
<line x1="524.6005038869313" y1="177.2" x2="524.6005038869313" y2="179.0" stroke="#444" stroke-width="0.8"/>
<line x1="526.6825490444434" y1="177.2" x2="526.6825490444434" y2="179.0" stroke="#444" stroke-width="0.8"/>
<line x1="528.4860985954494" y1="177.2" x2="528.4860985954494" y2="179.0" stroke="#444" stroke-width="0.8"/>
<line x1="530.076942043563" y1="177.2" x2="530.076942043563" y2="179.0" stroke="#444" stroke-width="0.8"/>
<line x1="408.5" y1="177.2" x2="408.5" y2="180.7" stroke="#444" stroke-width="0.8"/>
<line x1="436" y1="177.2" x2="436" y2="180.7" stroke="#444" stroke-width="0.8"/>
<line x1="468.3" y1="177.2" x2="468.3" y2="180.7" stroke="#444" stroke-width="0.8"/>
<line x1="500.4" y1="177.2" x2="500.4" y2="180.7" stroke="#444" stroke-width="0.8"/>
<line x1="531.5" y1="177.2" x2="531.5" y2="180.7" stroke="#444" stroke-width="0.8"/>
<path d="M580.10,177.40 C581.62,176.50 587.79,173.37 590.20,171.40 C592.62,169.44 594.40,165.06 596.20,164.30 C598.00,163.54 600.40,168.70 602.20,166.30 C604.00,163.90 606.54,153.36 608.20,148.30 C609.87,143.25 612.08,136.51 613.30,132.60 C614.51,128.69 615.10,127.23 616.30,122.20 C617.50,117.17 620.10,100.31 621.30,99.10 C622.50,97.88 623.55,111.55 624.30,114.10 C625.05,116.65 625.40,112.48 626.30,116.10 C627.20,119.71 629.10,130.97 630.30,138.20 C631.50,145.43 633.08,158.42 634.30,164.30 C635.51,170.18 637.78,175.44 638.40,177.40 Z" fill="#c4c4c4" stroke="none"/>
<path d="M571.10,177.40 C572.00,176.80 575.60,173.85 577.10,173.40 C578.60,172.95 579.60,176.81 581.10,174.40 C582.60,171.99 585.59,159.12 587.10,157.30 C588.62,155.49 589.99,162.00 591.20,162.30 C592.42,162.60 593.70,158.55 595.20,159.30 C596.70,160.05 599.70,167.75 601.20,167.30 C602.70,166.85 603.91,161.51 605.20,156.30 C606.49,151.09 608.50,135.16 609.80,132.60 C611.10,130.03 612.62,138.42 613.90,139.20 C615.17,139.98 616.89,136.44 618.30,137.80 C619.71,139.17 621.80,145.53 623.30,148.30 C624.80,151.08 626.80,152.99 628.30,156.30 C629.80,159.62 632.10,167.24 633.30,170.40 C634.50,173.56 635.85,176.35 636.30,177.40 Z" fill="#4a4a4a" stroke="#111" stroke-width="1.1" stroke-linejoin="round"/>
<path d="M580.10,177.40 C581.62,176.50 587.79,173.37 590.20,171.40 C592.62,169.44 594.40,165.06 596.20,164.30 C598.00,163.54 600.40,168.70 602.20,166.30 C604.00,163.90 606.54,153.36 608.20,148.30 C609.87,143.25 612.08,136.51 613.30,132.60 C614.51,128.69 615.10,127.23 616.30,122.20 C617.50,117.17 620.10,100.31 621.30,99.10 C622.50,97.88 623.55,111.55 624.30,114.10 C625.05,116.65 625.40,112.48 626.30,116.10 C627.20,119.71 629.10,130.97 630.30,138.20 C631.50,145.43 633.08,158.42 634.30,164.30 C635.51,170.18 637.78,175.44 638.40,177.40" fill="none" stroke="#111" stroke-width="1.6" stroke-dasharray="1.1 0.8"/>
<rect x="559.4" y="42.4" width="135.60" height="135.00" stroke="#555" stroke-width="1.4" fill="none"/>
<line x1="607.4" y1="72.1" x2="691" y2="72.1" stroke="#333" stroke-width="1.6"/>
<line x1="607.4" y1="68.6" x2="607.4" y2="75.6" stroke="#333" stroke-width="1.6"/>
<line x1="691" y1="68.6" x2="691" y2="75.6" stroke="#333" stroke-width="1.6"/>
<text x="687.8" y="66.7" font-size="17" text-anchor="end" fill="#909090">83</text>
<text x="689" y="89.1" font-size="17" text-anchor="end" fill="#111">68</text>
<line x1="557.1999999999999" y1="170.96" x2="559.4" y2="170.96" stroke="#333" stroke-width="0.9"/>
<line x1="557.1999999999999" y1="164.52" x2="559.4" y2="164.52" stroke="#333" stroke-width="0.9"/>
<line x1="557.1999999999999" y1="158.08" x2="559.4" y2="158.08" stroke="#333" stroke-width="0.9"/>
<line x1="557.1999999999999" y1="145.20000000000002" x2="559.4" y2="145.20000000000002" stroke="#333" stroke-width="0.9"/>
<line x1="557.1999999999999" y1="138.76000000000002" x2="559.4" y2="138.76000000000002" stroke="#333" stroke-width="0.9"/>
<line x1="557.1999999999999" y1="132.32000000000002" x2="559.4" y2="132.32000000000002" stroke="#333" stroke-width="0.9"/>
<line x1="557.1999999999999" y1="119.44" x2="559.4" y2="119.44" stroke="#333" stroke-width="0.9"/>
<line x1="557.1999999999999" y1="113.0" x2="559.4" y2="113.0" stroke="#333" stroke-width="0.9"/>
<line x1="557.1999999999999" y1="106.56" x2="559.4" y2="106.56" stroke="#333" stroke-width="0.9"/>
<line x1="557.1999999999999" y1="93.68" x2="559.4" y2="93.68" stroke="#333" stroke-width="0.9"/>
<line x1="557.1999999999999" y1="87.24000000000001" x2="559.4" y2="87.24000000000001" stroke="#333" stroke-width="0.9"/>
<line x1="557.1999999999999" y1="80.80000000000001" x2="559.4" y2="80.80000000000001" stroke="#333" stroke-width="0.9"/>
<line x1="557.1999999999999" y1="67.92" x2="559.4" y2="67.92" stroke="#333" stroke-width="0.9"/>
<line x1="557.1999999999999" y1="61.48" x2="559.4" y2="61.48" stroke="#333" stroke-width="0.9"/>
<line x1="557.1999999999999" y1="55.04" x2="559.4" y2="55.04" stroke="#333" stroke-width="0.9"/>
<line x1="554.9" y1="177.4" x2="559.4" y2="177.4" stroke="#333" stroke-width="0.9"/>
<line x1="554.9" y1="151.64000000000001" x2="559.4" y2="151.64000000000001" stroke="#333" stroke-width="0.9"/>
<line x1="554.9" y1="125.88" x2="559.4" y2="125.88" stroke="#333" stroke-width="0.9"/>
<line x1="554.9" y1="100.12" x2="559.4" y2="100.12" stroke="#333" stroke-width="0.9"/>
<line x1="554.9" y1="74.36" x2="559.4" y2="74.36" stroke="#333" stroke-width="0.9"/>
<line x1="554.9" y1="48.599999999999994" x2="559.4" y2="48.599999999999994" stroke="#333" stroke-width="0.9"/>
<line x1="567.1278098829275" y1="177.4" x2="567.1278098829275" y2="179.20000000000002" stroke="#444" stroke-width="0.8"/>
<line x1="571.8822738774309" y1="177.4" x2="571.8822738774309" y2="179.20000000000002" stroke="#444" stroke-width="0.8"/>
<line x1="575.2556197658549" y1="177.4" x2="575.2556197658549" y2="179.20000000000002" stroke="#444" stroke-width="0.8"/>
<line x1="577.8721901170725" y1="177.4" x2="577.8721901170725" y2="179.20000000000002" stroke="#444" stroke-width="0.8"/>
<line x1="580.0100837603584" y1="177.4" x2="580.0100837603584" y2="179.20000000000002" stroke="#444" stroke-width="0.8"/>
<line x1="581.817647080385" y1="177.4" x2="581.817647080385" y2="179.20000000000002" stroke="#444" stroke-width="0.8"/>
<line x1="583.3834296487825" y1="177.4" x2="583.3834296487825" y2="179.20000000000002" stroke="#444" stroke-width="0.8"/>
<line x1="584.7645477548617" y1="177.4" x2="584.7645477548617" y2="179.20000000000002" stroke="#444" stroke-width="0.8"/>
<line x1="595.6329598612474" y1="177.4" x2="595.6329598612474" y2="179.20000000000002" stroke="#444" stroke-width="0.8"/>
<line x1="601.2678801510292" y1="177.4" x2="601.2678801510292" y2="179.20000000000002" stroke="#444" stroke-width="0.8"/>
<line x1="605.2659197224948" y1="177.4" x2="605.2659197224948" y2="179.20000000000002" stroke="#444" stroke-width="0.8"/>
<line x1="608.3670401387526" y1="177.4" x2="608.3670401387526" y2="179.20000000000002" stroke="#444" stroke-width="0.8"/>
<line x1="610.9008400122766" y1="177.4" x2="610.9008400122766" y2="179.20000000000002" stroke="#444" stroke-width="0.8"/>
<line x1="613.0431372804562" y1="177.4" x2="613.0431372804562" y2="179.20000000000002" stroke="#444" stroke-width="0.8"/>
<line x1="614.8988795837422" y1="177.4" x2="614.8988795837422" y2="179.20000000000002" stroke="#444" stroke-width="0.8"/>
<line x1="616.5357603020584" y1="177.4" x2="616.5357603020584" y2="179.20000000000002" stroke="#444" stroke-width="0.8"/>
<line x1="627.6329598612474" y1="177.4" x2="627.6329598612474" y2="179.20000000000002" stroke="#444" stroke-width="0.8"/>
<line x1="633.2678801510292" y1="177.4" x2="633.2678801510292" y2="179.20000000000002" stroke="#444" stroke-width="0.8"/>
<line x1="637.2659197224948" y1="177.4" x2="637.2659197224948" y2="179.20000000000002" stroke="#444" stroke-width="0.8"/>
<line x1="640.3670401387526" y1="177.4" x2="640.3670401387526" y2="179.20000000000002" stroke="#444" stroke-width="0.8"/>
<line x1="642.9008400122766" y1="177.4" x2="642.9008400122766" y2="179.20000000000002" stroke="#444" stroke-width="0.8"/>
<line x1="645.0431372804562" y1="177.4" x2="645.0431372804562" y2="179.20000000000002" stroke="#444" stroke-width="0.8"/>
<line x1="646.8988795837422" y1="177.4" x2="646.8988795837422" y2="179.20000000000002" stroke="#444" stroke-width="0.8"/>
<line x1="648.5357603020584" y1="177.4" x2="648.5357603020584" y2="179.20000000000002" stroke="#444" stroke-width="0.8"/>
<line x1="659.6329598612474" y1="177.4" x2="659.6329598612474" y2="179.20000000000002" stroke="#444" stroke-width="0.8"/>
<line x1="665.2678801510292" y1="177.4" x2="665.2678801510292" y2="179.20000000000002" stroke="#444" stroke-width="0.8"/>
<line x1="669.2659197224948" y1="177.4" x2="669.2659197224948" y2="179.20000000000002" stroke="#444" stroke-width="0.8"/>
<line x1="672.3670401387526" y1="177.4" x2="672.3670401387526" y2="179.20000000000002" stroke="#444" stroke-width="0.8"/>
<line x1="674.9008400122766" y1="177.4" x2="674.9008400122766" y2="179.20000000000002" stroke="#444" stroke-width="0.8"/>
<line x1="677.0431372804562" y1="177.4" x2="677.0431372804562" y2="179.20000000000002" stroke="#444" stroke-width="0.8"/>
<line x1="678.8988795837422" y1="177.4" x2="678.8988795837422" y2="179.20000000000002" stroke="#444" stroke-width="0.8"/>
<line x1="680.5357603020584" y1="177.4" x2="680.5357603020584" y2="179.20000000000002" stroke="#444" stroke-width="0.8"/>
<line x1="559" y1="177.4" x2="559" y2="180.9" stroke="#444" stroke-width="0.8"/>
<line x1="586" y1="177.4" x2="586" y2="180.9" stroke="#444" stroke-width="0.8"/>
<line x1="618" y1="177.4" x2="618" y2="180.9" stroke="#444" stroke-width="0.8"/>
<line x1="650" y1="177.4" x2="650" y2="180.9" stroke="#444" stroke-width="0.8"/>
<line x1="682" y1="177.4" x2="682" y2="180.9" stroke="#444" stroke-width="0.8"/>
<path d="M408.00,361.00 C408.60,360.61 410.50,359.09 412.00,358.40 C413.50,357.71 416.63,358.36 418.00,356.40 C419.37,354.44 420.04,351.18 421.10,345.30 C422.17,339.42 424.20,322.76 425.10,317.20 C426.00,311.63 426.35,308.80 427.10,308.20 C427.85,307.60 429.05,314.26 430.10,313.20 C431.15,312.13 432.89,303.81 434.10,301.10 C435.31,298.39 437.13,294.49 438.20,295.10 C439.26,295.72 440.45,302.19 441.20,305.20 C441.95,308.21 442.30,313.40 443.20,315.20 C444.10,317.00 446.15,314.49 447.20,317.20 C448.25,319.91 449.00,329.99 450.20,333.30 C451.40,336.62 453.70,338.25 455.20,339.30 C456.70,340.35 458.83,339.40 460.20,340.30 C461.56,341.20 462.94,343.19 464.30,345.30 C465.67,347.42 467.50,352.28 469.30,354.40 C471.10,356.51 474.65,358.41 476.30,359.40 C477.95,360.39 479.70,360.76 480.30,361.00 Z" fill="#c4c4c4" stroke="none"/>
<path d="M427.10,361.00 C427.85,360.01 430.60,355.24 432.10,354.40 C433.60,353.56 435.59,356.16 437.10,355.40 C438.62,354.63 440.83,351.72 442.20,349.30 C443.56,346.88 444.70,340.95 446.20,339.30 C447.70,337.65 450.10,338.90 452.20,338.30 C454.30,337.70 458.08,336.89 460.20,335.30 C462.31,333.71 464.79,326.80 466.30,327.70 C467.81,328.60 469.10,338.06 470.30,341.30 C471.50,344.54 472.80,347.80 474.30,349.30 C475.80,350.80 478.35,349.55 480.30,351.30 C482.25,353.06 486.25,359.55 487.30,361.00 Z" fill="#4a4a4a" stroke="#111" stroke-width="1.1" stroke-linejoin="round"/>
<path d="M408.00,361.00 C408.60,360.61 410.50,359.09 412.00,358.40 C413.50,357.71 416.63,358.36 418.00,356.40 C419.37,354.44 420.04,351.18 421.10,345.30 C422.17,339.42 424.20,322.76 425.10,317.20 C426.00,311.63 426.35,308.80 427.10,308.20 C427.85,307.60 429.05,314.26 430.10,313.20 C431.15,312.13 432.89,303.81 434.10,301.10 C435.31,298.39 437.13,294.49 438.20,295.10 C439.26,295.72 440.45,302.19 441.20,305.20 C441.95,308.21 442.30,313.40 443.20,315.20 C444.10,317.00 446.15,314.49 447.20,317.20 C448.25,319.91 449.00,329.99 450.20,333.30 C451.40,336.62 453.70,338.25 455.20,339.30 C456.70,340.35 458.83,339.40 460.20,340.30 C461.56,341.20 462.94,343.19 464.30,345.30 C465.67,347.42 467.50,352.28 469.30,354.40 C471.10,356.51 474.65,358.41 476.30,359.40 C477.95,360.39 479.70,360.76 480.30,361.00" fill="none" stroke="#111" stroke-width="1.6" stroke-dasharray="1.1 0.8"/>
<rect x="407.9" y="224.5" width="136.90" height="136.90" stroke="#555" stroke-width="1.4" fill="none"/>
<line x1="444.7" y1="255.9" x2="541.6" y2="255.9" stroke="#333" stroke-width="1.6"/>
<line x1="444.7" y1="252.4" x2="444.7" y2="259.4" stroke="#333" stroke-width="1.6"/>
<line x1="541.6" y1="252.4" x2="541.6" y2="259.4" stroke="#333" stroke-width="1.6"/>
<text x="538.6" y="251.2" font-size="17" text-anchor="end" fill="#111">85</text>
<text x="538.6" y="273.6" font-size="17" text-anchor="end" fill="#909090">32</text>
<line x1="405.7" y1="354.86499999999995" x2="407.9" y2="354.86499999999995" stroke="#333" stroke-width="0.9"/>
<line x1="405.7" y1="348.33" x2="407.9" y2="348.33" stroke="#333" stroke-width="0.9"/>
<line x1="405.7" y1="341.79499999999996" x2="407.9" y2="341.79499999999996" stroke="#333" stroke-width="0.9"/>
<line x1="405.7" y1="328.72499999999997" x2="407.9" y2="328.72499999999997" stroke="#333" stroke-width="0.9"/>
<line x1="405.7" y1="322.19" x2="407.9" y2="322.19" stroke="#333" stroke-width="0.9"/>
<line x1="405.7" y1="315.655" x2="407.9" y2="315.655" stroke="#333" stroke-width="0.9"/>
<line x1="405.7" y1="302.585" x2="407.9" y2="302.585" stroke="#333" stroke-width="0.9"/>
<line x1="405.7" y1="296.05" x2="407.9" y2="296.05" stroke="#333" stroke-width="0.9"/>
<line x1="405.7" y1="289.515" x2="407.9" y2="289.515" stroke="#333" stroke-width="0.9"/>
<line x1="405.7" y1="276.445" x2="407.9" y2="276.445" stroke="#333" stroke-width="0.9"/>
<line x1="405.7" y1="269.91" x2="407.9" y2="269.91" stroke="#333" stroke-width="0.9"/>
<line x1="405.7" y1="263.375" x2="407.9" y2="263.375" stroke="#333" stroke-width="0.9"/>
<line x1="405.7" y1="250.30499999999998" x2="407.9" y2="250.30499999999998" stroke="#333" stroke-width="0.9"/>
<line x1="405.7" y1="243.76999999999998" x2="407.9" y2="243.76999999999998" stroke="#333" stroke-width="0.9"/>
<line x1="405.7" y1="237.23499999999999" x2="407.9" y2="237.23499999999999" stroke="#333" stroke-width="0.9"/>
<line x1="403.4" y1="361.4" x2="407.9" y2="361.4" stroke="#333" stroke-width="0.9"/>
<line x1="403.4" y1="335.26" x2="407.9" y2="335.26" stroke="#333" stroke-width="0.9"/>
<line x1="403.4" y1="309.12" x2="407.9" y2="309.12" stroke="#333" stroke-width="0.9"/>
<line x1="403.4" y1="282.98" x2="407.9" y2="282.98" stroke="#333" stroke-width="0.9"/>
<line x1="403.4" y1="256.84" x2="407.9" y2="256.84" stroke="#333" stroke-width="0.9"/>
<line x1="403.4" y1="230.7" x2="407.9" y2="230.7" stroke="#333" stroke-width="0.9"/>
<line x1="416.12780988292747" y1="361.4" x2="416.12780988292747" y2="363.2" stroke="#444" stroke-width="0.8"/>
<line x1="420.88227387743086" y1="361.4" x2="420.88227387743086" y2="363.2" stroke="#444" stroke-width="0.8"/>
<line x1="424.255619765855" y1="361.4" x2="424.255619765855" y2="363.2" stroke="#444" stroke-width="0.8"/>
<line x1="426.87219011707253" y1="361.4" x2="426.87219011707253" y2="363.2" stroke="#444" stroke-width="0.8"/>
<line x1="429.0100837603584" y1="361.4" x2="429.0100837603584" y2="363.2" stroke="#444" stroke-width="0.8"/>
<line x1="430.8176470803849" y1="361.4" x2="430.8176470803849" y2="363.2" stroke="#444" stroke-width="0.8"/>
<line x1="432.38342964878245" y1="361.4" x2="432.38342964878245" y2="363.2" stroke="#444" stroke-width="0.8"/>
<line x1="433.7645477548618" y1="361.4" x2="433.7645477548618" y2="363.2" stroke="#444" stroke-width="0.8"/>
<line x1="444.6329598612474" y1="361.4" x2="444.6329598612474" y2="363.2" stroke="#444" stroke-width="0.8"/>
<line x1="450.2678801510292" y1="361.4" x2="450.2678801510292" y2="363.2" stroke="#444" stroke-width="0.8"/>
<line x1="454.2659197224948" y1="361.4" x2="454.2659197224948" y2="363.2" stroke="#444" stroke-width="0.8"/>
<line x1="457.3670401387526" y1="361.4" x2="457.3670401387526" y2="363.2" stroke="#444" stroke-width="0.8"/>
<line x1="459.9008400122766" y1="361.4" x2="459.9008400122766" y2="363.2" stroke="#444" stroke-width="0.8"/>
<line x1="462.0431372804562" y1="361.4" x2="462.0431372804562" y2="363.2" stroke="#444" stroke-width="0.8"/>
<line x1="463.8988795837422" y1="361.4" x2="463.8988795837422" y2="363.2" stroke="#444" stroke-width="0.8"/>
<line x1="465.5357603020584" y1="361.4" x2="465.5357603020584" y2="363.2" stroke="#444" stroke-width="0.8"/>
<line x1="476.6329598612474" y1="361.4" x2="476.6329598612474" y2="363.2" stroke="#444" stroke-width="0.8"/>
<line x1="482.2678801510292" y1="361.4" x2="482.2678801510292" y2="363.2" stroke="#444" stroke-width="0.8"/>
<line x1="486.2659197224948" y1="361.4" x2="486.2659197224948" y2="363.2" stroke="#444" stroke-width="0.8"/>
<line x1="489.3670401387526" y1="361.4" x2="489.3670401387526" y2="363.2" stroke="#444" stroke-width="0.8"/>
<line x1="491.9008400122766" y1="361.4" x2="491.9008400122766" y2="363.2" stroke="#444" stroke-width="0.8"/>
<line x1="494.0431372804562" y1="361.4" x2="494.0431372804562" y2="363.2" stroke="#444" stroke-width="0.8"/>
<line x1="495.8988795837422" y1="361.4" x2="495.8988795837422" y2="363.2" stroke="#444" stroke-width="0.8"/>
<line x1="497.5357603020584" y1="361.4" x2="497.5357603020584" y2="363.2" stroke="#444" stroke-width="0.8"/>
<line x1="508.6329598612474" y1="361.4" x2="508.6329598612474" y2="363.2" stroke="#444" stroke-width="0.8"/>
<line x1="514.2678801510292" y1="361.4" x2="514.2678801510292" y2="363.2" stroke="#444" stroke-width="0.8"/>
<line x1="518.2659197224948" y1="361.4" x2="518.2659197224948" y2="363.2" stroke="#444" stroke-width="0.8"/>
<line x1="521.3670401387526" y1="361.4" x2="521.3670401387526" y2="363.2" stroke="#444" stroke-width="0.8"/>
<line x1="523.9008400122766" y1="361.4" x2="523.9008400122766" y2="363.2" stroke="#444" stroke-width="0.8"/>
<line x1="526.0431372804562" y1="361.4" x2="526.0431372804562" y2="363.2" stroke="#444" stroke-width="0.8"/>
<line x1="527.8988795837422" y1="361.4" x2="527.8988795837422" y2="363.2" stroke="#444" stroke-width="0.8"/>
<line x1="529.5357603020584" y1="361.4" x2="529.5357603020584" y2="363.2" stroke="#444" stroke-width="0.8"/>
<line x1="408" y1="361.4" x2="408" y2="364.9" stroke="#444" stroke-width="0.8"/>
<line x1="435" y1="361.4" x2="435" y2="364.9" stroke="#444" stroke-width="0.8"/>
<line x1="467" y1="361.4" x2="467" y2="364.9" stroke="#444" stroke-width="0.8"/>
<line x1="499" y1="361.4" x2="499" y2="364.9" stroke="#444" stroke-width="0.8"/>
<line x1="531" y1="361.4" x2="531" y2="364.9" stroke="#444" stroke-width="0.8"/>
<path d="M592.20,359.80 C593.40,357.62 597.80,348.82 600.20,345.30 C602.60,341.78 606.24,339.92 608.20,336.30 C610.17,332.69 612.08,327.38 613.30,321.20 C614.51,315.02 615.40,300.52 616.30,295.10 C617.20,289.69 618.55,286.75 619.30,285.10 C620.05,283.45 620.70,283.86 621.30,284.10 C621.90,284.34 622.40,286.85 623.30,286.70 C624.20,286.55 626.25,284.09 627.30,283.10 C628.35,282.11 629.55,279.80 630.30,280.10 C631.05,280.40 631.70,281.34 632.30,285.10 C632.90,288.87 633.55,297.67 634.30,305.20 C635.05,312.73 636.38,327.62 637.30,335.30 C638.21,342.98 639.33,352.94 640.40,356.40 C641.47,359.86 642.90,357.89 644.40,358.40 C645.90,358.91 649.50,359.59 650.40,359.80 Z" fill="#c4c4c4" stroke="none"/>
<path d="M583.10,359.80 C583.87,358.23 586.84,353.28 588.20,349.30 C589.57,345.32 591.06,336.76 592.20,333.30 C593.34,329.84 594.66,326.65 595.80,326.20 C596.94,325.75 598.78,328.34 599.80,330.30 C600.82,332.26 601.79,337.50 602.60,339.30 C603.41,341.10 604.36,343.05 605.20,342.30 C606.04,341.55 607.30,337.17 608.20,334.30 C609.10,331.44 610.35,325.62 611.20,323.20 C612.06,320.78 612.99,316.53 613.90,318.20 C614.81,319.87 616.19,330.38 617.30,334.30 C618.41,338.22 619.80,341.60 621.30,344.30 C622.80,347.00 625.50,349.98 627.30,352.30 C629.10,354.62 632.40,358.68 633.30,359.80 Z" fill="#4a4a4a" stroke="#111" stroke-width="1.1" stroke-linejoin="round"/>
<path d="M592.20,359.80 C593.40,357.62 597.80,348.82 600.20,345.30 C602.60,341.78 606.24,339.92 608.20,336.30 C610.17,332.69 612.08,327.38 613.30,321.20 C614.51,315.02 615.40,300.52 616.30,295.10 C617.20,289.69 618.55,286.75 619.30,285.10 C620.05,283.45 620.70,283.86 621.30,284.10 C621.90,284.34 622.40,286.85 623.30,286.70 C624.20,286.55 626.25,284.09 627.30,283.10 C628.35,282.11 629.55,279.80 630.30,280.10 C631.05,280.40 631.70,281.34 632.30,285.10 C632.90,288.87 633.55,297.67 634.30,305.20 C635.05,312.73 636.38,327.62 637.30,335.30 C638.21,342.98 639.33,352.94 640.40,356.40 C641.47,359.86 642.90,357.89 644.40,358.40 C645.90,358.91 649.50,359.59 650.40,359.80" fill="none" stroke="#111" stroke-width="1.6" stroke-dasharray="1.1 0.8"/>
<rect x="559.4" y="224" width="135.20" height="135.80" stroke="#555" stroke-width="1.4" fill="none"/>
<line x1="607.4" y1="254.8" x2="690.8" y2="254.8" stroke="#333" stroke-width="1.6"/>
<line x1="607.4" y1="251.3" x2="607.4" y2="258.3" stroke="#333" stroke-width="1.6"/>
<line x1="690.8" y1="251.3" x2="690.8" y2="258.3" stroke="#333" stroke-width="1.6"/>
<text x="687.8" y="250.4" font-size="17" text-anchor="end" fill="#909090">91</text>
<text x="689" y="271.9" font-size="17" text-anchor="end" fill="#111">54</text>
<line x1="557.1999999999999" y1="353.32" x2="559.4" y2="353.32" stroke="#333" stroke-width="0.9"/>
<line x1="557.1999999999999" y1="346.84000000000003" x2="559.4" y2="346.84000000000003" stroke="#333" stroke-width="0.9"/>
<line x1="557.1999999999999" y1="340.36" x2="559.4" y2="340.36" stroke="#333" stroke-width="0.9"/>
<line x1="557.1999999999999" y1="327.4" x2="559.4" y2="327.4" stroke="#333" stroke-width="0.9"/>
<line x1="557.1999999999999" y1="320.92" x2="559.4" y2="320.92" stroke="#333" stroke-width="0.9"/>
<line x1="557.1999999999999" y1="314.44" x2="559.4" y2="314.44" stroke="#333" stroke-width="0.9"/>
<line x1="557.1999999999999" y1="301.47999999999996" x2="559.4" y2="301.47999999999996" stroke="#333" stroke-width="0.9"/>
<line x1="557.1999999999999" y1="295.0" x2="559.4" y2="295.0" stroke="#333" stroke-width="0.9"/>
<line x1="557.1999999999999" y1="288.52" x2="559.4" y2="288.52" stroke="#333" stroke-width="0.9"/>
<line x1="557.1999999999999" y1="275.55999999999995" x2="559.4" y2="275.55999999999995" stroke="#333" stroke-width="0.9"/>
<line x1="557.1999999999999" y1="269.08" x2="559.4" y2="269.08" stroke="#333" stroke-width="0.9"/>
<line x1="557.1999999999999" y1="262.59999999999997" x2="559.4" y2="262.59999999999997" stroke="#333" stroke-width="0.9"/>
<line x1="557.1999999999999" y1="249.64000000000001" x2="559.4" y2="249.64000000000001" stroke="#333" stroke-width="0.9"/>
<line x1="557.1999999999999" y1="243.16" x2="559.4" y2="243.16" stroke="#333" stroke-width="0.9"/>
<line x1="557.1999999999999" y1="236.68" x2="559.4" y2="236.68" stroke="#333" stroke-width="0.9"/>
<line x1="554.9" y1="359.8" x2="559.4" y2="359.8" stroke="#333" stroke-width="0.9"/>
<line x1="554.9" y1="333.88" x2="559.4" y2="333.88" stroke="#333" stroke-width="0.9"/>
<line x1="554.9" y1="307.96" x2="559.4" y2="307.96" stroke="#333" stroke-width="0.9"/>
<line x1="554.9" y1="282.03999999999996" x2="559.4" y2="282.03999999999996" stroke="#333" stroke-width="0.9"/>
<line x1="554.9" y1="256.12" x2="559.4" y2="256.12" stroke="#333" stroke-width="0.9"/>
<line x1="554.9" y1="230.2" x2="559.4" y2="230.2" stroke="#333" stroke-width="0.9"/>
<line x1="567.1278098829275" y1="359.8" x2="567.1278098829275" y2="361.6" stroke="#444" stroke-width="0.8"/>
<line x1="571.8822738774309" y1="359.8" x2="571.8822738774309" y2="361.6" stroke="#444" stroke-width="0.8"/>
<line x1="575.2556197658549" y1="359.8" x2="575.2556197658549" y2="361.6" stroke="#444" stroke-width="0.8"/>
<line x1="577.8721901170725" y1="359.8" x2="577.8721901170725" y2="361.6" stroke="#444" stroke-width="0.8"/>
<line x1="580.0100837603584" y1="359.8" x2="580.0100837603584" y2="361.6" stroke="#444" stroke-width="0.8"/>
<line x1="581.817647080385" y1="359.8" x2="581.817647080385" y2="361.6" stroke="#444" stroke-width="0.8"/>
<line x1="583.3834296487825" y1="359.8" x2="583.3834296487825" y2="361.6" stroke="#444" stroke-width="0.8"/>
<line x1="584.7645477548617" y1="359.8" x2="584.7645477548617" y2="361.6" stroke="#444" stroke-width="0.8"/>
<line x1="595.6329598612474" y1="359.8" x2="595.6329598612474" y2="361.6" stroke="#444" stroke-width="0.8"/>
<line x1="601.2678801510292" y1="359.8" x2="601.2678801510292" y2="361.6" stroke="#444" stroke-width="0.8"/>
<line x1="605.2659197224948" y1="359.8" x2="605.2659197224948" y2="361.6" stroke="#444" stroke-width="0.8"/>
<line x1="608.3670401387526" y1="359.8" x2="608.3670401387526" y2="361.6" stroke="#444" stroke-width="0.8"/>
<line x1="610.9008400122766" y1="359.8" x2="610.9008400122766" y2="361.6" stroke="#444" stroke-width="0.8"/>
<line x1="613.0431372804562" y1="359.8" x2="613.0431372804562" y2="361.6" stroke="#444" stroke-width="0.8"/>
<line x1="614.8988795837422" y1="359.8" x2="614.8988795837422" y2="361.6" stroke="#444" stroke-width="0.8"/>
<line x1="616.5357603020584" y1="359.8" x2="616.5357603020584" y2="361.6" stroke="#444" stroke-width="0.8"/>
<line x1="627.6329598612474" y1="359.8" x2="627.6329598612474" y2="361.6" stroke="#444" stroke-width="0.8"/>
<line x1="633.2678801510292" y1="359.8" x2="633.2678801510292" y2="361.6" stroke="#444" stroke-width="0.8"/>
<line x1="637.2659197224948" y1="359.8" x2="637.2659197224948" y2="361.6" stroke="#444" stroke-width="0.8"/>
<line x1="640.3670401387526" y1="359.8" x2="640.3670401387526" y2="361.6" stroke="#444" stroke-width="0.8"/>
<line x1="642.9008400122766" y1="359.8" x2="642.9008400122766" y2="361.6" stroke="#444" stroke-width="0.8"/>
<line x1="645.0431372804562" y1="359.8" x2="645.0431372804562" y2="361.6" stroke="#444" stroke-width="0.8"/>
<line x1="646.8988795837422" y1="359.8" x2="646.8988795837422" y2="361.6" stroke="#444" stroke-width="0.8"/>
<line x1="648.5357603020584" y1="359.8" x2="648.5357603020584" y2="361.6" stroke="#444" stroke-width="0.8"/>
<line x1="659.6329598612474" y1="359.8" x2="659.6329598612474" y2="361.6" stroke="#444" stroke-width="0.8"/>
<line x1="665.2678801510292" y1="359.8" x2="665.2678801510292" y2="361.6" stroke="#444" stroke-width="0.8"/>
<line x1="669.2659197224948" y1="359.8" x2="669.2659197224948" y2="361.6" stroke="#444" stroke-width="0.8"/>
<line x1="672.3670401387526" y1="359.8" x2="672.3670401387526" y2="361.6" stroke="#444" stroke-width="0.8"/>
<line x1="674.9008400122766" y1="359.8" x2="674.9008400122766" y2="361.6" stroke="#444" stroke-width="0.8"/>
<line x1="677.0431372804562" y1="359.8" x2="677.0431372804562" y2="361.6" stroke="#444" stroke-width="0.8"/>
<line x1="678.8988795837422" y1="359.8" x2="678.8988795837422" y2="361.6" stroke="#444" stroke-width="0.8"/>
<line x1="680.5357603020584" y1="359.8" x2="680.5357603020584" y2="361.6" stroke="#444" stroke-width="0.8"/>
<line x1="559" y1="359.8" x2="559" y2="363.3" stroke="#444" stroke-width="0.8"/>
<line x1="586" y1="359.8" x2="586" y2="363.3" stroke="#444" stroke-width="0.8"/>
<line x1="618" y1="359.8" x2="618" y2="363.3" stroke="#444" stroke-width="0.8"/>
<line x1="650" y1="359.8" x2="650" y2="363.3" stroke="#444" stroke-width="0.8"/>
<line x1="682" y1="359.8" x2="682" y2="363.3" stroke="#444" stroke-width="0.8"/>
<line x1="402.6" y1="373.6" x2="499.8" y2="373.6" stroke="#333" stroke-width="1.3"/>
<text x="506" y="385.1" font-size="16.5" text-anchor="start" fill="#111" textLength="101" lengthAdjust="spacingAndGlyphs">Fluorescence</text>
<line x1="614.6" y1="374.9" x2="686" y2="374.9" stroke="#333" stroke-width="1.3"/>
<polygon points="692.2,374.9 685.2,372.4 685.2,377.4" stroke="#222" stroke-width="0" fill="#111" stroke-linejoin="miter"/>
<rect x="401.6" y="398" width="14.60" height="15.20" stroke="#222" stroke-width="1.2" fill="#c4c4c4" stroke-dasharray="2.2 1.3"/>
<text x="422.2" y="414.2" font-size="16" text-anchor="start" fill="#111" textLength="30" lengthAdjust="spacingAndGlyphs">Flu+</text>
<rect x="457.7" y="399.1" width="15.20" height="15.70" stroke="none" stroke-width="0" fill="#333"/>
<text x="478.4" y="414.2" font-size="16" text-anchor="start" fill="#111" textLength="54" lengthAdjust="spacingAndGlyphs">OmpC+</text>
<text x="5.8" y="458.3" font-size="31" text-anchor="start" fill="#111" font-weight="bold" stroke="#000" stroke-width="0.5">C</text>
<line x1="65.8" y1="516.0" x2="65.8" y2="747.8" stroke="#111" stroke-width="3"/>
<line x1="59.3" y1="746.3" x2="65.8" y2="746.3" stroke="#111" stroke-width="2.4000000000000004"/>
<text x="56.2" y="752.0999999999999" font-size="18" text-anchor="end" fill="#111" font-weight="bold">0</text>
<line x1="59.3" y1="700.54" x2="65.8" y2="700.54" stroke="#111" stroke-width="2.4000000000000004"/>
<text x="56.2" y="706.3399999999999" font-size="18" text-anchor="end" fill="#111" font-weight="bold">20</text>
<line x1="59.3" y1="654.78" x2="65.8" y2="654.78" stroke="#111" stroke-width="2.4000000000000004"/>
<text x="56.2" y="660.5799999999999" font-size="18" text-anchor="end" fill="#111" font-weight="bold">40</text>
<line x1="59.3" y1="609.02" x2="65.8" y2="609.02" stroke="#111" stroke-width="2.4000000000000004"/>
<text x="56.2" y="614.8199999999999" font-size="18" text-anchor="end" fill="#111" font-weight="bold">60</text>
<line x1="59.3" y1="563.26" x2="65.8" y2="563.26" stroke="#111" stroke-width="2.4000000000000004"/>
<text x="56.2" y="569.06" font-size="18" text-anchor="end" fill="#111" font-weight="bold">80</text>
<line x1="59.3" y1="517.5" x2="65.8" y2="517.5" stroke="#111" stroke-width="2.4000000000000004"/>
<text x="56.2" y="523.3" font-size="18" text-anchor="end" fill="#111" font-weight="bold">100</text>
<line x1="64.3" y1="746.3" x2="326.7" y2="746.3" stroke="#111" stroke-width="3"/>
<line x1="130.2" y1="746.3" x2="130.2" y2="752.5999999999999" stroke="#111" stroke-width="2.4000000000000004"/>
<line x1="260.2" y1="746.3" x2="260.2" y2="752.5999999999999" stroke="#111" stroke-width="2.4000000000000004"/>
<text transform="translate(17.9,670.7) rotate(-90)" x="0" y="0" font-size="18.5" font-weight="bold" fill="#111" letter-spacing="1.6">%α4β7<tspan font-size="15" dy="-3.5">+</tspan></text>
<text x="130.4" y="770.7" font-size="18" text-anchor="middle" fill="#111" font-weight="bold" textLength="63" lengthAdjust="spacingAndGlyphs">Healthy</text>
<text x="130.4" y="790.5" font-size="18" text-anchor="middle" fill="#111" font-weight="bold" textLength="62" lengthAdjust="spacingAndGlyphs">Control</text>
<text x="260.4" y="770.7" font-size="18" text-anchor="middle" fill="#111" font-weight="bold" textLength="65.5" lengthAdjust="spacingAndGlyphs">Crohn's</text>
<text x="260.4" y="790.2" font-size="18" text-anchor="middle" fill="#111" font-weight="bold" textLength="66" lengthAdjust="spacingAndGlyphs">Disease</text>
<polyline points="105.7,506.7 105.7,496.8 152.1,496.8 152.1,506.7" fill="none" stroke="#111" stroke-width="3" stroke-linejoin="miter"/>
<polyline points="235,506.7 235,496.8 282.2,496.8 282.2,506.7" fill="none" stroke="#111" stroke-width="3" stroke-linejoin="miter"/>
<polyline points="153,467.5 153,458.1 282.1,458.1 282.1,467.5" fill="none" stroke="#111" stroke-width="3" stroke-linejoin="miter"/>
<text x="86.6" y="492.1" font-size="18.5" text-anchor="start" fill="#111" textLength="78.6" lengthAdjust="spacingAndGlyphs">.0000026</text>
<text x="231.2" y="491.9" font-size="18.5" text-anchor="start" fill="#111" textLength="78.3" lengthAdjust="spacingAndGlyphs">.0000045</text>
<text x="198.3" y="449.8" font-size="18.3" text-anchor="start" fill="#111">.21</text>
<circle cx="149.2" cy="517.3" r="5" fill="#575757"/>
<circle cx="157.7" cy="517.3" r="5" fill="#575757"/>
<circle cx="153.2" cy="566.7" r="5" fill="#575757"/>
<circle cx="162.5" cy="574.2" r="5" fill="#575757"/>
<circle cx="144.3" cy="579.8" r="5" fill="#575757"/>
<circle cx="148.8" cy="593.5" r="5" fill="#575757"/>
<circle cx="158" cy="602" r="5" fill="#575757"/>
<circle cx="149.2" cy="608.9" r="5" fill="#575757"/>
<circle cx="158" cy="617" r="5" fill="#575757"/>
<circle cx="140.2" cy="627.4" r="5" fill="#575757"/>
<circle cx="157.6" cy="631.5" r="5" fill="#575757"/>
<circle cx="149" cy="635.5" r="5" fill="#575757"/>
<circle cx="140.2" cy="638.2" r="5" fill="#575757"/>
<circle cx="149" cy="640.8" r="5" fill="#575757"/>
<circle cx="167" cy="636.1" r="5" fill="#575757"/>
<circle cx="167" cy="639.5" r="5" fill="#575757"/>
<circle cx="158.3" cy="650.6" r="5" fill="#575757"/>
<circle cx="153.6" cy="680" r="5" fill="#575757"/>
<circle cx="158.3" cy="693" r="5" fill="#575757"/>
<circle cx="140.2" cy="702.4" r="5" fill="#575757"/>
<circle cx="149" cy="705.8" r="5" fill="#575757"/>
<circle cx="157.6" cy="714.9" r="5" fill="#575757"/>
<circle cx="167" cy="714.9" r="5" fill="#575757"/>
<circle cx="153.6" cy="745.9" r="5" fill="#575757"/>
<circle cx="283.2" cy="517.3" r="5" fill="#575757"/>
<circle cx="283.2" cy="551.7" r="5" fill="#575757"/>
<circle cx="283.2" cy="574.4" r="5" fill="#575757"/>
<circle cx="278.5" cy="603.3" r="5" fill="#575757"/>
<circle cx="287.6" cy="603.3" r="5" fill="#575757"/>
<circle cx="292.3" cy="620.7" r="5" fill="#575757"/>
<circle cx="274.3" cy="625.4" r="5" fill="#575757"/>
<circle cx="283.4" cy="631.5" r="5" fill="#575757"/>
<circle cx="278.9" cy="634.5" r="5" fill="#575757"/>
<circle cx="287.6" cy="647.1" r="5" fill="#575757"/>
<circle cx="270" cy="669.9" r="5" fill="#575757"/>
<circle cx="297" cy="677" r="5" fill="#575757"/>
<circle cx="278.9" cy="679.3" r="5" fill="#575757"/>
<circle cx="287.6" cy="679.3" r="5" fill="#575757"/>
<circle cx="270" cy="688.4" r="5" fill="#575757"/>
<circle cx="278.5" cy="692.4" r="5" fill="#575757"/>
<circle cx="287.6" cy="694.4" r="5" fill="#575757"/>
<circle cx="297" cy="700.1" r="5" fill="#575757"/>
<circle cx="287.9" cy="712.7" r="5" fill="#575757"/>
<circle cx="278.5" cy="725.8" r="5" fill="#575757"/>
<circle cx="270" cy="745.9" r="5" fill="#575757"/>
<circle cx="278.9" cy="745.9" r="5" fill="#575757"/>
<circle cx="287.6" cy="745.9" r="5" fill="#575757"/>
<circle cx="296.7" cy="745.9" r="5" fill="#575757"/>
<circle cx="106.8" cy="644.8" r="4.7" fill="none" stroke="#111" stroke-width="1.3"/>
<circle cx="109.2" cy="649.5" r="4.7" fill="none" stroke="#111" stroke-width="1.3"/>
<circle cx="106.8" cy="675.6" r="4.7" fill="none" stroke="#111" stroke-width="1.3"/>
<circle cx="108.8" cy="677.4" r="4.7" fill="none" stroke="#111" stroke-width="1.3"/>
<circle cx="109.5" cy="689.7" r="4.7" fill="none" stroke="#111" stroke-width="1.3"/>
<circle cx="106.8" cy="694.4" r="4.7" fill="none" stroke="#111" stroke-width="1.3"/>
<circle cx="111.5" cy="696.4" r="4.7" fill="none" stroke="#111" stroke-width="1.3"/>
<circle cx="104.8" cy="704.4" r="4.7" fill="none" stroke="#111" stroke-width="1.3"/>
<circle cx="108.1" cy="707.8" r="4.7" fill="none" stroke="#111" stroke-width="1.3"/>
<circle cx="101.4" cy="711.8" r="4.7" fill="none" stroke="#111" stroke-width="1.3"/>
<circle cx="111.5" cy="713.1" r="4.7" fill="none" stroke="#111" stroke-width="1.3"/>
<circle cx="104.1" cy="716.5" r="4.7" fill="none" stroke="#111" stroke-width="1.3"/>
<circle cx="113.5" cy="721.1" r="4.7" fill="none" stroke="#111" stroke-width="1.3"/>
<circle cx="107.4" cy="724.5" r="4.7" fill="none" stroke="#111" stroke-width="1.3"/>
<circle cx="104.1" cy="732.5" r="4.7" fill="none" stroke="#111" stroke-width="1.3"/>
<circle cx="110.8" cy="733.9" r="4.7" fill="none" stroke="#111" stroke-width="1.3"/>
<circle cx="94.7" cy="737.9" r="4.7" fill="none" stroke="#111" stroke-width="1.3"/>
<circle cx="97.4" cy="739.2" r="4.7" fill="none" stroke="#111" stroke-width="1.3"/>
<circle cx="102.1" cy="737.2" r="4.7" fill="none" stroke="#111" stroke-width="1.3"/>
<circle cx="106.1" cy="739.2" r="4.7" fill="none" stroke="#111" stroke-width="1.3"/>
<circle cx="113.5" cy="737.9" r="4.7" fill="none" stroke="#111" stroke-width="1.3"/>
<circle cx="118.8" cy="736.5" r="4.7" fill="none" stroke="#111" stroke-width="1.3"/>
<circle cx="116.1" cy="740.6" r="4.7" fill="none" stroke="#111" stroke-width="1.3"/>
<circle cx="121.5" cy="745.9" r="4.7" fill="none" stroke="#111" stroke-width="1.3"/>
<circle cx="237.4" cy="613.8" r="4.7" fill="none" stroke="#111" stroke-width="1.3"/>
<circle cx="237.4" cy="709.5" r="4.7" fill="none" stroke="#111" stroke-width="1.3"/>
<circle cx="236.1" cy="721.2" r="4.7" fill="none" stroke="#111" stroke-width="1.3"/>
<circle cx="240.5" cy="722.1" r="4.7" fill="none" stroke="#111" stroke-width="1.3"/>
<circle cx="242.1" cy="726.5" r="4.7" fill="none" stroke="#111" stroke-width="1.3"/>
<circle cx="233.4" cy="724.5" r="4.7" fill="none" stroke="#111" stroke-width="1.3"/>
<circle cx="227.4" cy="732.5" r="4.7" fill="none" stroke="#111" stroke-width="1.3"/>
<circle cx="232.1" cy="735.2" r="4.7" fill="none" stroke="#111" stroke-width="1.3"/>
<circle cx="239.5" cy="737.9" r="4.7" fill="none" stroke="#111" stroke-width="1.3"/>
<circle cx="248.8" cy="735.2" r="4.7" fill="none" stroke="#111" stroke-width="1.3"/>
<circle cx="224.7" cy="746.6" r="4.7" fill="none" stroke="#111" stroke-width="1.3"/>
<circle cx="231.4" cy="745.9" r="4.7" fill="none" stroke="#111" stroke-width="1.3"/>
<circle cx="236.8" cy="745.2" r="4.7" fill="none" stroke="#111" stroke-width="1.3"/>
<circle cx="244.8" cy="745.9" r="4.7" fill="none" stroke="#111" stroke-width="1.3"/>
<circle cx="250.2" cy="745.2" r="4.7" fill="none" stroke="#111" stroke-width="1.3"/>
<circle cx="240.1" cy="741.9" r="4.7" fill="none" stroke="#111" stroke-width="1.3"/>
<circle cx="234.1" cy="740.6" r="4.7" fill="none" stroke="#111" stroke-width="1.3"/>
<line x1="88.7" y1="714" x2="126.9" y2="714" stroke="#111" stroke-width="2.6"/>
<line x1="107.7" y1="685" x2="107.7" y2="745" stroke="#111" stroke-width="2.6"/>
<line x1="98.7" y1="685" x2="117.2" y2="685" stroke="#111" stroke-width="2.6"/>
<line x1="134.9" y1="637.2" x2="172.4" y2="637.2" stroke="#111" stroke-width="2.6"/>
<line x1="153.4" y1="577.1" x2="153.4" y2="697.5" stroke="#111" stroke-width="2.6"/>
<line x1="144.3" y1="577.1" x2="162.8" y2="577.1" stroke="#111" stroke-width="2.6"/>
<line x1="145" y1="697.5" x2="162.3" y2="697.5" stroke="#111" stroke-width="2.6"/>
<line x1="218.3" y1="730.5" x2="256.9" y2="730.5" stroke="#111" stroke-width="2.6"/>
<line x1="237.4" y1="703.7" x2="237.4" y2="745" stroke="#111" stroke-width="2.6"/>
<line x1="228" y1="703.7" x2="247.2" y2="703.7" stroke="#111" stroke-width="2.6"/>
<line x1="264.6" y1="662.9" x2="302.4" y2="662.9" stroke="#111" stroke-width="2.6"/>
<line x1="283" y1="600" x2="283" y2="726.5" stroke="#111" stroke-width="2.6"/>
<line x1="274.2" y1="600" x2="292.9" y2="600" stroke="#111" stroke-width="2.6"/>
<line x1="274" y1="726.5" x2="292.7" y2="726.5" stroke="#111" stroke-width="2.6"/>
<circle cx="95.6" cy="828.3" r="12.4" fill="none" stroke="#111" stroke-width="2.8"/>
<text x="120" y="837.8" font-size="27" text-anchor="start" fill="#111">Flu+</text>
<circle cx="191" cy="829.3" r="14.5" fill="#575757"/>
<text x="213.9" y="837.8" font-size="27" text-anchor="start" fill="#111" textLength="90.4" lengthAdjust="spacingAndGlyphs">OmpC+</text>
<text x="377.8" y="458.1" font-size="31" text-anchor="start" fill="#111" font-weight="bold" stroke="#000" stroke-width="0.5">D</text>
<line x1="436.8" y1="503.0" x2="436.8" y2="771.0" stroke="#111" stroke-width="3"/>
<line x1="429.3" y1="769.5" x2="436.8" y2="769.5" stroke="#111" stroke-width="2.4000000000000004"/>
<text x="425" y="776.5" font-size="20" text-anchor="end" fill="#111" font-weight="bold">0</text>
<line x1="429.3" y1="680.76" x2="436.8" y2="680.76" stroke="#111" stroke-width="2.4000000000000004"/>
<text x="425" y="687.76" font-size="20" text-anchor="end" fill="#111" font-weight="bold">20</text>
<line x1="429.3" y1="592.02" x2="436.8" y2="592.02" stroke="#111" stroke-width="2.4000000000000004"/>
<text x="425" y="599.02" font-size="20" text-anchor="end" fill="#111" font-weight="bold">40</text>
<line x1="429.3" y1="503.28" x2="436.8" y2="503.28" stroke="#111" stroke-width="2.4000000000000004"/>
<text x="425" y="510.28" font-size="20" text-anchor="end" fill="#111" font-weight="bold">60</text>
<line x1="435.3" y1="769.5" x2="733.8" y2="769.5" stroke="#111" stroke-width="3"/>
<line x1="509.6" y1="769.5" x2="509.6" y2="776.5" stroke="#111" stroke-width="2.4000000000000004"/>
<line x1="658" y1="769.5" x2="658" y2="776.5" stroke="#111" stroke-width="2.4000000000000004"/>
<text transform="translate(384.7,735.3) rotate(-90)" x="0" y="0" font-size="21.5" fill="#111" font-weight="bold" textLength="199" lengthAdjust="spacingAndGlyphs">%CD161+, CXCR3-</text>
<text x="509.9" y="797.9" font-size="20.5" text-anchor="middle" fill="#111" font-weight="bold" textLength="73" lengthAdjust="spacingAndGlyphs">Healthy</text>
<text x="510.2" y="820.8" font-size="20.5" text-anchor="middle" fill="#111" font-weight="bold" textLength="71.3" lengthAdjust="spacingAndGlyphs">Control</text>
<text x="658.3" y="797.9" font-size="20.5" text-anchor="middle" fill="#111" font-weight="bold" textLength="76" lengthAdjust="spacingAndGlyphs">Crohn's</text>
<text x="658.6" y="821.4" font-size="20.5" text-anchor="middle" fill="#111" font-weight="bold" textLength="75.3" lengthAdjust="spacingAndGlyphs">Disease</text>
<polyline points="482.7,531 482.7,518.9 536.2,518.9 536.2,531" fill="none" stroke="#111" stroke-width="3.6" stroke-linejoin="miter"/>
<polyline points="634.1,560.8 634.1,548.8 688.2,548.8 688.2,560.8" fill="none" stroke="#111" stroke-width="3.6" stroke-linejoin="miter"/>
<polyline points="537.5,479.4 537.5,468 686.6,468 686.6,479.4" fill="none" stroke="#111" stroke-width="3.6" stroke-linejoin="miter"/>
<text x="476.8" y="508.1" font-size="20.8" text-anchor="start" fill="#111" textLength="78" lengthAdjust="spacingAndGlyphs">.000042</text>
<text x="629.2" y="538.7" font-size="20" text-anchor="start" fill="#111" textLength="88.5" lengthAdjust="spacingAndGlyphs">.0000091</text>
<text x="590" y="459.6" font-size="20.2" text-anchor="start" fill="#111" textLength="30" lengthAdjust="spacingAndGlyphs">.58</text>
<circle cx="536.2" cy="549" r="5.6" fill="#575757"/>
<circle cx="536.1" cy="617.8" r="5.6" fill="#575757"/>
<circle cx="534" cy="630.4" r="5.6" fill="#575757"/>
<circle cx="538.9" cy="638.7" r="5.6" fill="#575757"/>
<circle cx="538.9" cy="663.1" r="5.6" fill="#575757"/>
<circle cx="534" cy="675.3" r="5.6" fill="#575757"/>
<circle cx="521.8" cy="680.8" r="5.6" fill="#575757"/>
<circle cx="530.5" cy="684" r="5.6" fill="#575757"/>
<circle cx="546.2" cy="681.4" r="5.6" fill="#575757"/>
<circle cx="537.5" cy="689.2" r="5.6" fill="#575757"/>
<circle cx="542.7" cy="687.5" r="5.6" fill="#575757"/>
<circle cx="551.4" cy="692.7" r="5.6" fill="#575757"/>
<circle cx="530.5" cy="707" r="5.6" fill="#575757"/>
<circle cx="541" cy="711.8" r="5.6" fill="#575757"/>
<circle cx="535.7" cy="716.2" r="5.6" fill="#575757"/>
<circle cx="534.8" cy="733.1" r="5.6" fill="#575757"/>
<circle cx="538.9" cy="748.7" r="5.6" fill="#575757"/>
<circle cx="521.8" cy="769.3" r="5.6" fill="#575757"/>
<circle cx="529" cy="769.3" r="5.6" fill="#575757"/>
<circle cx="536.6" cy="769.3" r="5.6" fill="#575757"/>
<circle cx="544" cy="769.3" r="5.6" fill="#575757"/>
<circle cx="551.4" cy="769.3" r="5.6" fill="#575757"/>
<circle cx="527.9" cy="682.7" r="5.6" fill="#575757"/>
<circle cx="531.3" cy="687.5" r="5.6" fill="#575757"/>
<circle cx="534.2" cy="691.4" r="5.6" fill="#575757"/>
<circle cx="541" cy="685.6" r="5.6" fill="#575757"/>
<circle cx="685.2" cy="580" r="5.6" fill="#575757"/>
<circle cx="669.5" cy="623.3" r="5.6" fill="#575757"/>
<circle cx="675.8" cy="618.8" r="5.6" fill="#575757"/>
<circle cx="682" cy="615.3" r="5.6" fill="#575757"/>
<circle cx="687.4" cy="613.5" r="5.6" fill="#575757"/>
<circle cx="692.7" cy="614.4" r="5.6" fill="#575757"/>
<circle cx="699.9" cy="622.8" r="5.6" fill="#575757"/>
<circle cx="681.1" cy="642.9" r="5.6" fill="#575757"/>
<circle cx="689.2" cy="656.3" r="5.6" fill="#575757"/>
<circle cx="681.1" cy="681.3" r="5.6" fill="#575757"/>
<circle cx="689.2" cy="689.3" r="5.6" fill="#575757"/>
<circle cx="673.5" cy="696.4" r="5.6" fill="#575757"/>
<circle cx="696.3" cy="699.1" r="5.6" fill="#575757"/>
<circle cx="681.1" cy="705.3" r="5.6" fill="#575757"/>
<circle cx="689.2" cy="708" r="5.6" fill="#575757"/>
<circle cx="677" cy="711.2" r="5.6" fill="#575757"/>
<circle cx="683.8" cy="723.2" r="5.6" fill="#575757"/>
<circle cx="692.4" cy="725" r="5.6" fill="#575757"/>
<circle cx="692.7" cy="732.1" r="5.6" fill="#575757"/>
<circle cx="684.7" cy="740.1" r="5.6" fill="#575757"/>
<circle cx="678.5" cy="745.5" r="5.6" fill="#575757"/>
<circle cx="673.5" cy="754.4" r="5.6" fill="#575757"/>
<circle cx="681.1" cy="769.5" r="5.6" fill="#575757"/>
<circle cx="688.7" cy="769.5" r="5.6" fill="#575757"/>
<circle cx="696.3" cy="769.5" r="5.6" fill="#575757"/>
<circle cx="484.4" cy="716.7" r="5.2" fill="none" stroke="#111" stroke-width="1.4"/>
<circle cx="480.4" cy="720.9" r="5.2" fill="none" stroke="#111" stroke-width="1.4"/>
<circle cx="486.6" cy="729.2" r="5.2" fill="none" stroke="#111" stroke-width="1.4"/>
<circle cx="477.4" cy="737.9" r="5.2" fill="none" stroke="#111" stroke-width="1.4"/>
<circle cx="492.2" cy="741.4" r="5.2" fill="none" stroke="#111" stroke-width="1.4"/>
<circle cx="476.5" cy="743.2" r="5.2" fill="none" stroke="#111" stroke-width="1.4"/>
<circle cx="484.4" cy="742.3" r="5.2" fill="none" stroke="#111" stroke-width="1.4"/>
<circle cx="476.5" cy="755.3" r="5.2" fill="none" stroke="#111" stroke-width="1.4"/>
<circle cx="492.2" cy="755.3" r="5.2" fill="none" stroke="#111" stroke-width="1.4"/>
<circle cx="484.4" cy="757.1" r="5.2" fill="none" stroke="#111" stroke-width="1.4"/>
<circle cx="469.6" cy="769.3" r="5.2" fill="none" stroke="#111" stroke-width="1.4"/>
<circle cx="476.5" cy="769.3" r="5.2" fill="none" stroke="#111" stroke-width="1.4"/>
<circle cx="484.4" cy="769.3" r="5.2" fill="none" stroke="#111" stroke-width="1.4"/>
<circle cx="492.2" cy="769.3" r="5.2" fill="none" stroke="#111" stroke-width="1.4"/>
<circle cx="499.2" cy="769.3" r="5.2" fill="none" stroke="#111" stroke-width="1.4"/>
<circle cx="480" cy="764" r="5.2" fill="none" stroke="#111" stroke-width="1.4"/>
<circle cx="488.7" cy="762.3" r="5.2" fill="none" stroke="#111" stroke-width="1.4"/>
<circle cx="480" cy="748" r="5.2" fill="none" stroke="#111" stroke-width="1.4"/>
<circle cx="488.5" cy="748.5" r="5.2" fill="none" stroke="#111" stroke-width="1.4"/>
<circle cx="472" cy="762" r="5.2" fill="none" stroke="#111" stroke-width="1.4"/>
<circle cx="496" cy="762" r="5.2" fill="none" stroke="#111" stroke-width="1.4"/>
<circle cx="482" cy="735" r="5.2" fill="none" stroke="#111" stroke-width="1.4"/>
<circle cx="490" cy="736" r="5.2" fill="none" stroke="#111" stroke-width="1.4"/>
<circle cx="474" cy="769.3" r="5.2" fill="none" stroke="#111" stroke-width="1.4"/>
<circle cx="480.5" cy="769.3" r="5.2" fill="none" stroke="#111" stroke-width="1.4"/>
<circle cx="487" cy="769.3" r="5.2" fill="none" stroke="#111" stroke-width="1.4"/>
<circle cx="493.5" cy="769.3" r="5.2" fill="none" stroke="#111" stroke-width="1.4"/>
<circle cx="632.5" cy="673.2" r="5.2" fill="none" stroke="#111" stroke-width="1.4"/>
<circle cx="632.5" cy="700" r="5.2" fill="none" stroke="#111" stroke-width="1.4"/>
<circle cx="634.8" cy="720.5" r="5.2" fill="none" stroke="#111" stroke-width="1.4"/>
<circle cx="629.4" cy="725" r="5.2" fill="none" stroke="#111" stroke-width="1.4"/>
<circle cx="637.4" cy="729.4" r="5.2" fill="none" stroke="#111" stroke-width="1.4"/>
<circle cx="625" cy="733.9" r="5.2" fill="none" stroke="#111" stroke-width="1.4"/>
<circle cx="622.3" cy="736.5" r="5.2" fill="none" stroke="#111" stroke-width="1.4"/>
<circle cx="628.5" cy="741.9" r="5.2" fill="none" stroke="#111" stroke-width="1.4"/>
<circle cx="635.7" cy="742.8" r="5.2" fill="none" stroke="#111" stroke-width="1.4"/>
<circle cx="641" cy="742.8" r="5.2" fill="none" stroke="#111" stroke-width="1.4"/>
<circle cx="625.9" cy="755.3" r="5.2" fill="none" stroke="#111" stroke-width="1.4"/>
<circle cx="632.1" cy="758" r="5.2" fill="none" stroke="#111" stroke-width="1.4"/>
<circle cx="637.4" cy="758" r="5.2" fill="none" stroke="#111" stroke-width="1.4"/>
<circle cx="617.8" cy="769.5" r="5.2" fill="none" stroke="#111" stroke-width="1.4"/>
<circle cx="625" cy="769.5" r="5.2" fill="none" stroke="#111" stroke-width="1.4"/>
<circle cx="631.2" cy="769.5" r="5.2" fill="none" stroke="#111" stroke-width="1.4"/>
<circle cx="639.2" cy="769.5" r="5.2" fill="none" stroke="#111" stroke-width="1.4"/>
<circle cx="646.4" cy="769.5" r="5.2" fill="none" stroke="#111" stroke-width="1.4"/>
<circle cx="628" cy="748" r="5.2" fill="none" stroke="#111" stroke-width="1.4"/>
<circle cx="636" cy="749" r="5.2" fill="none" stroke="#111" stroke-width="1.4"/>
<circle cx="622" cy="762" r="5.2" fill="none" stroke="#111" stroke-width="1.4"/>
<circle cx="642" cy="762" r="5.2" fill="none" stroke="#111" stroke-width="1.4"/>
<circle cx="629" cy="731" r="5.2" fill="none" stroke="#111" stroke-width="1.4"/>
<circle cx="621" cy="769.5" r="5.2" fill="none" stroke="#111" stroke-width="1.4"/>
<circle cx="628" cy="769.5" r="5.2" fill="none" stroke="#111" stroke-width="1.4"/>
<circle cx="635" cy="769.5" r="5.2" fill="none" stroke="#111" stroke-width="1.4"/>
<circle cx="643" cy="769.5" r="5.2" fill="none" stroke="#111" stroke-width="1.4"/>
<line x1="462.6" y1="751.9" x2="505.8" y2="751.9" stroke="#111" stroke-width="2.6"/>
<line x1="483.9" y1="736.2" x2="483.9" y2="768" stroke="#111" stroke-width="2.6"/>
<line x1="474" y1="736.2" x2="494.8" y2="736.2" stroke="#111" stroke-width="2.6"/>
<line x1="515.2" y1="702.3" x2="558.3" y2="702.3" stroke="#111" stroke-width="2.6"/>
<line x1="536.6" y1="645.7" x2="536.6" y2="758.5" stroke="#111" stroke-width="2.6"/>
<line x1="525.6" y1="645.7" x2="547" y2="645.7" stroke="#111" stroke-width="2.6"/>
<line x1="525.6" y1="758.5" x2="547" y2="758.5" stroke="#111" stroke-width="2.6"/>
<line x1="611" y1="746.3" x2="653.9" y2="746.3" stroke="#111" stroke-width="2.6"/>
<line x1="632.5" y1="721.4" x2="632.5" y2="768" stroke="#111" stroke-width="2.6"/>
<line x1="622.3" y1="721.4" x2="643.2" y2="721.4" stroke="#111" stroke-width="2.6"/>
<line x1="663.3" y1="692" x2="707" y2="692" stroke="#111" stroke-width="2.6"/>
<line x1="685" y1="634.5" x2="685" y2="748.7" stroke="#111" stroke-width="2.6"/>
<line x1="674.5" y1="634.5" x2="695.4" y2="634.5" stroke="#111" stroke-width="2.6"/>
<line x1="674.5" y1="748.7" x2="695.4" y2="748.7" stroke="#111" stroke-width="2.6"/>
<text x="208.5" y="888.8" font-size="31" text-anchor="start" fill="#111" font-weight="bold" stroke="#000" stroke-width="0.5">E</text>
<line x1="281.6" y1="953.0000000000001" x2="281.6" y2="1184.4" stroke="#111" stroke-width="2.8"/>
<line x1="275.1" y1="1183.0" x2="281.6" y2="1183.0" stroke="#111" stroke-width="2.2399999999999998"/>
<text x="272.6" y="1189.0" font-size="18" text-anchor="end" fill="#111" font-weight="bold">0</text>
<line x1="275.1" y1="1137.2" x2="281.6" y2="1137.2" stroke="#111" stroke-width="2.2399999999999998"/>
<text x="272.6" y="1143.2" font-size="18" text-anchor="end" fill="#111" font-weight="bold">20</text>
<line x1="275.1" y1="1091.4" x2="281.6" y2="1091.4" stroke="#111" stroke-width="2.2399999999999998"/>
<text x="272.6" y="1097.4" font-size="18" text-anchor="end" fill="#111" font-weight="bold">40</text>
<line x1="275.1" y1="1045.6" x2="281.6" y2="1045.6" stroke="#111" stroke-width="2.2399999999999998"/>
<text x="272.6" y="1051.6" font-size="18" text-anchor="end" fill="#111" font-weight="bold">60</text>
<line x1="275.1" y1="999.8" x2="281.6" y2="999.8" stroke="#111" stroke-width="2.2399999999999998"/>
<text x="272.6" y="1005.8" font-size="18" text-anchor="end" fill="#111" font-weight="bold">80</text>
<line x1="275.1" y1="954.0" x2="281.6" y2="954.0" stroke="#111" stroke-width="2.2399999999999998"/>
<text x="272.6" y="960.0" font-size="18" text-anchor="end" fill="#111" font-weight="bold">100</text>
<line x1="280.20000000000005" y1="1183" x2="537.3" y2="1183" stroke="#111" stroke-width="2.8"/>
<line x1="345.5" y1="1183" x2="345.5" y2="1189.3" stroke="#111" stroke-width="2.2399999999999998"/>
<line x1="472.7" y1="1183" x2="472.7" y2="1189.3" stroke="#111" stroke-width="2.2399999999999998"/>
<text transform="translate(228.7,1153.2) rotate(-90)" x="0" y="0" font-size="19.5" fill="#111" font-weight="bold" textLength="171" lengthAdjust="spacingAndGlyphs">%CXCR3+, CD161-</text>
<text x="345.3" y="1206.8" font-size="17.5" text-anchor="middle" fill="#111" font-weight="bold" textLength="62.6" lengthAdjust="spacingAndGlyphs">Healthy</text>
<text x="345.2" y="1227.1" font-size="17.5" text-anchor="middle" fill="#111" font-weight="bold" textLength="61.2" lengthAdjust="spacingAndGlyphs">Control</text>
<text x="472.8" y="1206.9" font-size="17.5" text-anchor="middle" fill="#111" font-weight="bold" textLength="65.2" lengthAdjust="spacingAndGlyphs">Crohn's</text>
<text x="472.7" y="1227.1" font-size="17.5" text-anchor="middle" fill="#111" font-weight="bold" textLength="65.5" lengthAdjust="spacingAndGlyphs">Disease</text>
<polyline points="322.5,942.6 322.5,932.8 367.6,932.8 367.6,942.6" fill="none" stroke="#111" stroke-width="3" stroke-linejoin="miter"/>
<polyline points="451.7,948.5 451.7,939.2 497.6,939.2 497.6,948.5" fill="none" stroke="#111" stroke-width="3" stroke-linejoin="miter"/>
<polyline points="368.7,898 368.7,888.6 497.3,888.6 497.3,898" fill="none" stroke="#111" stroke-width="3" stroke-linejoin="miter"/>
<text x="318" y="923" font-size="18.4" text-anchor="start" fill="#111" textLength="55.5" lengthAdjust="spacingAndGlyphs">.00017</text>
<text x="447" y="930.9" font-size="17.5" text-anchor="start" fill="#111" textLength="67.5" lengthAdjust="spacingAndGlyphs">.000013</text>
<text x="413.8" y="880.7" font-size="17.5" text-anchor="start" fill="#111" textLength="25.8" lengthAdjust="spacingAndGlyphs">.22</text>
<circle cx="368.1" cy="955" r="4.85" fill="#575757"/>
<circle cx="368.1" cy="1027.2" r="4.85" fill="#575757"/>
<circle cx="365.8" cy="1054.3" r="4.85" fill="#575757"/>
<circle cx="369.5" cy="1056.5" r="4.85" fill="#575757"/>
<circle cx="362.9" cy="1068.6" r="4.85" fill="#575757"/>
<circle cx="373.2" cy="1074.2" r="4.85" fill="#575757"/>
<circle cx="368" cy="1094.8" r="4.85" fill="#575757"/>
<circle cx="365.1" cy="1106.6" r="4.85" fill="#575757"/>
<circle cx="370.3" cy="1112.5" r="4.85" fill="#575757"/>
<circle cx="360.7" cy="1120.6" r="4.85" fill="#575757"/>
<circle cx="374.7" cy="1125.7" r="4.85" fill="#575757"/>
<circle cx="364.4" cy="1127.2" r="4.85" fill="#575757"/>
<circle cx="360.4" cy="1131.6" r="4.85" fill="#575757"/>
<circle cx="368" cy="1133.1" r="4.85" fill="#575757"/>
<circle cx="376.9" cy="1136" r="4.85" fill="#575757"/>
<circle cx="381.3" cy="1140.5" r="4.85" fill="#575757"/>
<circle cx="364.4" cy="1138.2" r="4.85" fill="#575757"/>
<circle cx="355.5" cy="1144.1" r="4.85" fill="#575757"/>
<circle cx="360" cy="1149.3" r="4.85" fill="#575757"/>
<circle cx="365.1" cy="1151.5" r="4.85" fill="#575757"/>
<circle cx="371.7" cy="1153" r="4.85" fill="#575757"/>
<circle cx="375.4" cy="1163.3" r="4.85" fill="#575757"/>
<circle cx="368" cy="1183.2" r="4.85" fill="#575757"/>
<circle cx="495.4" cy="993" r="4.85" fill="#575757"/>
<circle cx="489.2" cy="1068.9" r="4.85" fill="#575757"/>
<circle cx="495.8" cy="1068.9" r="4.85" fill="#575757"/>
<circle cx="501.7" cy="1068.9" r="4.85" fill="#575757"/>
<circle cx="492.2" cy="1085.8" r="4.85" fill="#575757"/>
<circle cx="499.5" cy="1087.3" r="4.85" fill="#575757"/>
<circle cx="489.2" cy="1102" r="4.85" fill="#575757"/>
<circle cx="495.8" cy="1104.2" r="4.85" fill="#575757"/>
<circle cx="501.9" cy="1114.1" r="4.85" fill="#575757"/>
<circle cx="494.7" cy="1121.4" r="4.85" fill="#575757"/>
<circle cx="489.1" cy="1126.3" r="4.85" fill="#575757"/>
<circle cx="501.9" cy="1132.2" r="4.85" fill="#575757"/>
<circle cx="482.7" cy="1141.8" r="4.85" fill="#575757"/>
<circle cx="489.1" cy="1143.5" r="4.85" fill="#575757"/>
<circle cx="501.1" cy="1143.5" r="4.85" fill="#575757"/>
<circle cx="508" cy="1150.7" r="4.85" fill="#575757"/>
<circle cx="505.9" cy="1155.2" r="4.85" fill="#575757"/>
<circle cx="485.9" cy="1164.3" r="4.85" fill="#575757"/>
<circle cx="492.3" cy="1166.7" r="4.85" fill="#575757"/>
<circle cx="498.7" cy="1163.5" r="4.85" fill="#575757"/>
<circle cx="486" cy="1182.8" r="4.85" fill="#575757"/>
<circle cx="492.5" cy="1182.8" r="4.85" fill="#575757"/>
<circle cx="499" cy="1182.8" r="4.85" fill="#575757"/>
<circle cx="505" cy="1182.8" r="4.85" fill="#575757"/>
<circle cx="323.2" cy="955" r="4.5" fill="none" stroke="#111" stroke-width="1.2"/>
<circle cx="317.8" cy="998.6" r="4.5" fill="none" stroke="#111" stroke-width="1.2"/>
<circle cx="323.7" cy="1000.5" r="4.5" fill="none" stroke="#111" stroke-width="1.2"/>
<circle cx="329" cy="1004" r="4.5" fill="none" stroke="#111" stroke-width="1.2"/>
<circle cx="323.7" cy="1018.7" r="4.5" fill="none" stroke="#111" stroke-width="1.2"/>
<circle cx="323.7" cy="1028" r="4.5" fill="none" stroke="#111" stroke-width="1.2"/>
<circle cx="329" cy="1031.5" r="4.5" fill="none" stroke="#111" stroke-width="1.2"/>
<circle cx="317.8" cy="1038.8" r="4.5" fill="none" stroke="#111" stroke-width="1.2"/>
<circle cx="310.6" cy="1056.5" r="4.5" fill="none" stroke="#111" stroke-width="1.2"/>
<circle cx="315" cy="1058" r="4.5" fill="none" stroke="#111" stroke-width="1.2"/>
<circle cx="319.5" cy="1059.5" r="4.5" fill="none" stroke="#111" stroke-width="1.2"/>
<circle cx="330.5" cy="1059.5" r="4.5" fill="none" stroke="#111" stroke-width="1.2"/>
<circle cx="325.3" cy="1063.9" r="4.5" fill="none" stroke="#111" stroke-width="1.2"/>
<circle cx="336.4" cy="1064.2" r="4.5" fill="none" stroke="#111" stroke-width="1.2"/>
<circle cx="326.1" cy="1075.7" r="4.5" fill="none" stroke="#111" stroke-width="1.2"/>
<circle cx="315" cy="1077.1" r="4.5" fill="none" stroke="#111" stroke-width="1.2"/>
<circle cx="320.2" cy="1080.1" r="4.5" fill="none" stroke="#111" stroke-width="1.2"/>
<circle cx="330.5" cy="1083.8" r="4.5" fill="none" stroke="#111" stroke-width="1.2"/>
<circle cx="323.9" cy="1094.8" r="4.5" fill="none" stroke="#111" stroke-width="1.2"/>
<circle cx="328.6" cy="1094.8" r="4.5" fill="none" stroke="#111" stroke-width="1.2"/>
<circle cx="318" cy="1107.3" r="4.5" fill="none" stroke="#111" stroke-width="1.2"/>
<circle cx="318.7" cy="1111.7" r="4.5" fill="none" stroke="#111" stroke-width="1.2"/>
<circle cx="323.6" cy="1114.7" r="4.5" fill="none" stroke="#111" stroke-width="1.2"/>
<circle cx="328.3" cy="1121.3" r="4.5" fill="none" stroke="#111" stroke-width="1.2"/>
<circle cx="323.1" cy="1141.6" r="4.5" fill="none" stroke="#111" stroke-width="1.2"/>
<circle cx="447.2" cy="967.7" r="4.5" fill="none" stroke="#111" stroke-width="1.2"/>
<circle cx="453.9" cy="979.5" r="4.5" fill="none" stroke="#111" stroke-width="1.2"/>
<circle cx="457.6" cy="995.2" r="4.5" fill="none" stroke="#111" stroke-width="1.2"/>
<circle cx="450.6" cy="1000.4" r="4.5" fill="none" stroke="#111" stroke-width="1.2"/>
<circle cx="443.9" cy="1008" r="4.5" fill="none" stroke="#111" stroke-width="1.2"/>
<circle cx="460.5" cy="1025.1" r="4.5" fill="none" stroke="#111" stroke-width="1.2"/>
<circle cx="440.6" cy="1029.1" r="4.5" fill="none" stroke="#111" stroke-width="1.2"/>
<circle cx="447.2" cy="1029.8" r="4.5" fill="none" stroke="#111" stroke-width="1.2"/>
<circle cx="454.2" cy="1034" r="4.5" fill="none" stroke="#111" stroke-width="1.2"/>
<circle cx="454.2" cy="1056.3" r="4.5" fill="none" stroke="#111" stroke-width="1.2"/>
<circle cx="447.2" cy="1061.9" r="4.5" fill="none" stroke="#111" stroke-width="1.2"/>
<circle cx="463.9" cy="1067" r="4.5" fill="none" stroke="#111" stroke-width="1.2"/>
<circle cx="437.7" cy="1068.4" r="4.5" fill="none" stroke="#111" stroke-width="1.2"/>
<circle cx="444.3" cy="1076.7" r="4.5" fill="none" stroke="#111" stroke-width="1.2"/>
<circle cx="457.1" cy="1075.5" r="4.5" fill="none" stroke="#111" stroke-width="1.2"/>
<circle cx="450.9" cy="1080.6" r="4.5" fill="none" stroke="#111" stroke-width="1.2"/>
<circle cx="450.9" cy="1090.5" r="4.5" fill="none" stroke="#111" stroke-width="1.2"/>
<circle cx="457.1" cy="1091.4" r="4.5" fill="none" stroke="#111" stroke-width="1.2"/>
<circle cx="443.9" cy="1097.6" r="4.5" fill="none" stroke="#111" stroke-width="1.2"/>
<circle cx="444.3" cy="1099.8" r="4.5" fill="none" stroke="#111" stroke-width="1.2"/>
<circle cx="450.5" cy="1111.3" r="4.5" fill="none" stroke="#111" stroke-width="1.2"/>
<circle cx="457.3" cy="1113.7" r="4.5" fill="none" stroke="#111" stroke-width="1.2"/>
<circle cx="450.5" cy="1136.2" r="4.5" fill="none" stroke="#111" stroke-width="1.2"/>
<circle cx="450.5" cy="1182.8" r="4.5" fill="none" stroke="#111" stroke-width="1.2"/>
<line x1="304.7" y1="1061.4" x2="341.3" y2="1061.4" stroke="#111" stroke-width="2.4"/>
<line x1="323.1" y1="1017.3" x2="323.1" y2="1106.3" stroke="#111" stroke-width="2.4"/>
<line x1="315.1" y1="1017.3" x2="332.5" y2="1017.3" stroke="#111" stroke-width="2.4"/>
<line x1="313.6" y1="1106.3" x2="332.7" y2="1106.3" stroke="#111" stroke-width="2.4"/>
<line x1="349.6" y1="1109.8" x2="386.9" y2="1109.8" stroke="#111" stroke-width="2.4"/>
<line x1="368" y1="1059.9" x2="368" y2="1159.9" stroke="#111" stroke-width="2.4"/>
<line x1="359.2" y1="1059.9" x2="377.2" y2="1059.9" stroke="#111" stroke-width="2.4"/>
<line x1="359.2" y1="1159.9" x2="377.2" y2="1159.9" stroke="#111" stroke-width="2.4"/>
<line x1="432.5" y1="1061.6" x2="468.6" y2="1061.6" stroke="#111" stroke-width="2.4"/>
<line x1="450.6" y1="1009.5" x2="450.6" y2="1113.7" stroke="#111" stroke-width="2.4"/>
<line x1="441.4" y1="1009.5" x2="459.8" y2="1009.5" stroke="#111" stroke-width="2.4"/>
<line x1="441.7" y1="1113.7" x2="458.6" y2="1113.7" stroke="#111" stroke-width="2.4"/>
<line x1="477" y1="1125" x2="514" y2="1125" stroke="#111" stroke-width="2.4"/>
<line x1="495.2" y1="1078.7" x2="495.2" y2="1171.2" stroke="#111" stroke-width="2.4"/>
<line x1="486.3" y1="1078.7" x2="504.7" y2="1078.7" stroke="#111" stroke-width="2.4"/>
<line x1="486.7" y1="1171.2" x2="504.3" y2="1171.2" stroke="#111" stroke-width="2.4"/>
</svg>
</body></html>
